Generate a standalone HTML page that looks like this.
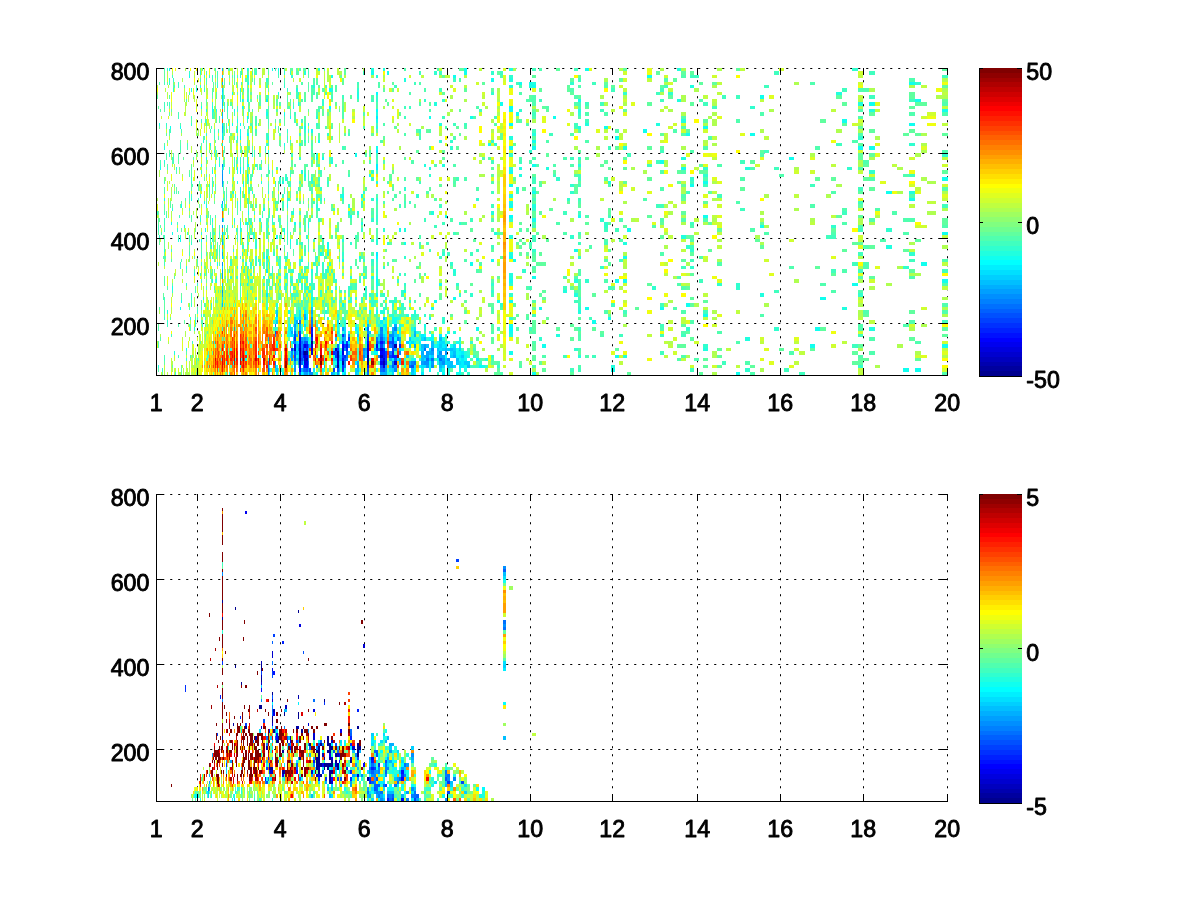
<!DOCTYPE html>
<html><head><meta charset="utf-8"><title>figure</title>
<style>html,body{margin:0;padding:0;background:#fff}svg{display:block}text{font-family:"Liberation Sans",Arial,Helvetica,sans-serif;font-size:23.2px;fill:#000;stroke:#000;stroke-width:0.9px;stroke-linejoin:round}</style></head>
<body>
<svg width="1200" height="900" viewBox="0 0 1200 900">
<rect width="1200" height="900" fill="#fff"/>
<g stroke="#000" stroke-width="1" stroke-dasharray="2.1 5.9" fill="none"><path stroke-dashoffset="-4.2" d="M197.5 68V375M280.5 68V375M364.5 68V375M447.5 68V375M530.5 68V375M612.5 68V375M697.5 68V375M780.5 68V375M863.5 68V375M947.5 68V375"/><path stroke-dashoffset="-6.2" d="M156 68.5H948M156 153.5H948M156 238.5H948M156 323.5H948"/></g>
<g fill="none" shape-rendering="crispEdges"><path stroke="#00008f" stroke-width="2" d="M300 358v3M305 351v4M312 341v3M368 355v10"/>
<path stroke="#00009f" stroke-width="2" d="M338 365v3"/>
<path stroke="#0000af" stroke-width="2" d="M300 348v10M307 351v4M307 358v3M338 351v7M343 361v4M384 361v4"/>
<path stroke="#0000af" stroke-width="3" d="M395.5 344v4"/>
<path stroke="#0000bf" stroke-width="2" d="M295 348v3M300 361v4M312 344v4M336 348v3"/>
<path stroke="#0000bf" stroke-width="3" d="M381.5 355v3"/>
<path stroke="#0000cf" stroke-width="1" d="M303.5 351v4"/>
<path stroke="#0000cf" stroke-width="2" d="M305 355v6M338 358v7"/>
<path stroke="#0000cf" stroke-width="3" d="M381.5 348v3M395.5 361v4"/>
<path stroke="#0000df" stroke-width="2" d="M300 344v4M305 344v4M305 361v4M312 334v3M312 348v7M343 348v7M368 344v11M384 358v3M384 365v3"/>
<path stroke="#0000ef" stroke-width="2" d="M295 344v4M300 337v4M300 365v3M307 361v4M377 344v4"/>
<path stroke="#0000ef" stroke-width="3" d="M381.5 361v4"/>
<path stroke="#0000ff" stroke-width="2" d="M300 341v3M300 368v4M305 365v3M307 355v3M307 365v3M343 344v4"/>
<path stroke="#0000ff" stroke-width="3" d="M381.5 351v4"/>
<path stroke="#0010ff" stroke-width="1" d="M303.5 355v3"/>
<path stroke="#0010ff" stroke-width="2" d="M307 344v4M312 327v4M343 358v3M347 344v4M368 341v3M368 365v3M384 348v10"/>
<path stroke="#0010ff" stroke-width="3" d="M381.5 341v3"/>
<path stroke="#0020ff" stroke-width="1" d="M303.5 348v3"/>
<path stroke="#0020ff" stroke-width="2" d="M300 334v3M312 331v3M312 337v4M347 348v3M393 351v7M400 344v4"/>
<path stroke="#0020ff" stroke-width="3" d="M381.5 358v3M395.5 355v3"/>
<path stroke="#0030ff" stroke-width="1" d="M303.5 344v4"/>
<path stroke="#0030ff" stroke-width="2" d="M292 348v3M295 337v4M307 348v3M334 351v4M336 355v3M338 348v3M343 334v3M343 365v7M345 355v3M349 337v4M368 337v4M386 355v3M386 361v4"/>
<path stroke="#0040ff" stroke-width="2" d="M295 355v3M302 358v3M310 368v4M334 368v4M336 351v4M343 341v3M343 355v3M345 344v4M347 341v3M368 334v3M377 348v3M386 351v4M386 358v3M393 341v3M393 348v3"/>
<path stroke="#0040ff" stroke-width="3" d="M381.5 344v4M390.5 355v3"/>
<path stroke="#0050ff" stroke-width="1" d="M268.5 368v4M275.5 331v3"/>
<path stroke="#0050ff" stroke-width="2" d="M295 334v3M295 351v4M295 358v3M300 331v3M300 372v3M302 351v4M305 341v3M307 341v3M307 368v4M338 368v4M368 368v4M377 341v3M384 341v3M393 337v4M393 344v4"/>
<path stroke="#0050ff" stroke-width="3" d="M381.5 365v3M390.5 341v3M412.5 365v3"/>
<path stroke="#0060ff" stroke-width="1" d="M268.5 372v3M308.5 361v4"/>
<path stroke="#0060ff" stroke-width="2" d="M302 355v3M305 368v4M345 358v3M347 351v4M379 348v3M384 368v4M393 365v3"/>
<path stroke="#0060ff" stroke-width="3" d="M381.5 337v4M395.5 358v3"/>
<path stroke="#0070ff" stroke-width="1" d="M303.5 368v4M308.5 344v4M308.5 355v3"/>
<path stroke="#0070ff" stroke-width="2" d="M295 331v3M300 320v4M302 341v3M302 348v3M302 361v4M338 344v4M347 355v3M368 327v4M368 372v3M377 337v4M393 361v4M410 365v3M415 361v4M425 348v3"/>
<path stroke="#0070ff" stroke-width="3" d="M381.5 368v4M427.5 358v3M432.5 358v3M440.5 358v3"/>
<path stroke="#0080ff" stroke-width="1" d="M222.5 164v3M268.5 361v4M275.5 324v3M275.5 361v4M298.5 348v3M303.5 358v3M303.5 365v3M308.5 365v3"/>
<path stroke="#0080ff" stroke-width="2" d="M295 341v3M302 344v4M305 348v3M312 320v7M345 365v3M358 365v3M364 348v3M364 355v3M379 355v3M398 337v4M400 351v4"/>
<path stroke="#0080ff" stroke-width="3" d="M381.5 327v4M381.5 334v3M390.5 344v4M390.5 351v4M395.5 327v4M395.5 368v4M412.5 361v4M432.5 348v3"/>
<path stroke="#008fff" stroke-width="1" d="M222.5 174v10M222.5 218v4M222.5 225v3M222.5 262v4M222.5 290v3M268.5 365v3M275.5 334v3M275.5 365v3M339.5 355v3"/>
<path stroke="#008fff" stroke-width="2" d="M292 351v4M295 368v4M305 337v4M310 372v3M312 317v3M312 372v3M317 365v3M345 348v3M345 361v4M347 358v3M349 334v3M349 344v4M368 331v3M379 341v3M393 334v3M425 361v4M438 355v3M446 351v4"/>
<path stroke="#008fff" stroke-width="3" d="M381.5 331v3M390.5 334v3M427.5 361v4M432.5 365v3M440.5 351v4M443.5 361v4"/>
<path stroke="#009fff" stroke-width="1" d="M222.5 68v3M222.5 170v4M222.5 201v3M222.5 242v3M222.5 252v4M222.5 269v10M293.5 341v3M298.5 344v4M298.5 361v4M303.5 341v3M308.5 358v3M308.5 368v4"/>
<path stroke="#009fff" stroke-width="2" d="M292 355v6M295 324v3M295 361v7M302 337v4M305 317v3M305 372v3M307 372v3M336 365v3M338 372v3M343 327v4M343 337v4M345 334v3M358 361v4M364 351v4M366 348v3M386 365v7M393 331v3M400 337v4M415 344v4M425 344v4"/>
<path stroke="#009fff" stroke-width="3" d="M395.5 348v3M395.5 365v3M422.5 361v4M427.5 351v7M427.5 365v3M432.5 351v4M432.5 361v4M443.5 358v3M448.5 358v3"/>
<path stroke="#00afff" stroke-width="1" d="M222.5 82v3M222.5 112v4M222.5 126v3M222.5 184v3M222.5 293v4M222.5 303v4M269.5 368v4M293.5 348v3M298.5 358v3M303.5 337v4M339.5 358v3M339.5 368v4"/>
<path stroke="#00afff" stroke-width="2" d="M292 331v3M295 327v4M297 320v4M300 324v7M302 368v4M305 314v3M307 337v4M310 344v4M312 310v4M332 372v3M341 358v3M364 358v3M368 324v3M384 337v4M384 344v4M384 372v3M386 372v3M393 327v4M400 358v3M410 361v4M415 334v3M425 355v3M430 351v4"/>
<path stroke="#00afff" stroke-width="3" d="M381.5 372v3M390.5 358v3M395.5 324v3M395.5 341v3M422.5 351v4M440.5 355v3M440.5 361v4M443.5 355v3M454.5 355v3"/>
<path stroke="#00bfff" stroke-width="1" d="M222.5 102v4M222.5 116v3M222.5 129v4M222.5 232v3M222.5 239v3M268.5 337v4M308.5 348v7M324.5 365v3M339.5 351v4"/>
<path stroke="#00bfff" stroke-width="2" d="M277 314v3M277 368v4M297 334v3M297 344v4M297 351v4M297 358v3M317 355v3M336 337v4M336 358v3M341 355v3M345 337v4M358 334v3M358 368v4M366 351v4M370 331v3M375 348v3M379 334v3M400 341v3M415 331v3M425 337v4M430 358v3M438 348v3M446 348v3"/>
<path stroke="#00bfff" stroke-width="3" d="M390.5 337v4M390.5 365v3M412.5 368v4M422.5 344v4M422.5 355v6M427.5 344v4M432.5 341v7M440.5 337v4M440.5 365v3M448.5 365v3M451.5 348v3M451.5 361v7M454.5 351v4M457.5 358v3M468.5 365v3"/>
<path stroke="#00cfff" stroke-width="1" d="M222.5 88v4M222.5 95v7M222.5 123v3M222.5 208v3M222.5 235v4M222.5 256v3M222.5 283v3M275.5 351v4M275.5 368v4M290.5 327v4M293.5 337v4M303.5 361v4M339.5 341v3M339.5 365v3"/>
<path stroke="#00cfff" stroke-width="2" d="M277 310v4M277 320v4M289 358v3M295 317v7M312 307v3M312 314v3M334 358v3M334 372v3M349 351v4M356 368v7M366 355v3M379 337v4M384 317v3M393 368v4M398 334v3M400 361v4M410 337v4"/>
<path stroke="#00cfff" stroke-width="3" d="M395.5 331v6M407.5 341v3M407.5 355v3M412.5 372v3M422.5 348v3M432.5 355v3M440.5 344v4M443.5 348v3M448.5 348v3M448.5 361v4M451.5 355v3M454.5 348v3M457.5 361v4M462.5 355v3M465.5 361v4M468.5 361v4"/>
<path stroke="#00dfff" stroke-width="1" d="M222.5 75v3M222.5 106v3M222.5 136v4M222.5 167v3M222.5 204v4M222.5 249v3M222.5 266v3M222.5 286v4M222.5 300v3M226.5 361v4M268.5 341v3M290.5 355v3M298.5 351v4M303.5 372v3M339.5 348v3M339.5 361v4"/>
<path stroke="#00dfff" stroke-width="2" d="M277 344v4M292 327v4M292 334v3M297 341v3M297 348v3M300 314v6M305 324v3M334 348v3M338 320v4M345 327v7M345 341v3M345 372v3M358 372v3M379 344v4M384 334v3M386 337v4M386 348v3M393 372v3M400 348v3M410 344v4M415 365v3M425 358v3M425 365v3M430 348v3M438 351v4M446 344v4M446 358v7M460 348v3M460 361v4"/>
<path stroke="#00dfff" stroke-width="3" d="M390.5 368v4M412.5 341v3M422.5 337v4M422.5 365v3M440.5 341v3M440.5 348v3M440.5 368v4M443.5 341v3M443.5 365v3M451.5 351v4M454.5 344v4M454.5 365v3"/>
<path stroke="#00efff" stroke-width="1" d="M222.5 92v3M222.5 133v3M222.5 143v3M222.5 297v3M240.5 136v4M240.5 167v7M240.5 191v3M240.5 222v3M247.5 174v3M269.5 372v3M290.5 331v6M298.5 355v3M308.5 337v4M308.5 372v3M324.5 361v4"/>
<path stroke="#00efff" stroke-width="2" d="M267 99v3M267 256v3M267 269v4M267 293v4M277 372v3M300 310v4M305 310v4M307 317v3M314 368v4M338 331v3M341 351v4M349 341v3M356 327v4M356 361v4M358 331v3M377 116v3M377 150v3M377 164v6M377 252v4M384 324v3M386 324v7M393 358v3M398 358v3M415 327v4M415 368v7M430 355v3M438 344v4M460 344v4M460 355v3M460 365v3"/>
<path stroke="#00efff" stroke-width="3" d="M381.5 320v4M422.5 334v3M422.5 372v3M440.5 334v3M443.5 344v4M462.5 351v4M462.5 358v10M477.5 358v3"/>
<path stroke="#00ffff" stroke-width="1" d="M224.5 344v4M240.5 123v3M240.5 283v3M241.5 358v3M247.5 75v3M247.5 99v3M247.5 116v3M247.5 133v3M247.5 222v3M247.5 283v3M287.5 334v3M290.5 324v3M298.5 317v3M298.5 341v3"/>
<path stroke="#00ffff" stroke-width="2" d="M246 358v3M277 317v3M277 341v3M277 365v3M283 372v3M289 327v7M292 341v3M297 317v3M302 372v3M307 314v3M312 297v3M317 372v3M323 368v4M330 88v4M330 106v3M334 355v3M338 314v3M338 324v3M341 341v3M341 361v4M343 303v4M343 372v3M345 368v4M358 337v4M375 351v4M377 92v3M377 109v3M377 256v3M377 279v4M377 351v4M386 334v3M400 327v4M410 341v3M415 341v3M415 358v3M420 341v3M420 348v3M420 365v3M425 334v3M430 337v4M430 361v4M430 368v4M438 341v3M438 358v3M446 355v3M460 351v4M460 368v4"/>
<path stroke="#00ffff" stroke-width="3" d="M395.5 337v4M432.5 337v4M443.5 372v3M457.5 355v3M480.5 365v3"/>
<path stroke="#00ffff" stroke-width="4" d="M511 106v3M511 123v3M511 215v3M511 327v4"/>
<path stroke="#10ffef" stroke-width="1" d="M159.5 123v3M160.5 167v3M164.5 198v3M164.5 249v3M169.5 68v3M170.5 126v3M171.5 222v3M172.5 232v3M172.5 286v4M173.5 88v4M180.5 126v3M180.5 239v3M180.5 307v3M181.5 204v4M181.5 300v3M184.5 225v3M186.5 348v3M189.5 75v3M194.5 273v3M196.5 88v4M200.5 194v4M201.5 106v3M201.5 164v3M201.5 239v3M204.5 201v3M205.5 228v4M206.5 109v3M206.5 204v4M209.5 184v3M210.5 143v3M212.5 106v6M212.5 170v4M212.5 184v3M212.5 218v4M212.5 225v3M212.5 279v4M213.5 109v3M216.5 109v3M217.5 262v4M219.5 164v3M224.5 232v3M232.5 92v3M232.5 123v3M233.5 191v3M233.5 361v4M234.5 109v3M234.5 218v4M237.5 119v4M237.5 126v7M237.5 157v3M237.5 167v3M237.5 181v3M240.5 129v7M240.5 187v4M240.5 228v4M240.5 365v3M242.5 99v3M242.5 106v3M243.5 181v6M247.5 68v3M247.5 160v7M248.5 82v3M248.5 126v3M248.5 133v3M248.5 164v3M248.5 177v4M248.5 211v4M252.5 126v3M252.5 191v3M258.5 355v3M268.5 150v3M268.5 358v3M272.5 68v3M275.5 317v3M275.5 327v4M278.5 68v3M284.5 112v4M284.5 143v3M284.5 228v4M287.5 198v3M287.5 204v4M290.5 116v3M290.5 239v3M293.5 211v4M293.5 334v3M298.5 102v4M308.5 222v6M308.5 341v3M339.5 334v3"/>
<path stroke="#10ffef" stroke-width="2" d="M246 351v4M264 208v3M267 112v4M277 235v4M289 310v4M289 324v3M289 334v3M295 222v3M295 314v3M295 372v3M297 355v3M305 126v3M305 174v3M310 341v3M312 129v4M312 303v4M317 157v3M319 140v3M319 327v4M321 252v4M323 157v3M328 242v7M328 252v4M332 75v3M336 361v4M338 327v4M341 365v3M343 194v4M343 259v3M351 215v3M356 153v4M356 324v3M358 327v4M360 256v3M362 194v4M366 327v4M366 341v3M368 320v4M370 174v3M370 310v4M377 119v4M377 146v4M377 276v3M377 283v3M377 293v4M377 310v4M386 317v3M388 71v4M393 317v7M400 228v4M400 334v3M405 242v3M405 290v3M405 365v3M425 324v3M430 116v3M430 317v3M430 365v3M446 215v3M446 334v3M460 358v3M460 372v3"/>
<path stroke="#10ffef" stroke-width="3" d="M372.5 71v4M395.5 317v7M402.5 348v3M412.5 358v3M432.5 307v3M432.5 334v3M435.5 300v3M435.5 344v4M440.5 283v3M443.5 337v4M451.5 344v4M454.5 75v3M454.5 297v3M457.5 341v3M457.5 348v7M457.5 372v3M465.5 68v7M465.5 355v6M465.5 365v3M471.5 116v3M471.5 262v4M477.5 327v4M483.5 365v3M489.5 143v3M492.5 78v4M492.5 259v3M498.5 300v3M501.5 102v4M514.5 259v3M517.5 112v4M520.5 82v3M530.5 82v3M540.5 307v3M554.5 116v3M579.5 99v3M579.5 215v3M609.5 317v3"/>
<path stroke="#10ffef" stroke-width="4" d="M511 109v3M511 146v4M511 170v4M511 184v3M511 204v4M511 256v3M511 279v4M511 300v3M511 324v3M511 331v3M511 351v4M534 85v3M534 140v3M534 146v4M534 164v3M534 191v3M534 218v4M534 276v3M534 372v3M544 344v4M576 249v3M587 68v3M587 307v3M594 320v4M606 126v3M613 368v4M617 136v4M617 279v4M617 355v3M625 256v3M625 279v4M629 228v4M645 129v4M662 160v4M662 307v3M688 133v3M688 303v4M692 184v3M738 372v3M762 95v4M762 225v3"/>
<path stroke="#10ffef" stroke-width="5" d="M649.5 75v3M683.5 167v3M705.5 126v3M705.5 181v3M705.5 215v3M705.5 314v3M752.5 133v3M791.5 157v3M812.5 344v4M817.5 327v4M844.5 119v4M860.5 146v4"/>
<path stroke="#10ffef" stroke-width="6" d="M823 297v3M855 283v3M872 102v4M872 146v4M889 191v3M906 368v4M912 82v3M912 123v3M912 198v3M918 99v3M918 368v4M924 262v4M945 109v3M945 177v4M945 232v3M945 279v4M945 344v4"/>
<path stroke="#20ffdf" stroke-width="1" d="M158.5 365v3M164.5 146v4M164.5 160v4M167.5 310v4M169.5 78v4M172.5 208v3M174.5 351v4M176.5 167v3M178.5 239v3M180.5 235v4M186.5 266v3M190.5 317v3M191.5 88v4M191.5 198v3M194.5 327v4M195.5 320v4M200.5 71v4M200.5 146v4M203.5 140v3M204.5 88v4M206.5 123v3M206.5 157v3M206.5 215v3M212.5 112v4M212.5 256v3M214.5 150v3M214.5 341v3M216.5 279v4M217.5 85v3M219.5 157v3M219.5 334v3M222.5 327v4M227.5 235v4M229.5 170v4M234.5 164v3M235.5 194v4M235.5 358v3M237.5 136v4M237.5 170v4M237.5 201v3M240.5 88v4M240.5 95v4M240.5 225v3M242.5 314v3M242.5 324v3M243.5 327v4M247.5 157v3M247.5 181v3M247.5 252v4M247.5 297v3M248.5 75v3M248.5 232v3M252.5 153v4M253.5 235v4M258.5 259v3M261.5 181v3M261.5 225v3M268.5 136v4M268.5 191v3M269.5 211v4M272.5 218v4M275.5 320v4M278.5 92v3M281.5 368v4M290.5 71v4M290.5 242v3M293.5 106v3M298.5 92v3M308.5 123v3M308.5 129v4M324.5 368v4M339.5 344v4M339.5 372v3"/>
<path stroke="#20ffdf" stroke-width="2" d="M231 348v3M260 167v3M260 355v3M267 307v3M271 368v4M277 303v4M283 181v3M286 177v4M297 88v4M297 324v3M300 279v4M302 170v4M302 259v3M302 327v4M305 71v4M305 320v4M307 310v4M312 177v4M312 269v4M312 293v4M312 300v3M314 85v3M317 116v3M317 153v4M317 204v4M319 68v3M326 310v4M328 317v3M330 262v4M332 88v4M332 160v4M334 361v4M341 324v3M343 239v3M343 331v3M345 320v7M349 211v4M349 331v3M351 276v3M358 92v7M358 211v4M360 368v4M362 222v3M364 276v3M377 75v3M377 112v4M377 126v3M377 181v3M377 198v3M377 239v3M377 259v3M377 269v4M377 368v4M379 324v3M379 331v3M384 68v3M384 310v4M384 327v7M386 320v4M386 331v3M388 372v3M393 303v4M393 314v3M398 317v3M400 324v3M400 331v3M405 78v4M405 228v4M415 310v4M420 334v3M425 164v3M430 167v3M430 331v3M438 361v4M460 337v7"/>
<path stroke="#20ffdf" stroke-width="3" d="M372.5 68v3M372.5 276v3M381.5 310v4M407.5 314v3M412.5 327v4M412.5 337v4M417.5 331v3M417.5 337v4M422.5 368v4M427.5 337v4M432.5 211v4M435.5 102v4M440.5 123v3M443.5 164v3M443.5 368v4M448.5 331v3M448.5 341v3M448.5 368v7M454.5 269v4M454.5 331v3M465.5 351v4M465.5 368v4M468.5 355v3M486.5 358v3M492.5 211v4M495.5 232v3M517.5 187v4M520.5 167v3M520.5 174v3M530.5 85v3M547.5 167v3M579.5 109v3M579.5 126v3M579.5 164v3M579.5 310v4M579.5 355v3M609.5 181v3"/>
<path stroke="#20ffdf" stroke-width="4" d="M511 68v3M511 78v4M511 85v3M511 136v4M511 194v4M511 201v3M511 235v4M511 252v4M511 273v6M511 334v3M534 82v3M534 133v3M534 204v4M558 334v3M565 290v3M576 279v4M576 293v4M587 123v3M613 365v3M625 146v4M625 242v3M625 355v3M658 123v3M679 68v3M679 99v3M692 85v3M762 293v4"/>
<path stroke="#20ffdf" stroke-width="5" d="M683.5 119v4M683.5 157v3M683.5 235v4M705.5 348v3M747.5 167v3M747.5 337v4M844.5 307v3M860.5 102v4"/>
<path stroke="#20ffdf" stroke-width="6" d="M839 92v3M872 109v3M872 327v4M889 245v4M912 191v3"/>
<path stroke="#30ffcf" stroke-width="1" d="M159.5 235v4M160.5 164v3M162.5 368v4M164.5 228v4M164.5 317v3M166.5 123v3M166.5 215v3M167.5 68v3M167.5 320v4M169.5 82v3M169.5 102v4M169.5 153v4M172.5 157v3M172.5 290v3M173.5 78v4M175.5 372v3M177.5 228v4M178.5 82v3M180.5 266v3M186.5 283v3M186.5 358v3M187.5 232v3M189.5 71v4M189.5 191v7M191.5 123v3M191.5 177v7M191.5 242v3M191.5 297v3M191.5 303v4M197.5 283v3M197.5 310v4M200.5 85v3M200.5 218v4M200.5 273v3M201.5 187v4M201.5 232v3M201.5 307v3M201.5 314v3M202.5 324v3M203.5 297v3M204.5 273v3M206.5 133v3M207.5 355v3M208.5 355v3M210.5 242v3M211.5 245v4M211.5 303v7M212.5 75v3M214.5 129v4M214.5 232v3M214.5 286v4M215.5 68v3M215.5 164v3M215.5 344v4M216.5 150v3M216.5 157v3M219.5 160v4M219.5 232v3M219.5 249v3M221.5 204v4M221.5 358v3M222.5 337v4M223.5 126v3M223.5 164v3M223.5 181v3M223.5 218v4M223.5 256v3M224.5 102v4M224.5 129v4M224.5 225v3M224.5 303v4M226.5 194v4M226.5 204v4M227.5 106v6M229.5 372v3M233.5 177v4M233.5 249v3M234.5 157v3M235.5 256v3M236.5 228v4M237.5 109v3M237.5 235v4M237.5 266v3M237.5 276v3M240.5 75v3M240.5 99v3M240.5 160v4M240.5 201v3M240.5 235v4M241.5 71v4M241.5 266v3M242.5 252v4M243.5 88v4M243.5 106v3M243.5 167v3M243.5 245v4M243.5 259v3M244.5 194v4M244.5 249v3M244.5 269v4M247.5 119v4M247.5 153v4M247.5 170v4M247.5 198v3M247.5 235v4M247.5 269v7M247.5 293v4M248.5 187v4M248.5 204v4M248.5 276v3M248.5 341v3M249.5 218v4M249.5 235v4M252.5 170v4M252.5 259v3M253.5 232v3M253.5 266v3M254.5 211v4M254.5 235v4M258.5 368v4M262.5 215v3M265.5 146v4M268.5 167v3M268.5 259v3M269.5 262v4M269.5 279v4M272.5 269v4M275.5 181v3M275.5 283v3M278.5 71v4M278.5 262v4M278.5 273v3M278.5 283v3M278.5 368v4M281.5 334v3M281.5 365v3M284.5 71v4M284.5 85v3M284.5 232v3M287.5 88v4M287.5 129v4M287.5 136v4M287.5 232v7M287.5 252v7M287.5 273v6M287.5 341v3M290.5 218v4M290.5 245v4M290.5 276v3M290.5 290v3M290.5 351v4M290.5 372v3M293.5 269v4M293.5 351v4M293.5 358v3M298.5 187v4M298.5 276v3M298.5 283v3M298.5 307v3M303.5 276v3M308.5 239v3M308.5 245v4M308.5 286v7M308.5 297v3M315.5 256v6M324.5 358v3M339.5 259v3M339.5 300v3M339.5 331v3"/>
<path stroke="#30ffcf" stroke-width="2" d="M231 262v4M231 276v3M246 222v3M246 262v4M251 222v3M251 262v4M251 273v3M251 279v4M256 164v3M256 239v10M256 256v3M256 297v3M260 218v4M260 262v4M264 256v3M264 276v3M267 78v4M267 109v3M267 133v3M267 143v3M267 222v3M267 228v4M267 262v4M267 286v4M271 273v3M274 252v4M274 320v4M280 177v7M280 256v3M280 266v3M280 279v4M283 368v4M286 256v3M286 266v3M286 273v6M286 283v7M289 198v3M289 317v3M292 75v3M292 211v4M292 269v4M292 279v4M292 293v4M292 365v3M297 242v3M297 279v4M297 331v3M300 143v3M300 157v3M300 262v4M300 273v3M302 242v3M302 276v3M302 283v3M302 331v3M305 129v4M305 140v3M305 177v4M305 249v3M305 286v4M305 307v3M305 327v4M307 235v4M307 276v7M307 286v4M307 334v3M310 283v3M310 290v3M312 181v3M312 273v3M312 279v4M312 290v3M314 262v4M314 286v4M317 123v3M317 256v3M317 266v7M317 324v3M319 164v3M319 177v4M319 208v3M319 218v4M321 187v4M321 198v3M321 290v7M323 99v7M323 239v3M323 262v4M323 273v3M326 269v4M326 276v3M328 133v3M328 181v3M328 249v3M328 269v4M328 286v4M330 351v4M332 157v3M332 290v3M334 273v6M334 300v3M334 324v3M336 279v4M336 286v4M336 372v3M338 317v3M338 334v3M341 194v4M343 198v3M343 252v4M343 317v3M345 297v3M349 204v4M349 286v4M349 300v3M351 242v3M351 286v4M351 297v6M356 297v3M358 88v4M358 341v3M360 279v4M362 201v3M362 228v4M362 300v3M364 191v3M364 198v3M364 259v3M366 286v11M366 307v3M370 293v4M375 300v3M377 95v7M377 215v7M377 242v3M377 262v7M377 273v3M377 286v4M377 320v4M379 283v3M384 228v4M384 266v3M384 293v4M384 307v3M386 297v3M386 341v3M388 242v3M393 300v3M398 279v4M398 307v3M400 273v3M400 314v6M400 372v3M405 187v4M405 256v3M405 283v3M405 358v3M410 300v3M415 314v3M415 337v4M420 129v4M420 344v4M420 358v3M425 99v3M425 314v3M425 327v4M430 174v3M460 222v3M460 293v4"/>
<path stroke="#30ffcf" stroke-width="3" d="M372.5 170v4M372.5 177v4M372.5 198v3M372.5 218v4M372.5 259v3M372.5 300v7M372.5 351v4M381.5 324v3M390.5 300v3M390.5 314v3M390.5 372v3M395.5 300v3M395.5 310v4M402.5 290v7M402.5 303v4M412.5 314v3M412.5 334v3M417.5 194v4M435.5 71v4M440.5 140v3M443.5 99v3M443.5 252v4M443.5 317v7M451.5 140v3M451.5 146v4M451.5 262v4M454.5 273v3M457.5 283v3M468.5 351v4M468.5 372v3M471.5 293v4M471.5 341v3M474.5 355v3M477.5 198v3M480.5 361v4M486.5 365v3M492.5 71v4M492.5 92v3M492.5 140v3M492.5 283v3M492.5 290v3M492.5 355v3M495.5 143v3M498.5 365v3M501.5 303v4M517.5 191v3M520.5 109v3M530.5 150v3M540.5 337v4M568.5 198v3M579.5 112v4M579.5 157v3M579.5 256v3M579.5 307v3"/>
<path stroke="#30ffcf" stroke-width="4" d="M511 75v3M511 153v4M511 167v3M511 218v4M511 283v3M511 293v4M511 317v3M524 269v4M534 208v3M534 249v3M558 177v4M572 82v3M572 184v3M572 191v3M572 235v4M576 348v3M587 279v4M602 218v4M602 266v3M606 222v6M625 92v3M654 286v4M688 245v4M688 327v4M692 177v4M692 249v3M692 266v3M738 283v7"/>
<path stroke="#30ffcf" stroke-width="5" d="M670.5 92v3M705.5 167v3M705.5 174v3M705.5 344v4M719.5 283v3M747.5 368v4M752.5 106v3M776.5 327v4M833.5 225v3M849.5 167v3M860.5 136v4M860.5 293v4M860.5 365v3"/>
<path stroke="#30ffcf" stroke-width="6" d="M855 68v3M872 170v4M889 228v4M906 266v3M912 143v3M912 252v4M918 82v3M945 153v4"/>
<path stroke="#40ffbf" stroke-width="1" d="M157.5 211v4M158.5 225v7M158.5 344v4M164.5 82v3M164.5 102v7M164.5 181v3M164.5 211v4M164.5 218v7M164.5 235v4M164.5 262v4M164.5 297v3M164.5 310v4M164.5 358v3M167.5 167v3M167.5 324v3M169.5 129v4M170.5 129v4M171.5 249v3M171.5 334v3M172.5 75v3M173.5 160v4M174.5 85v3M174.5 191v3M177.5 222v3M178.5 85v3M178.5 112v7M178.5 355v3M179.5 215v3M180.5 146v4M180.5 262v4M184.5 85v3M186.5 99v3M187.5 143v3M189.5 92v3M189.5 174v3M189.5 235v4M189.5 252v4M190.5 355v3M191.5 116v3M191.5 194v4M191.5 215v3M191.5 293v4M192.5 184v3M192.5 341v3M195.5 290v3M195.5 317v3M195.5 324v3M196.5 358v3M197.5 259v3M198.5 187v4M198.5 198v3M198.5 358v3M199.5 181v3M199.5 239v3M201.5 119v4M201.5 170v4M201.5 252v7M201.5 300v3M202.5 68v3M204.5 75v3M204.5 136v4M204.5 303v4M205.5 119v4M205.5 317v3M206.5 78v4M206.5 174v3M206.5 273v3M206.5 358v3M207.5 307v3M207.5 358v3M208.5 351v4M209.5 75v3M209.5 187v4M210.5 222v3M210.5 232v10M211.5 126v3M212.5 78v4M212.5 92v3M212.5 102v4M212.5 116v3M212.5 177v7M212.5 191v3M212.5 273v3M213.5 116v3M213.5 239v3M213.5 245v4M214.5 136v4M214.5 259v3M215.5 153v4M215.5 167v3M215.5 174v3M215.5 279v4M215.5 290v3M215.5 331v3M216.5 249v3M216.5 256v3M217.5 71v4M217.5 82v3M217.5 245v4M218.5 129v4M219.5 116v3M219.5 225v3M220.5 273v6M220.5 348v3M223.5 153v4M223.5 242v3M224.5 146v4M224.5 164v3M224.5 194v10M224.5 337v4M226.5 126v3M227.5 279v4M228.5 119v4M229.5 269v4M229.5 355v3M232.5 191v3M232.5 225v3M232.5 269v4M234.5 75v3M234.5 82v3M234.5 112v4M235.5 303v4M235.5 327v4M236.5 140v3M236.5 276v3M237.5 204v4M240.5 143v3M240.5 150v3M240.5 157v3M240.5 204v4M240.5 232v3M240.5 239v6M240.5 273v3M240.5 293v4M240.5 300v3M241.5 82v3M242.5 242v7M243.5 269v4M244.5 126v3M244.5 266v3M247.5 71v4M247.5 78v7M247.5 95v4M247.5 129v4M247.5 143v3M247.5 177v4M247.5 228v4M247.5 239v10M247.5 276v3M247.5 290v3M248.5 68v3M248.5 88v4M248.5 95v7M248.5 174v3M248.5 201v3M248.5 208v3M248.5 242v3M248.5 266v3M248.5 279v4M249.5 109v3M249.5 167v3M249.5 191v3M252.5 71v4M252.5 204v4M252.5 225v3M252.5 232v3M253.5 269v4M254.5 82v3M254.5 150v3M254.5 232v3M258.5 123v3M258.5 348v3M261.5 160v4M262.5 290v3M265.5 150v3M268.5 119v4M268.5 140v6M268.5 184v3M268.5 198v3M268.5 218v4M268.5 249v3M268.5 276v3M268.5 283v3M269.5 215v3M269.5 266v3M269.5 273v3M269.5 365v3M272.5 191v3M272.5 215v3M272.5 222v3M272.5 276v7M275.5 68v3M275.5 126v3M275.5 201v3M275.5 286v4M275.5 310v4M278.5 215v7M281.5 235v4M281.5 351v7M284.5 68v3M284.5 82v3M284.5 191v3M284.5 266v3M284.5 276v3M287.5 99v3M287.5 177v4M287.5 191v3M287.5 201v3M287.5 222v3M287.5 228v4M287.5 239v6M287.5 279v4M290.5 140v3M290.5 170v7M290.5 181v6M290.5 232v3M290.5 269v4M290.5 279v4M290.5 286v4M290.5 314v3M293.5 286v4M293.5 293v4M298.5 273v3M298.5 310v7M303.5 273v3M303.5 297v3M303.5 307v3M308.5 71v4M308.5 177v4M308.5 232v3M308.5 249v3M308.5 262v7M315.5 262v4M324.5 198v3M324.5 273v3M324.5 297v3M324.5 314v6M339.5 327v4"/>
<path stroke="#40ffbf" stroke-width="2" d="M231 194v4M231 259v3M231 365v3M251 228v4M251 266v3M251 344v4M256 71v4M256 119v4M256 129v4M256 259v7M264 252v4M267 85v3M267 95v4M267 116v3M267 136v4M267 235v4M267 249v3M267 259v3M267 279v4M267 290v3M267 300v3M274 222v3M277 167v3M277 201v3M277 208v3M277 256v3M277 276v3M277 307v3M277 327v4M280 222v3M280 259v7M280 273v3M280 286v4M280 297v3M283 194v4M283 201v7M283 228v4M286 174v3M286 259v3M289 184v3M289 269v4M289 320v4M292 153v4M292 283v3M295 112v4M295 119v4M295 286v4M295 293v4M297 95v4M297 239v3M297 293v4M297 310v7M300 133v3M300 181v3M300 222v3M300 259v3M300 276v3M300 307v3M302 119v4M302 286v4M302 300v3M302 324v3M305 123v3M305 170v4M305 218v4M305 266v7M305 276v3M305 283v3M305 290v3M305 334v3M307 266v3M307 293v4M310 218v4M310 337v4M312 85v3M312 150v3M312 276v3M312 283v7M314 92v3M314 201v3M314 239v3M314 283v3M314 297v3M317 112v4M317 194v4M317 208v3M317 259v3M317 297v3M319 109v3M319 184v3M319 262v4M321 170v4M323 245v4M323 252v4M323 266v7M323 276v3M323 300v3M326 256v3M326 273v3M326 290v3M326 303v4M328 266v3M328 307v3M328 368v4M332 95v4M332 269v4M332 297v3M334 208v3M334 279v4M341 290v3M341 300v3M341 334v7M341 348v3M341 368v4M343 95v4M343 146v4M343 191v3M343 256v3M343 320v4M349 133v3M349 174v3M349 293v4M351 266v3M356 235v4M356 283v7M358 82v3M358 348v10M362 204v4M362 297v3M364 71v4M364 269v4M364 293v4M364 324v3M366 266v3M366 276v3M366 297v3M366 344v4M366 372v3M370 300v3M370 324v3M370 358v3M375 344v4M377 123v3M377 153v11M377 170v4M377 201v3M377 208v7M377 300v3M379 317v3M379 361v4M386 303v7M388 368v4M393 307v3M400 204v4M400 307v3M405 106v3M405 116v3M405 201v3M405 273v3M405 297v3M405 307v3M410 106v3M410 201v3M415 82v3M415 317v7M415 348v3M420 71v4M420 136v4M420 181v3M420 242v3M420 337v4M425 218v4M430 249v3M438 372v3M446 341v3"/>
<path stroke="#40ffbf" stroke-width="3" d="M372.5 99v3M372.5 239v3M372.5 262v4M372.5 293v7M381.5 293v4M395.5 85v3M395.5 297v3M402.5 307v3M402.5 314v3M402.5 324v3M412.5 317v3M417.5 314v3M427.5 242v3M435.5 225v3M435.5 327v4M435.5 358v3M440.5 71v4M440.5 88v4M440.5 204v4M440.5 256v3M443.5 116v3M443.5 222v3M448.5 252v4M454.5 78v4M454.5 123v3M454.5 232v3M457.5 177v4M462.5 348v3M462.5 372v3M465.5 123v3M471.5 218v4M471.5 252v4M471.5 365v3M474.5 348v3M474.5 365v3M477.5 249v3M477.5 365v3M480.5 109v3M492.5 160v4M492.5 191v3M492.5 204v4M492.5 245v4M492.5 293v4M495.5 116v3M498.5 327v4M501.5 71v4M517.5 82v3M520.5 160v4M530.5 242v3M530.5 286v4M530.5 327v4M540.5 99v3M554.5 174v3M579.5 78v4M579.5 102v4M579.5 174v7M579.5 184v3M579.5 198v3M579.5 211v4M579.5 232v3M579.5 242v3M579.5 286v4M579.5 297v3M579.5 303v4M579.5 327v4M579.5 368v4M590.5 317v3M609.5 146v4M609.5 215v3M609.5 286v4"/>
<path stroke="#40ffbf" stroke-width="4" d="M534 68v3M534 112v4M534 129v4M534 177v7M534 187v4M534 198v3M534 225v3M534 235v7M534 314v3M551 133v3M565 211v4M565 286v4M565 355v3M572 157v3M572 368v4M576 68v3M576 123v6M576 300v3M587 102v4M587 119v4M594 82v3M594 355v3M602 102v4M602 109v3M606 228v4M606 242v3M613 88v4M613 303v4M617 228v4M621 259v3M621 334v3M625 310v4M629 153v4M658 92v3M658 160v4M658 204v4M662 88v4M662 99v3M662 150v3M662 204v4M662 303v4M662 324v3M662 334v3M662 351v4M666 85v3M688 191v3M692 75v3M692 181v3M692 222v3M692 245v4M692 259v3M692 368v4M701 279v4M724 95v4M724 361v4M738 95v4"/>
<path stroke="#40ffbf" stroke-width="5" d="M649.5 164v3M683.5 266v3M683.5 334v3M696.5 75v3M705.5 102v4M705.5 184v3M705.5 310v4M714.5 106v3M719.5 194v4M742.5 160v4M742.5 208v3M766.5 85v3M766.5 150v3M776.5 71v4M776.5 167v3M776.5 290v3M786.5 368v4M812.5 184v3M828.5 235v4M833.5 235v4M833.5 269v4M844.5 88v4M844.5 211v4M860.5 187v4M860.5 201v3M860.5 228v4M860.5 252v4M860.5 269v4M860.5 334v3"/>
<path stroke="#40ffbf" stroke-width="6" d="M802 372v3M839 143v3M855 262v4M855 344v4M872 71v4M872 95v4M912 99v3M912 174v3M912 259v3M945 75v3M945 204v4M945 269v4M945 320v4"/>
<path stroke="#50ffaf" stroke-width="1" d="M158.5 327v4M158.5 341v3M158.5 368v4M159.5 82v3M159.5 307v3M160.5 109v3M160.5 160v4M160.5 225v3M160.5 337v4M161.5 232v3M163.5 235v4M163.5 256v3M163.5 297v3M164.5 68v3M164.5 143v3M164.5 187v7M164.5 239v3M164.5 256v6M164.5 279v4M164.5 300v3M164.5 355v3M165.5 256v3M166.5 126v3M166.5 153v4M167.5 102v4M167.5 164v3M169.5 95v4M170.5 204v4M171.5 259v3M172.5 160v4M173.5 153v7M174.5 184v3M174.5 276v3M176.5 170v4M176.5 191v3M178.5 157v3M178.5 191v3M178.5 235v4M178.5 324v3M180.5 123v3M180.5 143v3M181.5 129v4M181.5 259v3M181.5 297v3M185.5 198v3M186.5 269v4M187.5 146v4M189.5 201v3M189.5 208v3M189.5 215v3M189.5 239v3M189.5 307v3M189.5 324v3M191.5 167v3M191.5 174v3M191.5 239v3M191.5 300v3M193.5 157v3M194.5 269v4M196.5 153v4M197.5 68v3M197.5 262v4M197.5 317v3M198.5 184v3M200.5 68v3M200.5 78v4M200.5 184v3M200.5 215v3M200.5 341v3M201.5 153v4M201.5 245v4M201.5 262v4M201.5 279v4M201.5 320v4M202.5 320v4M203.5 314v3M204.5 314v3M205.5 324v3M206.5 71v4M206.5 82v3M206.5 119v4M206.5 140v3M206.5 146v4M206.5 160v4M206.5 201v3M206.5 235v4M206.5 252v4M206.5 269v4M206.5 286v4M208.5 215v3M208.5 300v3M209.5 191v7M210.5 129v4M210.5 215v7M210.5 245v4M210.5 256v3M210.5 262v4M210.5 276v3M210.5 314v3M211.5 273v3M212.5 228v7M212.5 239v3M212.5 269v4M213.5 232v3M213.5 252v4M213.5 372v3M214.5 112v4M214.5 133v3M215.5 106v3M215.5 146v4M215.5 184v7M215.5 215v3M216.5 92v7M216.5 153v4M216.5 276v3M216.5 297v3M217.5 75v7M217.5 242v3M217.5 252v4M218.5 136v4M218.5 290v3M219.5 119v4M219.5 235v4M219.5 252v4M220.5 290v3M220.5 314v3M223.5 95v7M223.5 123v3M223.5 129v4M223.5 136v4M223.5 160v4M223.5 167v3M223.5 187v4M223.5 208v3M224.5 82v3M224.5 95v4M224.5 109v3M224.5 126v3M224.5 150v3M224.5 191v3M224.5 204v4M224.5 228v4M225.5 276v3M226.5 123v3M226.5 191v3M226.5 198v3M226.5 228v4M226.5 372v3M227.5 102v4M227.5 112v4M227.5 225v3M227.5 232v3M227.5 269v4M228.5 211v4M228.5 324v3M228.5 348v3M229.5 68v3M229.5 123v10M229.5 140v3M229.5 167v3M232.5 106v3M233.5 327v4M234.5 136v4M234.5 160v4M234.5 167v3M234.5 222v3M236.5 129v4M236.5 160v4M236.5 256v3M237.5 75v3M237.5 85v3M237.5 106v3M237.5 140v3M237.5 160v4M237.5 211v4M237.5 228v7M237.5 239v3M240.5 71v4M240.5 92v3M240.5 164v3M240.5 194v7M240.5 208v3M240.5 218v4M240.5 256v3M240.5 276v7M240.5 286v7M240.5 297v3M241.5 146v7M241.5 228v4M242.5 259v3M243.5 99v3M243.5 109v7M243.5 157v3M243.5 170v4M243.5 191v7M247.5 85v10M247.5 140v3M247.5 146v7M247.5 167v3M247.5 201v3M247.5 225v3M247.5 249v3M247.5 266v3M247.5 337v4M247.5 355v3M248.5 78v4M248.5 92v3M248.5 106v13M248.5 146v4M248.5 191v3M248.5 198v3M248.5 218v7M249.5 187v4M249.5 259v3M252.5 109v3M252.5 129v4M252.5 146v4M252.5 174v3M252.5 279v4M253.5 167v3M253.5 276v3M254.5 68v3M254.5 153v4M254.5 194v4M254.5 218v4M257.5 95v4M257.5 167v3M261.5 222v3M261.5 344v4M262.5 211v4M262.5 300v3M268.5 71v4M268.5 95v4M268.5 106v3M268.5 116v3M268.5 123v3M268.5 133v3M268.5 164v3M268.5 170v4M268.5 187v4M268.5 215v3M268.5 225v3M268.5 232v3M268.5 239v3M268.5 252v4M268.5 279v4M269.5 170v4M269.5 208v3M269.5 232v3M269.5 286v4M269.5 293v4M272.5 170v4M272.5 266v3M272.5 273v3M272.5 283v3M275.5 184v3M275.5 204v4M278.5 75v3M278.5 95v4M278.5 126v3M278.5 187v4M278.5 201v3M278.5 259v3M278.5 269v4M278.5 290v3M278.5 297v3M281.5 358v3M284.5 78v4M284.5 116v3M284.5 146v4M284.5 187v4M284.5 239v3M284.5 245v4M284.5 256v3M284.5 286v4M287.5 181v3M287.5 225v3M287.5 283v3M287.5 293v4M287.5 331v3M287.5 344v4M290.5 92v3M290.5 99v3M290.5 112v4M290.5 143v3M290.5 262v4M293.5 102v4M293.5 249v3M293.5 324v3M298.5 303v4M298.5 365v3M303.5 201v3M303.5 293v4M308.5 68v3M308.5 85v3M308.5 140v3M308.5 174v3M308.5 181v3M308.5 242v3M315.5 273v3M315.5 372v3M324.5 68v3M324.5 256v3M324.5 276v3M339.5 249v3M339.5 256v3M339.5 290v3M339.5 303v4M339.5 324v3M339.5 337v4"/>
<path stroke="#50ffaf" stroke-width="2" d="M231 102v4M246 78v4M251 123v3M251 174v7M251 187v4M251 218v4M251 232v3M256 68v3M256 116v3M256 123v3M256 204v4M260 99v7M260 259v3M264 262v7M264 283v3M267 82v3M267 174v3M267 218v4M267 225v3M267 232v3M267 252v4M267 266v3M267 283v3M267 297v3M267 303v4M271 286v4M274 249v3M274 327v4M277 99v3M277 109v3M277 259v3M280 102v4M280 133v3M280 218v4M280 235v4M280 293v4M283 177v4M289 106v3M289 361v4M292 276v3M295 164v3M297 71v4M297 92v3M297 123v3M297 198v3M297 290v3M300 68v3M300 211v4M300 225v3M300 242v3M302 82v3M302 99v3M302 126v3M302 143v3M302 256v3M302 269v4M302 303v4M305 99v3M305 133v3M305 215v3M305 225v7M305 252v4M305 300v3M307 164v3M307 300v7M307 320v7M310 187v4M312 88v4M312 95v4M312 143v3M312 153v4M312 160v4M312 187v7M312 215v3M314 78v7M314 88v4M314 181v6M314 341v3M314 372v3M317 82v3M317 92v7M317 126v3M317 198v3M317 215v3M317 273v3M317 320v4M319 106v3M319 126v3M319 133v7M319 194v4M319 245v7M321 174v3M321 201v3M321 235v4M321 245v4M321 283v3M323 88v4M323 153v4M323 242v3M323 249v3M323 303v4M323 310v4M326 85v3M326 92v3M326 126v3M328 177v4M328 184v3M328 310v4M328 348v3M330 109v3M330 157v7M330 273v3M330 355v3M332 85v3M332 92v3M332 126v3M332 235v4M334 327v4M334 365v3M336 85v7M336 164v3M336 297v3M336 344v4M338 228v4M341 297v3M341 320v4M343 106v13M343 160v4M343 187v4M343 201v3M343 245v7M343 273v3M345 146v4M345 290v3M345 307v3M345 314v3M347 310v4M349 215v3M349 290v3M351 208v3M351 218v4M351 283v3M356 262v4M356 331v3M358 85v3M358 99v3M358 235v4M358 324v3M358 358v3M360 259v3M360 276v3M360 307v3M362 273v3M364 112v4M364 126v3M364 307v3M366 153v4M366 187v4M366 269v4M366 337v4M370 150v3M370 160v4M370 334v3M375 303v4M375 314v3M377 102v7M377 129v4M377 194v4M377 204v4M377 222v3M377 228v11M377 290v3M377 307v3M377 314v6M377 324v3M377 334v3M379 82v6M384 123v3M384 160v4M384 201v3M384 300v3M384 320v4M388 181v3M388 262v4M388 310v4M393 198v3M393 259v3M398 314v3M398 327v4M405 68v3M405 133v3M405 177v4M405 204v4M405 286v4M405 361v4M410 92v3M410 307v3M415 300v3M420 82v3M420 102v4M420 133v3M420 235v4M420 245v4M420 293v4M420 331v3M425 88v4M425 273v3M430 109v3M430 129v4M430 146v4M430 211v4M438 68v3M446 126v3M460 78v4"/>
<path stroke="#50ffaf" stroke-width="3" d="M353.5 283v7M372.5 95v4M372.5 211v4M372.5 252v4M372.5 269v4M372.5 286v4M381.5 140v3M381.5 303v4M390.5 324v3M390.5 361v4M395.5 194v4M395.5 351v4M402.5 310v4M412.5 160v4M412.5 331v3M417.5 129v4M417.5 317v3M417.5 341v3M427.5 191v3M435.5 164v3M435.5 198v3M443.5 249v3M451.5 218v4M454.5 136v4M454.5 164v3M454.5 181v3M462.5 222v3M465.5 126v3M465.5 177v4M465.5 222v3M465.5 259v3M465.5 290v3M468.5 348v3M471.5 358v3M474.5 116v3M477.5 106v3M477.5 187v4M477.5 269v4M477.5 361v4M480.5 262v4M480.5 358v3M483.5 157v3M489.5 157v3M492.5 181v3M492.5 218v4M492.5 279v4M492.5 286v4M492.5 307v7M492.5 324v3M492.5 331v3M492.5 358v7M495.5 123v3M498.5 232v3M498.5 361v4M501.5 75v3M501.5 307v3M501.5 372v3M517.5 327v4M520.5 85v3M520.5 92v3M520.5 119v4M520.5 157v3M520.5 228v4M520.5 365v3M527.5 99v3M527.5 123v3M527.5 286v4M527.5 317v3M530.5 99v3M530.5 160v4M530.5 245v4M537.5 164v3M540.5 68v3M540.5 184v3M547.5 106v3M547.5 140v3M554.5 164v3M579.5 85v3M579.5 106v3M579.5 116v3M579.5 129v4M579.5 201v3M579.5 269v7M579.5 279v7M579.5 300v3M579.5 334v7M579.5 348v3M579.5 365v3M590.5 245v4M609.5 184v3"/>
<path stroke="#50ffaf" stroke-width="4" d="M534 95v11M534 116v3M534 143v3M534 157v3M534 222v3M534 252v4M534 266v3M534 300v3M534 331v3M534 341v3M534 365v3M544 355v3M558 222v3M565 157v3M565 232v3M565 276v3M572 88v4M572 133v3M572 164v3M576 95v4M576 102v4M576 174v3M576 276v3M576 290v3M587 112v4M587 140v3M587 215v3M587 355v3M602 334v3M606 85v3M606 112v4M606 177v4M606 239v3M606 259v3M606 279v4M606 310v4M613 286v4M617 129v4M621 218v4M621 239v3M645 198v3M654 225v3M662 170v4M662 187v4M662 218v4M662 252v4M662 327v4M666 78v4M675 129v4M675 307v3M679 276v3M679 283v3M679 358v3M692 150v3M692 225v3M692 239v3M692 320v4M701 99v3M701 256v3M710 136v4M738 119v4M738 201v3M738 341v3M762 112v4M762 153v4M762 314v3"/>
<path stroke="#50ffaf" stroke-width="5" d="M683.5 75v3M683.5 116v3M683.5 126v3M683.5 133v3M683.5 170v4M683.5 194v4M683.5 218v4M683.5 286v4M683.5 310v4M683.5 331v3M683.5 355v3M696.5 358v3M705.5 146v4M705.5 177v4M705.5 218v4M719.5 164v3M719.5 262v4M719.5 331v3M742.5 177v4M747.5 361v4M752.5 167v3M752.5 228v4M752.5 372v3M766.5 232v3M781.5 174v3M791.5 266v3M791.5 351v4M812.5 82v3M812.5 204v4M817.5 146v4M833.5 191v3M833.5 232v3M833.5 290v3M844.5 208v3M844.5 222v3M844.5 269v4M860.5 88v4M860.5 109v3M860.5 116v3M860.5 133v3M860.5 167v3M860.5 225v3M860.5 276v3M860.5 290v3M860.5 324v7M860.5 355v3M877.5 208v3M894.5 211v4"/>
<path stroke="#50ffaf" stroke-width="6" d="M823 283v3M855 140v3M866 88v4M866 160v4M866 245v4M866 262v7M866 310v4M872 177v4M872 218v4M872 337v4M872 351v4M883 239v3M906 174v3M906 218v4M906 232v3M906 324v3M912 78v4M912 112v4M912 194v4M912 218v4M912 276v3M912 320v4M918 341v3M945 102v4M945 112v4M945 150v3M945 187v4M945 225v3M945 259v3M945 283v3M945 303v4M945 310v4M945 372v3"/>
<path stroke="#60ff9f" stroke-width="1" d="M157.5 95v4M158.5 106v3M158.5 211v4M158.5 218v7M158.5 232v3M158.5 324v3M159.5 126v3M159.5 218v4M159.5 239v6M162.5 372v3M163.5 293v4M164.5 71v11M164.5 109v3M164.5 164v3M164.5 177v4M164.5 204v7M164.5 225v3M164.5 242v7M164.5 252v4M164.5 276v3M164.5 283v3M164.5 303v7M164.5 314v3M164.5 361v4M166.5 133v3M166.5 157v3M166.5 211v4M167.5 82v3M167.5 140v3M167.5 286v4M169.5 106v3M169.5 112v4M169.5 133v3M169.5 150v3M170.5 201v3M170.5 317v3M171.5 109v3M172.5 204v4M172.5 283v3M172.5 365v3M173.5 82v6M176.5 187v4M178.5 153v4M178.5 160v4M179.5 167v3M180.5 140v3M180.5 150v3M180.5 204v4M181.5 201v3M181.5 228v4M181.5 293v4M181.5 365v10M183.5 157v3M184.5 320v4M186.5 351v4M189.5 170v4M189.5 198v3M189.5 245v7M189.5 259v3M189.5 303v4M190.5 324v7M191.5 119v4M191.5 164v3M191.5 170v4M191.5 184v7M191.5 218v4M191.5 235v4M192.5 355v3M194.5 256v3M195.5 228v4M195.5 286v4M195.5 314v3M196.5 85v3M196.5 361v4M196.5 372v3M197.5 133v3M197.5 307v3M197.5 368v7M199.5 204v4M201.5 102v4M201.5 143v3M201.5 242v3M201.5 249v3M201.5 303v4M203.5 136v4M204.5 85v3M204.5 177v4M204.5 266v3M204.5 361v4M205.5 266v3M205.5 303v4M205.5 334v7M206.5 99v7M206.5 143v3M206.5 167v3M206.5 184v3M206.5 198v3M206.5 222v3M206.5 239v3M206.5 279v4M207.5 324v3M207.5 331v3M208.5 211v4M208.5 365v3M209.5 150v3M210.5 146v4M210.5 252v4M210.5 269v7M211.5 153v4M211.5 276v7M212.5 88v4M212.5 95v4M212.5 167v3M212.5 187v4M212.5 222v3M212.5 235v4M212.5 320v4M212.5 341v3M212.5 351v4M213.5 82v10M213.5 112v4M213.5 181v3M213.5 228v4M213.5 235v4M213.5 242v3M214.5 116v3M214.5 194v4M214.5 201v3M214.5 269v4M215.5 75v3M215.5 82v3M215.5 140v3M215.5 239v3M215.5 300v3M216.5 112v11M216.5 252v4M216.5 300v3M217.5 249v3M217.5 300v3M217.5 314v3M218.5 327v4M218.5 368v4M219.5 228v4M219.5 245v4M219.5 256v3M219.5 262v4M220.5 320v4M221.5 303v7M222.5 351v4M223.5 85v10M223.5 133v3M223.5 150v3M223.5 184v3M223.5 191v3M223.5 198v3M223.5 232v3M223.5 239v3M224.5 78v4M224.5 106v3M224.5 123v3M224.5 133v3M224.5 157v7M224.5 245v4M225.5 290v3M225.5 297v3M225.5 372v3M226.5 129v4M226.5 187v4M227.5 116v3M227.5 181v3M227.5 228v4M228.5 68v3M228.5 208v3M228.5 351v4M229.5 75v3M229.5 82v3M229.5 136v4M229.5 286v4M229.5 293v4M229.5 303v4M232.5 75v3M232.5 184v3M233.5 283v3M233.5 303v4M233.5 310v4M234.5 71v4M234.5 78v4M234.5 317v3M235.5 297v3M235.5 310v4M236.5 82v3M236.5 150v3M236.5 164v3M237.5 92v3M237.5 116v3M237.5 123v3M237.5 208v3M241.5 68v3M242.5 92v3M243.5 123v3M243.5 160v7M243.5 283v3M244.5 150v3M244.5 320v4M247.5 324v3M248.5 71v4M248.5 102v4M248.5 129v4M248.5 136v4M248.5 150v3M248.5 181v3M248.5 215v3M248.5 283v3M249.5 102v4M249.5 146v4M249.5 225v3M249.5 317v3M252.5 78v4M252.5 116v10M252.5 133v3M252.5 150v3M252.5 286v7M254.5 71v4M254.5 78v4M257.5 164v3M261.5 167v3M261.5 174v3M261.5 228v4M262.5 293v4M262.5 317v3M268.5 68v3M268.5 78v7M268.5 88v4M268.5 109v7M268.5 126v3M268.5 153v4M268.5 174v3M268.5 181v3M272.5 82v3M272.5 174v3M272.5 194v4M272.5 228v4M272.5 239v3M275.5 119v4M278.5 129v4M278.5 181v6M278.5 194v7M278.5 293v4M284.5 119v7M284.5 249v3M284.5 297v3M287.5 95v4M287.5 102v7M287.5 133v3M287.5 140v3M287.5 194v4M287.5 208v3M287.5 215v7M287.5 297v3M290.5 68v3M290.5 102v4M290.5 109v3M290.5 191v7M290.5 310v4M293.5 170v4M293.5 208v3M293.5 228v4M293.5 252v4M293.5 361v4M298.5 71v4M298.5 95v7M298.5 293v4M298.5 300v3M303.5 68v3M308.5 75v3M308.5 82v3M308.5 88v4M308.5 109v3M308.5 136v4M308.5 170v4M308.5 184v3M308.5 198v3M308.5 204v4M308.5 218v4M308.5 228v4M308.5 300v3M324.5 88v4M324.5 300v3M324.5 307v7M324.5 355v3M339.5 109v3M339.5 242v3M339.5 307v13"/>
<path stroke="#60ff9f" stroke-width="2" d="M231 133v3M231 314v3M251 92v3M251 99v3M251 184v3M251 204v4M251 286v4M256 133v3M260 95v4M260 153v4M260 164v3M264 204v4M271 297v3M277 102v4M277 245v4M280 119v4M280 140v6M280 225v3M283 208v3M286 290v3M289 181v3M289 337v4M289 351v7M292 68v3M292 160v7M292 170v4M292 297v6M292 344v4M295 116v3M295 225v7M295 297v3M295 303v4M297 68v3M297 85v3M297 191v3M297 303v7M297 327v4M297 361v4M300 102v4M300 126v3M300 187v4M300 201v3M300 232v3M300 303v4M302 140v3M302 184v3M302 245v4M302 317v3M305 68v3M305 92v7M305 116v7M305 136v4M305 143v3M305 164v6M305 222v3M305 245v4M305 297v3M305 303v4M307 211v7M307 307v3M310 181v6M312 92v3M312 99v3M312 133v3M312 140v3M312 146v4M312 164v3M312 174v3M312 198v10M314 153v7M314 174v3M314 249v3M317 78v4M317 109v3M317 160v7M317 184v3M317 201v3M317 211v4M319 85v3M319 123v3M319 170v4M319 181v3M319 252v4M319 314v3M319 368v4M321 106v3M321 194v4M321 218v4M323 109v7M323 372v3M328 112v4M328 303v4M332 99v3M332 123v3M332 136v4M332 204v7M332 300v7M336 102v4M336 228v4M336 235v4M338 222v6M338 310v4M341 75v3M341 307v3M343 78v7M343 99v7M343 235v4M343 242v3M343 266v3M343 307v7M343 324v3M345 68v7M345 133v3M345 303v4M345 310v4M345 317v3M349 129v4M349 170v4M351 95v4M351 211v4M351 222v3M356 239v10M356 259v3M356 303v4M358 215v3M358 232v3M358 239v3M358 266v3M358 310v7M360 314v3M362 218v4M362 225v3M362 252v7M362 310v4M364 256v3M364 266v3M364 317v3M366 273v3M368 317v3M370 153v4M370 314v6M379 279v4M379 320v4M379 327v4M384 88v4M384 136v4M386 99v3M386 249v3M388 102v4M388 191v3M388 361v4M393 82v3M393 88v4M393 170v4M393 184v7M393 310v4M398 320v4M400 112v4M400 191v3M400 300v3M405 157v3M405 194v7M405 314v3M410 355v6M410 372v3M415 204v4M415 279v4M415 324v3M420 262v4M420 273v6M420 307v3M420 320v4M425 331v3M430 102v4M430 187v4M430 314v3M446 337v4M460 68v3M460 109v3M460 133v3"/>
<path stroke="#60ff9f" stroke-width="3" d="M353.5 211v4M372.5 133v3M372.5 208v3M372.5 215v3M372.5 266v3M372.5 279v7M372.5 334v3M390.5 174v7M390.5 242v3M390.5 320v4M390.5 331v3M395.5 126v3M395.5 259v3M395.5 314v3M402.5 242v3M407.5 320v4M412.5 324v3M412.5 355v3M417.5 150v3M417.5 177v4M417.5 266v3M427.5 129v4M435.5 341v3M440.5 184v3M440.5 293v7M443.5 75v3M443.5 92v3M443.5 150v3M443.5 157v3M451.5 266v3M451.5 314v3M451.5 368v4M454.5 177v4M454.5 184v3M454.5 341v3M457.5 126v3M457.5 146v4M457.5 232v3M457.5 286v4M462.5 68v3M465.5 88v4M465.5 300v3M465.5 310v4M465.5 320v4M471.5 228v4M471.5 283v3M474.5 239v3M474.5 344v4M474.5 351v4M477.5 337v4M477.5 351v7M480.5 269v4M483.5 82v3M483.5 358v3M489.5 303v4M492.5 88v4M492.5 167v3M492.5 174v3M492.5 228v4M492.5 249v3M492.5 303v4M492.5 327v4M492.5 337v7M495.5 361v4M495.5 372v3M498.5 71v4M498.5 276v3M498.5 368v7M501.5 133v7M501.5 232v3M501.5 256v3M514.5 143v3M514.5 177v4M514.5 303v4M514.5 317v3M517.5 119v4M517.5 242v3M517.5 314v3M520.5 222v3M520.5 239v3M520.5 245v4M520.5 252v4M520.5 361v4M527.5 228v4M527.5 252v4M527.5 314v3M530.5 95v4M530.5 331v3M537.5 191v3M537.5 232v3M537.5 262v4M540.5 88v4M540.5 181v3M540.5 211v4M540.5 252v4M540.5 262v4M540.5 293v4M540.5 361v4M547.5 109v3M547.5 153v4M547.5 239v3M547.5 317v3M554.5 170v4M568.5 85v7M568.5 201v3M579.5 75v3M579.5 95v4M579.5 150v3M579.5 160v4M579.5 167v3M579.5 181v3M579.5 204v4M579.5 235v4M579.5 290v7M579.5 317v3M579.5 331v3M579.5 351v4M609.5 167v3M609.5 208v7M609.5 222v3M609.5 249v3M609.5 262v4M609.5 314v3"/>
<path stroke="#60ff9f" stroke-width="4" d="M524 187v4M524 242v3M534 75v3M534 109v3M534 136v4M534 174v3M534 194v4M534 201v3M534 211v7M534 256v6M534 269v4M534 307v3M534 320v11M534 344v7M534 355v6M544 106v3M544 262v4M544 290v3M544 297v3M544 368v4M551 208v3M558 68v3M558 327v4M572 78v4M572 92v3M572 286v4M572 324v3M572 337v4M572 372v3M576 184v10M576 327v4M587 106v3M587 157v3M587 222v3M594 293v4M594 327v4M602 164v3M602 331v3M606 82v3M606 160v4M613 85v3M617 146v4M617 348v3M621 78v4M625 68v3M625 109v3M625 157v3M625 167v3M625 181v3M625 225v3M625 314v3M629 372v3M637 307v3M658 71v4M662 85v3M662 133v3M662 146v4M662 222v3M662 235v4M675 78v4M679 170v4M679 181v3M679 344v4M688 129v4M688 235v4M688 286v4M688 331v3M692 71v4M692 102v4M692 235v4M692 252v4M692 273v3M692 297v3M692 303v4M692 337v4M701 82v3M701 164v3M701 170v4M701 372v3M710 191v3M710 222v3M710 249v3M738 68v3M762 150v3M762 222v3M762 245v4"/>
<path stroke="#60ff9f" stroke-width="5" d="M649.5 102v4M649.5 146v4M649.5 177v4M649.5 215v3M649.5 283v3M670.5 95v4M683.5 71v4M683.5 184v3M683.5 198v3M683.5 211v4M683.5 259v3M683.5 324v3M683.5 344v4M705.5 119v4M705.5 170v4M705.5 201v3M705.5 300v3M705.5 358v3M705.5 365v3M714.5 82v3M719.5 228v4M719.5 348v3M719.5 355v3M719.5 365v3M742.5 187v4M752.5 160v4M752.5 365v3M757.5 239v3M781.5 348v3M812.5 348v3M817.5 177v4M817.5 266v3M833.5 177v4M833.5 228v4M833.5 273v3M844.5 102v4M844.5 123v3M844.5 249v3M860.5 126v3M860.5 143v3M860.5 153v7M860.5 191v3M860.5 204v4M860.5 215v3M860.5 242v3M860.5 344v4M860.5 358v7"/>
<path stroke="#60ff9f" stroke-width="6" d="M823 119v4M823 327v4M839 95v4M839 215v3M855 242v3M855 351v4M855 361v4M866 164v3M866 177v4M866 314v3M866 358v3M872 112v4M872 129v4M872 153v4M872 187v4M872 245v4M872 276v3M906 133v3M906 249v3M912 92v7M912 106v3M912 129v4M912 269v4M912 310v4M912 337v4M918 102v4M918 133v3M918 239v3M918 358v3M924 102v4M945 68v3M945 85v3M945 99v3M945 133v3M945 170v4M945 218v7M945 327v4M945 334v3"/>
<path stroke="#afff50" stroke-width="1" d="M157.5 92v3M157.5 198v3M158.5 215v3M159.5 170v7M159.5 310v4M160.5 334v3M164.5 372v3M165.5 177v4M167.5 71v4M167.5 92v3M167.5 317v3M168.5 245v4M168.5 341v3M171.5 112v4M171.5 150v3M171.5 157v3M171.5 187v14M171.5 211v7M171.5 256v3M171.5 307v3M172.5 71v4M172.5 293v4M172.5 361v4M172.5 368v4M174.5 82v3M174.5 187v4M174.5 273v3M175.5 273v3M179.5 170v4M179.5 372v3M181.5 133v3M182.5 78v4M182.5 174v3M182.5 208v3M182.5 273v3M183.5 372v3M184.5 99v3M185.5 68v3M185.5 102v4M185.5 112v4M185.5 201v7M185.5 232v3M185.5 331v6M185.5 372v3M186.5 102v4M186.5 286v4M186.5 372v3M187.5 140v3M187.5 368v7M188.5 232v3M188.5 324v3M188.5 372v3M189.5 211v4M189.5 256v3M189.5 361v7M189.5 372v3M190.5 320v4M191.5 355v3M191.5 365v3M192.5 348v3M192.5 358v3M192.5 372v3M193.5 164v3M193.5 211v4M193.5 355v3M193.5 365v3M194.5 75v3M194.5 82v3M194.5 232v3M194.5 297v3M194.5 331v3M194.5 361v14M195.5 222v3M195.5 365v3M196.5 106v3M196.5 129v4M196.5 150v3M196.5 215v3M196.5 262v7M196.5 355v3M196.5 368v4M197.5 153v4M197.5 358v10M198.5 129v7M198.5 201v3M198.5 266v3M198.5 293v4M198.5 331v3M198.5 348v7M198.5 361v4M199.5 184v3M199.5 337v4M199.5 344v11M200.5 75v3M200.5 191v3M200.5 348v3M201.5 92v3M201.5 109v3M201.5 150v3M201.5 167v3M201.5 204v4M201.5 269v4M201.5 310v4M201.5 317v3M202.5 337v4M203.5 286v4M204.5 123v3M204.5 262v4M204.5 276v3M204.5 334v3M204.5 344v4M205.5 262v4M205.5 331v3M205.5 341v3M206.5 88v4M206.5 150v3M206.5 191v3M206.5 208v7M206.5 249v3M206.5 276v3M206.5 331v3M207.5 88v7M207.5 102v7M207.5 211v7M207.5 222v3M207.5 256v6M207.5 266v3M207.5 297v3M207.5 320v4M208.5 123v3M208.5 331v3M209.5 252v4M210.5 320v7M210.5 337v4M211.5 252v4M211.5 320v4M212.5 317v3M212.5 324v7M214.5 68v3M214.5 106v3M214.5 140v3M214.5 198v3M214.5 228v4M214.5 256v3M214.5 314v3M215.5 71v4M215.5 85v3M215.5 99v7M215.5 109v7M215.5 119v4M215.5 157v3M215.5 191v3M215.5 228v4M215.5 235v4M215.5 242v3M216.5 303v7M216.5 314v3M217.5 303v7M218.5 297v3M218.5 307v3M219.5 310v4M220.5 242v3M220.5 307v3M221.5 95v4M221.5 300v3M223.5 71v4M223.5 102v4M223.5 297v3M224.5 286v7M225.5 293v4M225.5 300v3M225.5 307v3M225.5 314v3M226.5 283v3M226.5 303v4M227.5 99v3M227.5 286v4M228.5 102v4M228.5 279v11M228.5 293v7M229.5 279v7M229.5 297v3M232.5 78v4M232.5 88v4M232.5 102v4M232.5 112v4M232.5 119v4M232.5 290v3M233.5 92v3M233.5 136v4M233.5 181v3M233.5 286v7M233.5 297v3M234.5 187v4M234.5 293v4M235.5 201v7M235.5 283v7M235.5 293v4M236.5 126v3M236.5 143v3M236.5 286v4M236.5 300v3M237.5 68v3M237.5 82v3M237.5 112v4M237.5 133v3M237.5 293v7M242.5 71v4M242.5 109v3M242.5 174v7M242.5 283v3M243.5 92v3M243.5 116v3M243.5 187v4M244.5 198v3M244.5 286v7M244.5 297v3M247.5 300v3M248.5 286v4M248.5 293v4M249.5 106v3M249.5 143v3M249.5 194v4M249.5 283v3M249.5 290v7M249.5 303v4M249.5 314v3M252.5 75v3M252.5 112v4M252.5 143v3M252.5 187v4M252.5 208v3M252.5 297v3M252.5 303v4M252.5 314v3M253.5 194v4M253.5 201v3M253.5 208v3M253.5 286v4M254.5 283v7M258.5 102v7M258.5 184v3M261.5 164v3M262.5 68v3M262.5 187v7M265.5 82v3M265.5 95v7M265.5 153v4M265.5 293v4M265.5 303v4M268.5 75v3M268.5 99v7M268.5 129v4M268.5 157v3M268.5 204v4M268.5 211v4M268.5 293v4M268.5 331v3M269.5 300v3M272.5 300v3M272.5 351v4M275.5 198v3M275.5 303v4M278.5 300v3M278.5 372v3M281.5 225v3M281.5 232v3M281.5 297v3M284.5 300v7M287.5 92v3M287.5 300v7M287.5 320v4M290.5 146v4M290.5 307v3M290.5 368v4M293.5 232v3M293.5 310v4M298.5 297v3M303.5 71v4M303.5 198v3M303.5 222v3M303.5 303v4M308.5 112v4M308.5 201v3M308.5 303v4M308.5 310v4M308.5 320v7M315.5 170v4M315.5 177v4M315.5 184v3M315.5 252v4M324.5 303v4M339.5 106v3M339.5 126v3M339.5 239v3M339.5 252v4"/>
<path stroke="#afff50" stroke-width="2" d="M231 143v7M231 153v4M231 191v3M231 286v4M246 181v3M246 283v3M251 82v3M251 88v4M251 95v4M251 112v11M251 201v3M251 293v7M260 78v7M260 119v4M260 211v4M260 228v4M260 283v17M264 293v4M274 99v7M274 191v7M274 201v3M277 112v4M277 204v4M277 293v10M280 136v4M286 300v3M289 102v4M289 300v7M292 143v3M292 167v3M292 303v4M292 320v4M297 300v3M300 136v4M300 146v4M300 153v4M300 177v4M300 184v3M300 228v4M300 239v3M300 249v3M302 174v7M302 307v3M312 136v4M312 157v3M312 211v4M314 177v4M314 300v7M314 310v4M314 320v4M317 177v4M317 300v3M319 92v3M319 112v4M319 119v4M319 187v4M319 222v3M319 228v4M319 235v4M319 242v3M319 297v3M319 317v3M319 348v3M323 307v3M326 293v10M326 361v4M328 71v11M328 116v13M330 348v3M332 314v3M332 320v4M334 344v4M336 293v4M336 300v3M338 184v3M338 242v3M341 71v4M341 198v3M341 218v4M341 314v6M345 102v4M345 126v3M347 314v3M351 194v4M351 273v3M351 307v3M351 351v4M351 368v4M360 372v3M364 68v3M364 116v3M364 160v4M364 184v7M364 204v4M364 232v3M364 262v4M364 314v3M364 334v3M366 150v3M366 331v6M370 146v4M370 228v4M375 293v4M375 317v3M384 75v3M384 85v3M384 106v3M384 140v3M384 177v4M384 191v3M384 256v3M384 262v4M384 279v11M384 314v3M388 235v4M393 167v3M398 123v3M400 146v4M400 320v4M405 317v3M410 222v3M410 259v3M410 324v10M415 256v3M420 99v3M420 177v4M420 266v3M446 245v4M446 259v3M446 279v4M446 286v4"/>
<path stroke="#afff50" stroke-width="3" d="M353.5 109v3M353.5 116v3M353.5 198v10M372.5 75v3M372.5 320v4M381.5 283v3M390.5 317v3M395.5 208v3M407.5 358v3M412.5 320v4M417.5 133v3M417.5 334v3M422.5 126v3M422.5 279v4M427.5 194v4M427.5 297v3M432.5 194v4M432.5 331v3M440.5 75v3M440.5 133v3M440.5 198v3M440.5 266v3M440.5 279v4M440.5 286v4M448.5 112v4M451.5 95v4M451.5 109v3M451.5 133v3M462.5 341v3M465.5 99v3M465.5 136v4M465.5 211v4M465.5 307v3M471.5 337v4M471.5 348v3M477.5 317v3M480.5 153v4M480.5 174v3M480.5 290v3M480.5 307v3M480.5 314v3M480.5 331v3M483.5 174v3M483.5 215v3M483.5 334v3M483.5 348v3M486.5 106v3M489.5 361v4M492.5 119v4M492.5 129v4M492.5 215v3M498.5 88v4M498.5 99v3M498.5 106v3M498.5 112v4M498.5 164v3M498.5 174v3M498.5 181v3M498.5 208v3M498.5 218v4M498.5 242v3M498.5 262v4M498.5 279v4M498.5 314v3M498.5 348v3M501.5 126v3M501.5 157v3M501.5 331v3M501.5 344v4M514.5 68v3M514.5 181v3M517.5 116v3M517.5 245v4M527.5 204v4M527.5 211v4M527.5 256v3M527.5 262v4M527.5 293v7M537.5 109v3M537.5 372v3M554.5 198v3M579.5 252v4M609.5 310v4"/>
<path stroke="#afff50" stroke-width="4" d="M534 106v3M534 119v4M534 228v4M534 368v4M544 181v3M544 235v4M572 112v4M572 218v4M572 256v3M576 146v4M576 170v4M576 273v3M576 286v4M587 232v3M587 249v3M598 146v4M598 153v4M602 95v4M606 78v4M606 102v4M621 68v3M621 184v3M621 286v4M625 95v4M625 102v4M625 201v3M625 252v4M625 266v3M625 324v3M633 167v3M633 218v4M645 170v4M662 68v3M662 92v3M666 82v3M666 160v7M666 204v4M666 232v3M666 245v4M666 303v4M675 276v3M688 262v4M688 283v3M688 355v3M710 116v3M762 129v4M762 211v4M762 218v4M762 242v3M762 368v4"/>
<path stroke="#afff50" stroke-width="5" d="M670.5 109v3M670.5 211v4M670.5 300v3M670.5 341v3M683.5 68v3M683.5 95v7M683.5 112v4M683.5 146v4M683.5 164v3M683.5 187v7M683.5 215v3M683.5 222v3M696.5 88v4M696.5 303v4M705.5 123v3M705.5 140v3M705.5 222v3M714.5 85v3M714.5 102v4M714.5 112v4M714.5 119v7M714.5 143v3M714.5 181v3M714.5 198v3M714.5 218v4M714.5 310v4M714.5 317v3M714.5 351v7M714.5 372v3M719.5 68v3M719.5 239v3M719.5 259v3M757.5 235v4M766.5 194v4M766.5 225v3M766.5 303v4M771.5 109v3M796.5 82v3M796.5 167v3M796.5 208v3M796.5 279v4M812.5 153v4M812.5 218v4M828.5 194v4M860.5 99v3M860.5 106v3M860.5 123v3M860.5 129v4M860.5 160v7M860.5 218v7M860.5 256v3M860.5 266v3M860.5 279v4M860.5 297v3M860.5 303v4M860.5 310v7M860.5 348v3M877.5 136v4M877.5 215v3M877.5 365v3"/>
<path stroke="#afff50" stroke-width="6" d="M839 129v4M839 184v3M872 88v4M872 157v3M872 222v3M872 286v4M889 283v3M900 167v3M900 191v3M900 266v3M900 344v4M912 85v3M912 242v3M912 273v3M912 327v4M918 153v4M918 273v3M918 351v4M924 133v3M924 143v3M924 150v3M924 177v4M924 324v3M939 95v4M945 78v4M945 88v4M945 95v4M945 191v3M945 208v3M945 245v4M945 297v3M945 307v3M945 314v3M945 355v3"/>
<path stroke="#afff50" stroke-width="9" d="M931.5 181v3M931.5 211v4"/>
<path stroke="#bfff40" stroke-width="1" d="M157.5 85v3M157.5 215v3M157.5 341v3M158.5 262v4M160.5 239v3M161.5 228v4M164.5 201v3M164.5 266v3M164.5 365v7M165.5 88v4M165.5 249v3M165.5 259v3M167.5 75v3M167.5 95v4M167.5 170v4M167.5 184v3M167.5 372v3M168.5 85v3M168.5 198v6M168.5 208v3M168.5 215v3M169.5 136v4M169.5 181v3M170.5 198v3M171.5 102v4M171.5 153v4M171.5 300v3M171.5 310v4M171.5 361v11M172.5 164v3M172.5 184v3M172.5 279v4M174.5 164v6M174.5 368v7M175.5 368v4M178.5 372v3M180.5 372v3M182.5 249v3M182.5 269v4M182.5 279v4M182.5 337v4M183.5 368v4M184.5 88v4M184.5 228v4M185.5 106v6M185.5 228v4M185.5 235v4M186.5 92v3M186.5 259v7M186.5 365v3M188.5 95v7M188.5 259v3M189.5 242v3M189.5 337v4M189.5 368v4M190.5 358v3M191.5 146v7M191.5 358v3M191.5 372v3M192.5 344v4M192.5 351v4M192.5 361v11M193.5 95v4M194.5 95v7M194.5 177v4M194.5 249v3M194.5 300v7M194.5 358v3M195.5 225v3M195.5 351v7M196.5 133v3M196.5 157v3M196.5 208v7M196.5 259v3M196.5 365v3M197.5 286v4M198.5 365v10M199.5 187v4M200.5 150v3M200.5 167v3M200.5 187v4M200.5 222v3M200.5 334v3M201.5 71v4M201.5 88v4M201.5 146v4M201.5 228v4M201.5 273v3M201.5 324v3M202.5 317v3M202.5 341v3M202.5 348v3M204.5 68v3M204.5 198v3M204.5 331v3M204.5 341v3M205.5 116v3M206.5 92v7M206.5 106v3M206.5 112v4M206.5 126v3M206.5 177v4M206.5 194v4M206.5 218v4M206.5 245v4M206.5 259v3M206.5 300v3M206.5 334v3M206.5 344v4M207.5 109v7M207.5 160v4M207.5 184v10M207.5 208v3M207.5 252v4M207.5 262v4M207.5 337v4M208.5 119v4M208.5 184v3M208.5 314v3M208.5 327v4M208.5 334v3M208.5 341v3M209.5 123v6M209.5 174v3M209.5 256v3M209.5 314v3M210.5 286v4M210.5 327v7M211.5 269v4M211.5 324v3M212.5 314v3M213.5 256v3M213.5 310v4M214.5 109v3M214.5 126v3M214.5 146v4M214.5 167v3M214.5 249v3M215.5 116v3M215.5 150v3M215.5 177v4M215.5 222v3M215.5 232v3M215.5 249v3M215.5 293v4M216.5 310v4M216.5 317v3M217.5 256v3M218.5 286v4M218.5 310v4M219.5 303v4M220.5 109v3M220.5 239v3M220.5 293v4M220.5 303v4M221.5 85v3M221.5 143v3M221.5 239v3M221.5 290v10M223.5 211v4M223.5 286v11M224.5 85v3M224.5 259v3M224.5 266v3M224.5 293v7M225.5 208v3M225.5 232v3M225.5 269v4M225.5 303v4M225.5 324v10M226.5 201v3M226.5 256v3M226.5 290v3M227.5 273v6M227.5 290v7M228.5 99v3M228.5 276v3M228.5 300v3M229.5 71v4M229.5 266v3M229.5 307v3M229.5 331v3M232.5 68v7M232.5 85v3M232.5 133v3M232.5 153v4M232.5 160v4M232.5 187v4M232.5 198v3M232.5 215v3M232.5 262v4M232.5 276v7M233.5 85v3M233.5 170v7M233.5 187v4M233.5 194v4M233.5 245v4M233.5 256v6M233.5 273v3M233.5 279v4M234.5 184v3M234.5 286v7M235.5 198v3M235.5 235v4M235.5 290v3M235.5 300v3M235.5 320v7M236.5 266v10M236.5 283v3M237.5 150v3M237.5 198v3M237.5 256v3M237.5 279v4M240.5 146v4M241.5 273v3M241.5 283v3M242.5 82v6M242.5 112v4M242.5 150v3M242.5 194v4M242.5 211v4M242.5 273v6M243.5 177v4M243.5 242v3M243.5 249v3M243.5 262v4M244.5 204v4M244.5 300v3M247.5 232v3M247.5 303v11M248.5 170v4M248.5 184v3M248.5 235v4M248.5 297v3M249.5 198v3M249.5 222v3M249.5 228v7M249.5 256v3M249.5 279v4M249.5 297v3M252.5 68v3M252.5 164v3M252.5 262v4M252.5 283v3M252.5 300v3M252.5 307v3M253.5 164v3M253.5 290v3M253.5 303v4M254.5 157v3M254.5 167v3M254.5 228v4M254.5 290v3M254.5 303v4M258.5 109v3M262.5 71v4M262.5 194v4M262.5 286v4M262.5 297v3M265.5 85v10M265.5 160v4M268.5 160v4M268.5 194v4M268.5 208v3M268.5 222v3M268.5 317v3M272.5 286v4M272.5 293v4M272.5 307v3M275.5 129v4M275.5 300v3M278.5 256v3M278.5 286v4M278.5 307v7M278.5 355v3M281.5 314v3M284.5 150v3M284.5 252v4M284.5 279v4M284.5 327v4M287.5 211v4M287.5 286v7M287.5 327v4M290.5 106v3M290.5 167v3M290.5 187v4M290.5 235v4M290.5 273v3M290.5 317v3M293.5 78v4M293.5 99v3M293.5 303v7M293.5 314v3M298.5 286v4M298.5 327v4M298.5 337v4M303.5 75v3M303.5 218v4M303.5 300v3M308.5 126v3M308.5 133v3M315.5 136v7M324.5 71v14M324.5 167v3M324.5 201v3M324.5 245v4M324.5 259v3M324.5 293v4M339.5 71v7M339.5 123v3M339.5 129v11M339.5 286v4M339.5 297v3"/>
<path stroke="#bfff40" stroke-width="2" d="M231 99v3M231 136v7M246 150v3M246 218v4M246 259v3M246 273v3M246 293v4M251 75v7M251 252v4M251 259v3M251 269v4M251 283v3M256 201v3M256 279v4M260 106v3M260 123v3M260 204v4M260 225v3M260 279v4M260 300v3M264 68v7M264 198v3M264 245v4M264 300v3M267 317v3M271 123v3M271 276v3M274 95v4M274 106v3M274 133v3M274 228v4M274 245v4M274 283v3M274 331v3M277 95v4M280 106v3M280 215v3M283 293v4M286 68v3M289 92v3M289 297v3M292 71v4M292 157v3M292 215v3M292 310v4M295 290v3M300 92v3M300 99v3M300 106v3M300 129v4M300 150v3M300 198v3M300 218v4M300 252v4M302 181v3M302 310v7M310 300v3M312 194v4M317 68v3M317 181v3M317 262v4M317 314v3M317 331v3M317 368v4M319 71v4M319 160v4M319 174v3M319 225v3M319 256v6M319 307v3M319 344v4M321 239v3M321 249v3M321 279v4M323 106v3M323 293v4M326 252v4M326 279v7M328 109v3M328 136v4M328 256v3M328 279v4M328 300v3M330 75v7M330 92v3M330 112v4M330 129v4M330 140v3M330 174v7M330 222v6M330 249v3M330 256v3M330 279v7M330 290v3M330 297v3M330 344v4M334 204v4M334 303v7M334 317v3M336 232v3M338 68v7M338 208v3M341 235v4M341 303v4M343 300v3M345 75v3M345 106v3M351 334v3M356 279v4M358 317v3M360 252v4M360 317v7M360 331v3M360 365v3M362 198v3M362 317v3M364 109v3M364 119v4M364 177v4M364 194v4M364 252v4M364 300v3M364 320v4M364 331v3M364 344v4M366 314v3M366 368v4M368 314v3M370 170v4M375 320v4M377 327v4M377 361v4M384 204v4M386 215v3M388 290v7M388 314v3M388 358v3M393 119v4M393 269v4M398 116v3M398 129v4M398 283v3M398 300v3M405 327v4M405 337v4M410 297v3M425 303v4M438 215v3M446 75v3M446 201v3M446 242v3M446 256v3M446 293v4"/>
<path stroke="#bfff40" stroke-width="3" d="M353.5 307v7M372.5 126v3M381.5 290v3M395.5 232v3M402.5 334v3M402.5 365v3M407.5 348v3M412.5 242v3M417.5 355v3M422.5 75v3M422.5 245v4M422.5 276v3M432.5 314v3M435.5 337v4M435.5 365v3M440.5 68v3M440.5 129v4M440.5 150v3M440.5 160v4M448.5 75v3M451.5 300v3M462.5 303v4M465.5 75v3M465.5 85v3M465.5 249v3M471.5 344v4M477.5 259v3M480.5 68v3M480.5 160v4M480.5 218v4M483.5 95v4M483.5 143v3M483.5 300v3M486.5 368v4M492.5 276v3M492.5 365v3M498.5 92v7M498.5 129v4M498.5 170v4M498.5 184v10M498.5 211v7M498.5 228v4M498.5 235v4M498.5 317v3M501.5 123v3M501.5 170v4M501.5 211v4M514.5 164v3M517.5 276v3M517.5 337v7M520.5 276v3M527.5 208v3M527.5 358v3M568.5 279v4M579.5 249v3"/>
<path stroke="#bfff40" stroke-width="4" d="M534 303v4M544 300v3M544 320v4M544 361v4M572 262v4M572 283v3M576 106v3M576 129v4M602 198v3M606 129v4M606 136v4M606 181v3M606 245v4M606 256v3M606 290v3M613 109v3M613 239v3M621 133v7M621 146v4M621 181v3M621 187v4M621 307v3M621 361v4M625 88v4M625 129v4M625 143v3M625 259v7M625 300v3M637 218v4M662 109v3M662 225v3M666 106v3M666 133v7M666 215v3M666 262v4M666 273v3M666 341v3M666 355v3M675 204v4M688 273v3M692 242v3M738 310v4M738 365v3M762 99v3M762 341v3"/>
<path stroke="#bfff40" stroke-width="5" d="M649.5 78v4M649.5 334v3M670.5 88v4M670.5 201v3M670.5 235v4M670.5 320v4M670.5 344v4M683.5 181v3M683.5 201v3M683.5 239v3M683.5 249v3M683.5 283v3M683.5 317v7M683.5 358v3M696.5 167v3M696.5 218v4M696.5 232v3M705.5 95v4M705.5 143v3M705.5 259v3M705.5 293v4M705.5 307v3M705.5 317v3M714.5 99v3M714.5 136v4M714.5 157v3M714.5 191v3M714.5 215v3M719.5 82v3M719.5 92v3M719.5 198v3M719.5 232v3M719.5 245v4M728.5 348v3M742.5 68v3M766.5 136v4M796.5 194v4M796.5 341v3M796.5 361v4M812.5 222v3M833.5 109v3M833.5 164v3M833.5 215v3M844.5 341v3M860.5 75v3M860.5 95v4M860.5 170v4M860.5 239v3M860.5 317v3M860.5 368v7M877.5 109v3M894.5 164v3"/>
<path stroke="#bfff40" stroke-width="6" d="M802 351v4M872 320v4M912 204v4M912 249v3M918 187v4M924 85v3M945 92v3M945 106v3M945 123v3M945 157v3M945 198v3M945 235v4M945 262v4M945 286v4M945 348v3"/>
<path stroke="#bfff40" stroke-width="9" d="M931.5 201v3"/>
<path stroke="#cfff30" stroke-width="1" d="M161.5 116v3M161.5 372v3M166.5 129v4M167.5 78v4M167.5 143v3M167.5 181v3M167.5 276v3M167.5 314v3M168.5 211v4M168.5 242v3M171.5 245v4M171.5 252v4M171.5 297v3M171.5 358v3M174.5 355v6M175.5 269v4M177.5 225v3M182.5 365v3M184.5 92v3M184.5 112v4M186.5 355v3M186.5 368v4M188.5 303v4M188.5 344v4M191.5 361v4M193.5 160v4M193.5 348v3M193.5 372v3M194.5 71v4M194.5 228v4M194.5 235v4M194.5 266v3M194.5 279v4M194.5 324v3M196.5 99v3M196.5 119v4M196.5 126v3M197.5 290v3M198.5 344v4M198.5 355v3M199.5 334v3M199.5 358v3M200.5 82v3M200.5 129v4M200.5 344v4M200.5 351v4M200.5 365v3M201.5 112v4M201.5 160v4M201.5 184v3M201.5 235v4M201.5 276v3M201.5 286v4M201.5 344v4M201.5 365v3M202.5 327v4M202.5 344v4M203.5 290v7M203.5 300v3M204.5 82v3M204.5 126v3M204.5 174v3M204.5 194v4M204.5 327v4M205.5 269v7M205.5 307v3M205.5 314v3M205.5 320v4M205.5 327v4M205.5 344v11M205.5 372v3M206.5 85v3M206.5 129v4M206.5 153v4M206.5 164v3M206.5 170v4M206.5 256v3M206.5 283v3M206.5 297v3M206.5 303v4M206.5 314v3M207.5 116v3M207.5 123v3M207.5 194v4M207.5 228v4M207.5 310v10M208.5 201v3M208.5 303v11M209.5 181v3M209.5 198v3M209.5 317v3M210.5 249v3M210.5 283v3M210.5 307v3M210.5 317v3M210.5 334v3M211.5 150v3M211.5 194v4M211.5 242v3M211.5 283v3M211.5 297v3M211.5 317v3M211.5 331v3M212.5 252v4M212.5 276v3M213.5 249v3M213.5 297v13M213.5 314v6M214.5 123v3M214.5 143v3M214.5 153v4M214.5 245v4M214.5 273v3M214.5 283v3M214.5 290v3M214.5 307v3M214.5 317v3M215.5 78v4M215.5 92v7M215.5 160v4M215.5 181v3M215.5 218v4M215.5 225v3M215.5 256v3M215.5 276v3M215.5 297v3M215.5 314v3M216.5 88v4M216.5 324v3M216.5 334v3M217.5 153v4M217.5 259v3M217.5 266v3M217.5 286v4M217.5 293v4M218.5 133v3M218.5 293v4M218.5 300v3M219.5 259v3M219.5 286v4M219.5 293v4M219.5 327v4M220.5 279v7M220.5 300v3M221.5 82v3M221.5 235v4M221.5 273v3M221.5 286v4M221.5 310v4M223.5 68v3M223.5 194v4M223.5 235v4M223.5 279v7M224.5 208v3M224.5 239v6M224.5 249v10M224.5 269v4M224.5 276v7M225.5 204v4M225.5 279v7M225.5 317v7M226.5 310v4M227.5 129v4M227.5 256v6M227.5 266v3M227.5 283v3M228.5 290v3M229.5 78v4M229.5 119v4M229.5 290v3M229.5 300v3M232.5 82v3M232.5 136v4M232.5 164v6M232.5 181v3M232.5 194v4M232.5 201v3M232.5 218v4M232.5 259v3M233.5 88v4M233.5 133v3M233.5 262v7M233.5 276v3M233.5 293v4M234.5 92v3M234.5 170v4M234.5 225v3M235.5 242v3M235.5 262v4M235.5 269v14M235.5 307v3M236.5 146v4M236.5 167v3M236.5 232v3M236.5 252v4M236.5 259v7M236.5 279v4M236.5 290v7M237.5 143v3M237.5 153v4M237.5 245v7M237.5 259v7M237.5 269v4M237.5 290v3M240.5 140v3M241.5 153v4M241.5 232v3M241.5 269v4M241.5 276v7M242.5 88v4M242.5 95v4M242.5 181v3M242.5 191v3M242.5 215v7M242.5 239v3M242.5 256v3M242.5 262v4M242.5 286v4M243.5 95v4M243.5 102v4M243.5 222v3M243.5 252v7M243.5 279v4M244.5 252v4M244.5 273v3M247.5 136v4M247.5 279v4M247.5 286v4M247.5 317v3M248.5 85v3M248.5 160v4M248.5 167v3M248.5 194v4M248.5 239v3M248.5 245v4M248.5 269v4M248.5 290v3M248.5 310v4M249.5 140v3M249.5 170v4M249.5 239v3M249.5 269v4M249.5 307v3M252.5 136v4M252.5 252v4M252.5 276v3M252.5 310v4M252.5 320v4M253.5 239v3M253.5 262v4M253.5 273v3M254.5 208v3M254.5 266v7M254.5 279v4M254.5 297v3M257.5 279v4M258.5 256v3M258.5 276v3M258.5 283v3M258.5 290v3M258.5 297v3M258.5 303v7M262.5 75v3M262.5 252v4M262.5 259v3M262.5 279v7M265.5 269v7M265.5 290v3M265.5 297v3M265.5 314v3M268.5 177v4M268.5 228v4M268.5 235v4M268.5 245v4M268.5 256v3M268.5 262v4M268.5 269v4M268.5 297v3M269.5 259v3M269.5 269v4M269.5 283v3M269.5 290v3M272.5 242v3M272.5 290v3M272.5 297v3M275.5 123v3M275.5 232v3M278.5 276v3M281.5 290v7M281.5 300v3M281.5 324v3M281.5 344v4M284.5 75v3M284.5 235v4M284.5 269v4M284.5 320v4M287.5 187v4M287.5 259v7M287.5 317v3M290.5 198v3M290.5 283v3M290.5 297v3M293.5 215v3M293.5 262v7M293.5 283v3M293.5 297v3M298.5 68v3M298.5 279v4M298.5 290v3M298.5 372v3M303.5 331v3M308.5 208v3M308.5 235v4M308.5 259v3M308.5 307v3M315.5 174v3M315.5 307v3M324.5 249v3M339.5 140v3M339.5 262v4M339.5 293v4"/>
<path stroke="#cfff30" stroke-width="2" d="M231 68v3M231 256v3M231 266v7M231 283v3M231 293v4M231 303v4M246 146v4M246 153v4M246 170v4M246 177v4M246 184v3M246 198v3M246 204v4M246 256v3M246 269v4M246 276v7M246 286v4M246 300v3M251 126v7M251 225v3M251 249v3M251 300v3M256 198v3M256 232v7M256 249v3M256 283v3M256 290v3M260 146v4M260 222v3M260 232v3M260 239v10M260 252v4M260 269v4M264 201v3M264 232v7M264 249v3M264 259v3M264 279v4M264 297v3M271 242v7M271 293v4M271 300v7M274 136v4M274 187v4M274 198v3M274 208v3M274 215v3M274 239v3M274 273v6M274 300v3M274 307v3M277 252v4M277 273v3M277 279v14M280 239v3M280 269v4M280 283v3M280 290v3M280 310v4M286 269v4M286 279v4M289 191v7M292 146v4M292 218v4M292 235v4M292 361v4M297 140v3M297 194v4M297 286v4M297 297v3M300 78v4M300 109v3M300 140v3M300 191v3M300 208v3M300 215v3M300 245v4M300 266v3M300 290v7M300 300v3M302 273v3M302 279v4M302 290v3M305 279v4M305 293v4M307 331v3M312 184v3M312 208v3M314 160v4M314 245v4M314 314v6M314 361v4M317 71v4M317 187v4M317 307v3M319 88v4M319 116v3M319 239v3M319 279v4M319 290v7M319 331v3M321 286v4M321 310v4M323 279v4M323 286v7M328 68v3M328 273v3M328 290v3M328 331v3M330 85v3M330 116v3M330 133v3M330 164v3M330 232v7M330 310v4M330 358v3M330 365v3M332 259v7M332 283v3M332 293v4M332 307v3M334 269v4M336 106v3M336 283v3M336 303v4M336 317v3M336 341v3M338 239v3M341 310v4M343 119v4M343 262v4M345 109v3M345 129v4M347 317v3M349 297v3M349 303v7M349 372v3M351 279v4M351 290v3M356 293v4M356 314v3M358 344v4M360 303v4M362 303v7M362 324v3M364 106v3M364 123v3M364 181v3M364 208v3M364 235v4M364 279v4M364 297v3M364 303v4M364 310v4M364 368v4M366 310v4M370 157v3M370 232v3M375 334v7M377 133v3M377 303v4M379 314v3M384 78v4M384 143v3M384 164v6M384 194v4M384 249v3M388 307v3M393 106v3M393 235v4M393 266v3M393 276v3M398 88v4M398 177v4M398 276v3M398 368v4M400 303v4M400 310v4M405 293v4M405 320v4M405 344v7M410 75v3M410 123v3M410 157v3M446 235v4M460 290v3"/>
<path stroke="#cfff30" stroke-width="3" d="M353.5 368v4M372.5 129v4M372.5 235v4M372.5 273v3M372.5 290v3M372.5 310v10M372.5 368v4M390.5 88v4M390.5 181v3M390.5 239v3M402.5 337v4M412.5 191v3M417.5 351v4M417.5 361v4M432.5 235v4M440.5 92v3M440.5 126v3M440.5 273v3M440.5 331v3M448.5 232v3M451.5 85v3M451.5 317v3M471.5 351v4M474.5 157v3M474.5 361v4M477.5 82v3M480.5 112v4M480.5 310v4M483.5 92v3M483.5 102v4M483.5 153v4M483.5 297v3M489.5 140v3M492.5 136v4M492.5 143v3M498.5 109v3M498.5 136v4M498.5 146v4M498.5 167v3M498.5 177v4M498.5 198v3M498.5 293v4M504.5 78v4M504.5 348v7M504.5 358v3M504.5 365v3M507.5 314v3M517.5 232v3M527.5 119v4M527.5 239v3M527.5 344v4M530.5 361v4M579.5 170v4"/>
<path stroke="#cfff30" stroke-width="4" d="M511 372v3M606 266v3M613 177v4M621 85v3M621 355v3M625 71v4M625 78v4M625 99v3M625 235v4M625 273v3M625 283v3M633 187v4M662 140v3M666 75v3M675 123v3M675 337v4M675 351v4M692 365v3M762 337v4"/>
<path stroke="#cfff30" stroke-width="5" d="M670.5 82v3M670.5 126v3M670.5 327v4M683.5 123v3M683.5 129v4M696.5 341v3M705.5 129v4M705.5 256v3M714.5 75v3M714.5 222v3M714.5 324v3M714.5 365v3M719.5 204v4M719.5 222v3M757.5 164v3M766.5 259v3M781.5 68v3M791.5 239v3M796.5 170v4M796.5 348v3M812.5 170v4M833.5 344v4M860.5 71v4M860.5 82v3M860.5 119v4M860.5 150v3M860.5 208v3M860.5 235v4M860.5 300v3M860.5 331v3"/>
<path stroke="#cfff30" stroke-width="6" d="M855 123v3M872 174v3M872 279v4M912 157v3M912 184v3M912 324v3M918 225v3M918 355v3M924 116v3M924 225v3M924 307v3M945 164v3M945 184v3M945 341v3M945 368v4"/>
<path stroke="#cfff30" stroke-width="9" d="M931.5 112v4"/>
<path stroke="#dfff20" stroke-width="1" d="M157.5 204v4M157.5 344v4M167.5 283v3M168.5 116v3M168.5 204v4M170.5 314v3M171.5 95v4M171.5 106v3M171.5 177v4M171.5 218v4M178.5 368v4M182.5 211v4M182.5 341v10M184.5 95v4M186.5 95v4M186.5 361v4M188.5 228v4M188.5 341v3M191.5 191v3M192.5 256v3M193.5 88v4M193.5 351v4M194.5 170v4M195.5 368v4M197.5 314v3M197.5 337v4M198.5 78v4M198.5 273v3M199.5 331v3M199.5 341v3M199.5 355v3M199.5 361v4M200.5 88v4M200.5 133v3M200.5 337v4M200.5 358v3M200.5 368v7M201.5 68v3M201.5 123v6M201.5 157v3M201.5 191v3M201.5 259v3M201.5 327v4M201.5 341v3M201.5 348v7M202.5 331v6M203.5 310v4M203.5 344v4M204.5 78v4M204.5 191v3M204.5 259v3M204.5 269v4M204.5 310v4M205.5 123v3M205.5 310v4M205.5 358v3M205.5 368v4M206.5 136v4M206.5 290v7M206.5 307v7M206.5 317v10M206.5 355v3M206.5 372v3M207.5 181v3M207.5 218v4M207.5 303v4M208.5 269v4M208.5 324v3M208.5 337v4M209.5 310v4M210.5 259v3M210.5 266v3M210.5 300v7M210.5 310v4M211.5 249v3M211.5 266v3M211.5 300v3M212.5 331v3M212.5 348v3M213.5 184v3M214.5 239v3M215.5 170v4M215.5 245v4M215.5 252v4M215.5 259v3M215.5 273v3M215.5 283v7M215.5 303v7M216.5 273v3M216.5 286v11M217.5 290v3M217.5 297v3M217.5 320v4M218.5 320v4M219.5 290v3M219.5 297v6M219.5 307v3M220.5 269v4M220.5 286v4M220.5 297v3M221.5 78v4M221.5 112v4M221.5 276v3M223.5 157v3M223.5 215v3M223.5 245v11M223.5 259v3M223.5 307v3M223.5 317v3M224.5 235v4M224.5 262v4M224.5 273v3M225.5 273v3M225.5 310v4M226.5 208v3M226.5 286v4M226.5 293v4M227.5 252v4M227.5 262v4M227.5 297v3M227.5 317v3M228.5 71v4M228.5 235v4M228.5 269v7M228.5 303v7M229.5 317v3M229.5 324v3M232.5 116v3M232.5 157v3M232.5 170v11M232.5 208v7M232.5 222v3M232.5 266v3M232.5 273v3M232.5 293v4M232.5 300v3M233.5 140v3M233.5 184v3M233.5 252v4M233.5 269v4M233.5 300v3M234.5 181v3M234.5 256v10M235.5 239v3M235.5 259v3M235.5 266v3M235.5 314v3M236.5 157v3M236.5 249v3M236.5 297v3M237.5 71v4M237.5 102v4M237.5 225v3M237.5 242v3M237.5 252v4M237.5 273v3M237.5 283v7M240.5 303v4M241.5 85v7M241.5 235v7M241.5 297v3M241.5 303v7M242.5 68v3M242.5 102v4M242.5 249v3M242.5 269v4M242.5 290v3M242.5 300v3M243.5 119v4M243.5 266v3M243.5 273v6M243.5 286v4M244.5 106v3M244.5 153v4M244.5 201v3M244.5 279v7M244.5 293v4M244.5 303v4M247.5 256v3M247.5 314v3M248.5 140v6M248.5 157v3M248.5 249v3M248.5 273v3M248.5 300v3M249.5 126v3M249.5 201v3M249.5 273v6M249.5 286v4M249.5 300v3M252.5 140v3M252.5 167v3M252.5 222v3M252.5 228v4M252.5 249v3M252.5 256v3M252.5 324v3M253.5 198v3M253.5 204v4M253.5 259v3M254.5 146v4M254.5 164v3M254.5 273v6M254.5 293v4M254.5 314v3M257.5 99v3M257.5 273v6M257.5 283v3M258.5 279v4M258.5 286v4M258.5 293v4M261.5 177v4M262.5 256v3M262.5 262v4M265.5 194v4M268.5 85v3M268.5 201v3M268.5 242v3M268.5 266v3M268.5 273v3M269.5 256v3M269.5 276v3M269.5 297v3M269.5 310v4M272.5 160v4M272.5 225v3M272.5 327v4M275.5 208v3M275.5 228v4M275.5 290v3M275.5 337v4M278.5 191v3M281.5 198v3M281.5 228v4M281.5 303v4M281.5 341v3M284.5 109v3M284.5 273v3M284.5 283v3M287.5 310v4M287.5 337v4M290.5 177v4M290.5 266v3M290.5 293v4M293.5 290v3M293.5 320v4M293.5 368v4M303.5 194v4M303.5 334v3M308.5 252v7M308.5 269v4M308.5 293v4M315.5 276v3M315.5 297v6M324.5 95v4"/>
<path stroke="#dfff20" stroke-width="2" d="M231 150v3M231 273v3M231 279v4M231 290v3M246 201v3M246 249v7M246 266v3M246 290v3M251 181v3M251 256v3M251 276v3M256 126v3M256 252v4M256 286v4M260 92v3M260 150v3M260 208v3M260 256v3M260 266v3M260 273v6M260 310v4M264 239v6M264 286v7M267 140v3M271 290v3M274 129v4M274 177v4M274 211v4M274 232v7M274 242v3M274 279v4M274 372v3M277 106v3M277 249v3M277 262v4M280 242v3M280 276v3M280 314v3M283 198v3M286 262v4M286 334v3M289 259v10M289 365v3M292 150v3M292 273v3M295 262v7M295 283v3M297 119v4M297 283v3M297 337v4M300 174v3M300 235v4M300 269v4M300 297v3M302 123v3M302 249v7M302 266v3M305 273v3M307 269v7M307 283v3M307 290v3M307 297v3M310 215v3M310 286v4M310 293v7M310 334v3M310 351v4M312 262v7M314 242v3M317 191v3M317 276v3M317 303v4M317 348v7M319 191v3M319 276v3M319 283v3M319 300v7M319 341v3M319 365v3M321 191v3M321 273v6M323 218v7M323 283v3M323 297v3M326 88v4M326 286v4M328 262v4M328 276v3M328 293v7M330 82v3M330 119v4M330 150v3M330 218v4M330 269v4M330 276v3M330 293v4M330 320v4M332 266v3M332 273v10M332 310v4M332 324v3M332 368v4M334 297v3M336 225v3M336 290v3M338 211v4M338 245v4M338 256v3M343 269v4M345 293v4M345 300v3M349 320v7M351 269v4M351 293v4M351 303v4M351 310v4M356 290v3M356 310v4M356 317v3M360 273v3M360 310v4M360 324v3M362 314v3M364 273v3M364 283v3M364 361v4M368 112v4M370 297v3M370 303v7M370 361v4M375 297v3M375 341v3M375 355v3M377 177v4M384 157v3M384 235v4M386 300v3M393 99v3M393 164v3M398 109v7M398 372v3M405 368v4M410 303v4M410 317v3M410 334v3M410 348v3M438 252v4M446 99v3M446 143v3M446 211v4M446 290v3M460 327v4"/>
<path stroke="#dfff20" stroke-width="3" d="M353.5 112v4M353.5 208v3M353.5 279v4M353.5 290v3M353.5 320v7M353.5 334v3M372.5 324v3M372.5 341v3M395.5 303v4M402.5 317v3M422.5 252v4M432.5 160v4M432.5 303v4M440.5 177v4M440.5 211v4M440.5 232v3M440.5 269v4M440.5 327v4M448.5 177v4M448.5 327v4M454.5 88v4M480.5 143v3M480.5 242v3M492.5 133v3M492.5 157v3M492.5 177v4M498.5 297v3M498.5 310v4M498.5 334v7M501.5 129v4M501.5 174v3M504.5 68v3M504.5 75v3M504.5 82v3M504.5 327v4M504.5 334v3M504.5 344v4M504.5 355v3M568.5 123v3M590.5 68v3M609.5 126v3"/>
<path stroke="#dfff20" stroke-width="4" d="M511 150v3M511 157v3M511 222v3M511 310v4M511 358v3M534 88v4M544 116v7M598 129v4M606 249v3M613 218v4M613 283v3M613 351v4M621 211v4M625 112v4M625 184v3M625 290v3M633 102v4M654 222v3M662 262v4M666 228v4M688 153v4M688 320v4M710 153v4M762 157v3M762 358v3"/>
<path stroke="#dfff20" stroke-width="5" d="M649.5 68v3M649.5 160v4M649.5 191v3M683.5 273v3M705.5 164v3M705.5 194v4M705.5 204v4M714.5 177v4M719.5 116v3M719.5 181v3M719.5 215v3M719.5 225v3M719.5 279v4M719.5 314v3M742.5 133v3M766.5 348v3M771.5 95v4M771.5 273v3M771.5 361v4M791.5 365v3M796.5 337v4M812.5 157v3M833.5 256v3M860.5 198v3M860.5 245v4M860.5 273v3M877.5 102v4M877.5 143v3M877.5 153v4M877.5 266v3"/>
<path stroke="#dfff20" stroke-width="6" d="M883 181v3M918 191v3M924 146v4M924 355v3M945 194v4M945 351v4"/>
<path stroke="#efff10" stroke-width="1" d="M157.5 208v3M164.5 194v4M165.5 252v4M167.5 187v4M167.5 279v4M168.5 337v4M169.5 109v3M171.5 92v3M171.5 174v3M174.5 88v4M182.5 177v4M189.5 88v4M189.5 314v3M191.5 368v4M193.5 177v4M193.5 344v4M194.5 174v3M194.5 276v3M195.5 348v3M196.5 102v4M199.5 365v3M199.5 372v3M200.5 276v3M201.5 174v3M201.5 208v7M201.5 266v3M201.5 355v6M202.5 368v4M204.5 71v4M204.5 129v4M204.5 337v4M204.5 372v3M205.5 365v3M206.5 266v3M206.5 327v4M206.5 337v4M207.5 95v4M207.5 300v3M207.5 327v4M207.5 341v3M208.5 344v4M209.5 68v7M209.5 143v3M209.5 324v7M210.5 365v3M211.5 334v3M212.5 344v4M213.5 327v4M214.5 170v4M214.5 191v3M214.5 235v4M214.5 320v7M214.5 334v3M214.5 344v4M215.5 88v4M215.5 310v4M216.5 283v3M216.5 331v3M217.5 310v4M217.5 324v3M218.5 303v4M218.5 314v3M218.5 324v3M219.5 317v3M221.5 317v3M221.5 324v3M222.5 310v4M223.5 303v4M224.5 300v3M224.5 310v4M225.5 368v4M226.5 297v3M226.5 307v3M227.5 300v3M227.5 310v4M228.5 123v3M228.5 310v7M229.5 327v4M229.5 337v4M232.5 99v3M232.5 204v4M232.5 297v3M232.5 310v4M234.5 133v3M234.5 303v4M235.5 191v3M235.5 317v3M235.5 337v4M237.5 88v4M237.5 310v4M241.5 242v3M242.5 266v3M242.5 279v4M242.5 310v4M243.5 174v3M243.5 290v7M247.5 320v4M247.5 372v3M248.5 303v4M249.5 310v4M252.5 293v4M252.5 317v3M252.5 331v3M252.5 372v3M253.5 170v4M253.5 283v3M253.5 297v6M253.5 317v3M254.5 215v3M265.5 300v3M265.5 307v7M265.5 317v3M268.5 92v3M268.5 146v4M268.5 300v3M269.5 307v3M272.5 164v6M272.5 303v4M275.5 358v3M278.5 279v4M278.5 324v3M281.5 310v4M281.5 320v4M284.5 344v4M287.5 314v3M290.5 136v4M290.5 365v3M298.5 324v3M308.5 331v3M315.5 310v4M315.5 317v3M324.5 92v3M324.5 327v4M324.5 341v3M339.5 245v4"/>
<path stroke="#efff10" stroke-width="2" d="M231 297v6M239 300v3M246 75v3M246 174v3M246 194v4M251 71v4M251 85v3M256 276v3M256 293v4M256 310v4M260 249v3M260 320v4M264 307v3M271 249v3M271 307v3M271 314v3M274 204v4M274 225v3M274 310v4M274 317v3M277 170v4M280 123v3M280 303v4M280 324v3M286 293v7M292 307v3M292 314v3M295 300v3M302 320v4M314 365v3M319 157v3M319 286v4M319 337v4M321 297v10M321 324v3M328 283v3M330 123v3M330 228v4M330 259v3M330 303v4M332 317v3M332 355v3M334 211v4M336 320v4M338 187v4M338 235v4M341 293v4M343 276v3M349 208v3M351 317v3M351 324v3M356 300v3M360 361v4M362 320v4M364 201v3M366 303v4M370 372v3M375 365v3M375 372v3M377 297v3M379 368v4M384 211v4M388 320v4M393 116v3M398 222v3M398 331v3M410 320v4M410 351v4M420 317v3M446 191v3"/>
<path stroke="#efff10" stroke-width="3" d="M372.5 174v3M372.5 307v3M395.5 307v3M402.5 327v4M407.5 324v3M412.5 307v3M412.5 344v4M417.5 344v4M427.5 300v3M468.5 310v4M474.5 204v4M483.5 256v3M489.5 355v6M489.5 365v3M498.5 119v4M498.5 259v3M498.5 320v4M504.5 129v4M504.5 140v3M504.5 153v4M504.5 160v4M504.5 310v4M504.5 320v7M504.5 341v3M568.5 109v3M568.5 273v3"/>
<path stroke="#efff10" stroke-width="4" d="M511 88v7M511 99v7M511 116v3M511 126v3M511 140v6M511 160v7M511 174v10M511 191v3M511 198v3M511 208v3M511 225v3M511 239v13M511 259v3M511 297v3M511 307v3M511 314v3M511 337v4M534 310v4M544 215v3M606 273v3M621 106v3M621 341v3M625 303v4M625 351v4M662 331v3M666 140v3M666 170v4M666 211v4M666 293v4"/>
<path stroke="#efff10" stroke-width="5" d="M649.5 71v4M649.5 310v4M649.5 358v3M670.5 184v3M705.5 153v4M714.5 153v4M714.5 276v3M833.5 140v3M833.5 331v3M860.5 85v3M877.5 211v4M894.5 191v3"/>
<path stroke="#efff10" stroke-width="6" d="M912 170v4M939 88v4M945 82v3"/>
<path stroke="#efff10" stroke-width="9" d="M931.5 116v3M931.5 123v3"/>
<path stroke="#ffff00" stroke-width="1" d="M157.5 88v4M171.5 99v3M171.5 303v4M171.5 331v3M171.5 372v3M172.5 68v3M175.5 68v3M182.5 252v4M189.5 204v4M189.5 327v4M190.5 68v3M193.5 92v3M193.5 368v4M194.5 78v4M194.5 252v4M194.5 320v4M195.5 358v3M196.5 68v3M196.5 109v3M196.5 123v3M198.5 269v4M199.5 368v4M200.5 355v3M200.5 361v4M201.5 283v3M201.5 361v4M201.5 368v7M202.5 351v4M205.5 355v3M205.5 361v4M206.5 75v3M206.5 187v4M206.5 242v3M206.5 262v4M206.5 341v3M207.5 119v4M207.5 225v3M207.5 334v3M208.5 348v3M209.5 146v4M209.5 177v4M209.5 320v4M209.5 331v6M211.5 157v3M211.5 327v4M212.5 99v3M212.5 372v3M214.5 252v4M214.5 310v4M214.5 327v7M215.5 317v3M215.5 324v3M216.5 320v4M216.5 327v4M217.5 317v3M218.5 317v3M220.5 310v4M220.5 317v3M223.5 314v3M225.5 334v3M225.5 355v3M228.5 317v3M229.5 310v4M229.5 320v4M232.5 95v4M232.5 303v4M233.5 167v3M233.5 307v3M233.5 324v3M235.5 341v7M236.5 85v3M237.5 78v4M237.5 95v7M237.5 146v4M237.5 164v3M237.5 303v7M241.5 300v3M241.5 310v4M242.5 75v7M242.5 293v7M243.5 297v3M243.5 303v7M244.5 146v4M244.5 324v3M247.5 112v4M248.5 307v3M248.5 324v3M249.5 150v3M249.5 372v3M252.5 327v4M252.5 334v7M253.5 293v4M253.5 372v3M254.5 75v3M254.5 160v4M258.5 300v3M258.5 310v4M262.5 307v3M265.5 157v3M265.5 372v3M268.5 307v3M268.5 320v4M272.5 198v3M272.5 310v4M278.5 314v3M281.5 307v3M284.5 317v3M284.5 324v3M293.5 300v3M303.5 310v4M315.5 181v3M315.5 187v4M324.5 85v3M339.5 235v4M339.5 266v3"/>
<path stroke="#ffff00" stroke-width="2" d="M231 198v3M246 187v7M246 307v3M251 290v3M251 303v4M251 317v3M256 300v3M260 85v3M260 314v6M260 324v3M274 181v3M286 310v4M286 337v4M289 368v4M300 95v4M300 194v4M300 256v3M310 303v4M314 198v3M317 75v3M319 153v4M319 167v3M319 198v3M319 232v3M321 307v3M323 317v3M323 331v3M326 249v3M326 351v4M326 368v4M328 92v7M330 102v4M330 266v3M330 300v3M330 307v3M330 314v3M330 324v3M334 310v4M336 327v4M338 337v4M341 78v4M349 310v4M356 337v4M362 327v4M362 334v3M362 341v3M366 317v3M366 324v3M366 365v3M370 337v4M375 324v3M384 71v4M384 215v3M384 239v6M388 317v3M388 324v3M405 324v3M446 136v4"/>
<path stroke="#ffff00" stroke-width="3" d="M353.5 119v4M353.5 314v3M353.5 331v3M372.5 327v4M372.5 348v3M390.5 184v3M402.5 320v4M407.5 331v3M417.5 348v3M427.5 276v3M432.5 146v4M480.5 126v7M480.5 140v3M480.5 266v3M480.5 341v3M498.5 102v4M498.5 116v3M498.5 126v3M498.5 204v4M501.5 215v3M504.5 112v7M504.5 123v3M504.5 136v4M504.5 143v3M504.5 157v3M504.5 164v3M504.5 314v6M504.5 337v4M568.5 269v4M568.5 355v3"/>
<path stroke="#ffff00" stroke-width="4" d="M511 112v4M511 119v4M511 286v4M511 303v4M511 320v4M544 129v4M576 75v3M576 136v4M606 88v4M613 300v3M621 143v3M621 191v3M621 276v3M625 160v4M625 276v3M666 269v4M692 170v4M738 75v3M738 150v3M762 198v3"/>
<path stroke="#ffff00" stroke-width="5" d="M649.5 133v3M649.5 297v3M670.5 259v3M683.5 293v4M696.5 119v4M705.5 324v3M714.5 235v4M860.5 262v4"/>
<path stroke="#ffff00" stroke-width="6" d="M855 228v4M912 181v3M918 222v3M945 273v3M945 324v3M945 358v3M945 365v3"/>
<path stroke="#ffef00" stroke-width="1" d="M195.5 361v4M195.5 372v3M202.5 355v6M204.5 351v7M204.5 368v4M206.5 351v4M207.5 344v4M209.5 368v4M210.5 341v3M210.5 348v7M210.5 372v3M211.5 337v4M211.5 344v4M213.5 324v3M215.5 320v4M215.5 327v4M216.5 368v7M218.5 372v3M221.5 320v4M224.5 372v3M225.5 341v3M225.5 351v4M225.5 361v4M226.5 300v3M226.5 314v3M227.5 303v4M228.5 331v3M229.5 314v3M229.5 368v4M234.5 297v3M235.5 351v4M236.5 303v4M237.5 300v3M237.5 314v6M244.5 310v4M244.5 317v3M247.5 331v3M247.5 358v3M247.5 365v3M248.5 334v3M253.5 320v4M254.5 317v3M262.5 303v4M262.5 314v3M262.5 320v4M268.5 324v3M269.5 303v4M278.5 317v3M278.5 344v4M281.5 317v3M281.5 327v4M284.5 314v3M284.5 331v3M287.5 307v3M290.5 320v4M303.5 317v7M308.5 327v4M315.5 303v4"/>
<path stroke="#ffef00" stroke-width="2" d="M251 314v3M251 372v3M267 310v4M267 341v3M271 310v4M274 303v4M277 358v3M280 307v3M280 351v4M280 361v4M286 307v3M286 314v3M286 341v3M292 317v3M310 307v3M314 351v4M323 327v4M323 341v3M326 327v4M328 337v4M328 358v3M330 153v4M330 286v4M336 307v3M336 314v3M349 314v6M351 314v3M351 327v4M351 337v4M362 331v3M362 372v3M364 365v3M366 361v4M370 368v4M405 334v3M415 351v4M420 355v3"/>
<path stroke="#ffef00" stroke-width="3" d="M353.5 341v3M407.5 317v3M407.5 327v4M417.5 368v4M504.5 119v4M504.5 126v3M504.5 133v3M504.5 146v7M504.5 170v4M504.5 331v3"/>
<path stroke="#ffdf00" stroke-width="1" d="M204.5 348v3M204.5 358v3M207.5 368v7M208.5 358v3M209.5 337v4M209.5 344v4M209.5 372v3M210.5 344v4M211.5 351v4M212.5 358v3M213.5 320v4M213.5 337v4M214.5 337v4M214.5 351v4M214.5 372v3M216.5 337v4M217.5 331v3M219.5 320v4M219.5 341v3M219.5 372v3M220.5 324v3M220.5 331v3M220.5 351v4M221.5 314v3M222.5 307v3M222.5 314v3M223.5 300v3M223.5 310v4M223.5 320v7M223.5 331v3M223.5 372v3M224.5 314v10M226.5 317v3M228.5 337v4M229.5 341v3M229.5 361v4M232.5 314v3M233.5 314v3M233.5 320v4M233.5 372v3M235.5 355v3M235.5 365v3M237.5 320v4M241.5 314v3M241.5 324v3M241.5 372v3M242.5 317v3M244.5 307v3M247.5 334v3M247.5 341v3M247.5 361v4M247.5 368v4M248.5 314v3M248.5 320v4M248.5 327v4M248.5 365v3M249.5 327v4M252.5 344v4M252.5 368v4M253.5 314v3M254.5 307v7M254.5 368v7M268.5 327v4M269.5 317v3M272.5 320v7M278.5 320v4M278.5 361v4M284.5 310v4M287.5 324v3M293.5 317v3M298.5 334v3M303.5 324v3M315.5 314v3M324.5 334v3"/>
<path stroke="#ffdf00" stroke-width="2" d="M231 310v4M239 303v4M246 297v3M251 310v4M251 320v4M251 327v4M260 327v4M260 344v4M260 365v7M264 303v4M264 310v4M271 317v3M271 324v3M274 314v3M280 334v3M286 320v4M292 372v3M317 358v3M319 320v4M321 320v4M326 355v3M326 365v3M328 320v4M328 344v4M328 355v3M330 99v3M330 126v3M330 136v4M330 252v4M330 327v4M330 368v4M332 344v4M334 314v3M349 355v3M351 320v4M351 365v3M362 337v4M366 320v4M377 174v3M377 184v3M405 331v3M405 355v3M405 372v3"/>
<path stroke="#ffdf00" stroke-width="3" d="M402.5 341v3M412.5 351v4M504.5 167v3M504.5 187v7M504.5 300v3"/>
<path stroke="#ffcf00" stroke-width="1" d="M202.5 361v4M206.5 368v4M208.5 361v4M208.5 368v4M209.5 341v3M209.5 348v3M210.5 355v3M210.5 361v4M210.5 368v4M211.5 341v3M211.5 358v3M212.5 355v3M212.5 361v4M212.5 368v4M213.5 334v3M216.5 355v3M218.5 331v3M219.5 314v3M219.5 324v3M219.5 348v3M220.5 327v4M220.5 344v4M221.5 327v4M221.5 372v3M222.5 320v4M224.5 324v3M225.5 344v7M225.5 365v3M227.5 314v3M227.5 320v4M228.5 320v4M228.5 327v4M229.5 334v3M229.5 344v4M229.5 358v3M235.5 331v3M235.5 348v3M236.5 307v10M237.5 372v3M240.5 307v3M241.5 317v3M244.5 314v3M244.5 331v6M244.5 372v3M247.5 344v4M248.5 337v4M248.5 368v4M252.5 341v3M252.5 358v10M253.5 307v7M254.5 320v4M254.5 331v3M258.5 317v3M262.5 310v4M262.5 324v3M262.5 372v3M268.5 314v3M268.5 351v4M275.5 341v3M278.5 351v4M287.5 365v3M290.5 358v3M324.5 331v3"/>
<path stroke="#ffcf00" stroke-width="2" d="M231 307v3M246 368v4M251 334v3M256 303v4M260 351v4M267 372v3M274 368v4M280 317v3M280 327v4M280 355v3M307 327v4M310 314v3M321 317v3M323 324v3M323 344v4M326 334v7M326 372v3M328 372v3M330 331v3M336 310v4M351 341v3M360 327v4M360 334v3M362 368v4M370 320v4M377 331v3"/>
<path stroke="#ffcf00" stroke-width="3" d="M353.5 348v3M402.5 331v3M407.5 365v3M504.5 174v13M504.5 194v10M504.5 208v3M504.5 228v4M504.5 290v3M504.5 297v3M504.5 303v7"/>
<path stroke="#ffbf00" stroke-width="1" d="M206.5 348v3M206.5 361v7M207.5 351v4M209.5 351v4M210.5 358v3M211.5 355v3M211.5 372v3M213.5 331v3M213.5 368v4M214.5 348v3M214.5 355v3M215.5 334v3M216.5 344v4M217.5 327v4M218.5 334v7M219.5 331v3M219.5 337v4M220.5 337v7M221.5 337v4M222.5 317v3M223.5 334v3M225.5 337v4M227.5 307v3M228.5 334v3M228.5 344v4M229.5 348v3M229.5 365v3M232.5 307v3M232.5 317v3M232.5 324v3M234.5 300v3M234.5 307v3M235.5 334v3M236.5 317v3M236.5 372v3M237.5 324v7M237.5 337v4M241.5 368v4M244.5 337v4M247.5 327v4M247.5 348v7M248.5 331v3M249.5 320v4M249.5 334v3M252.5 351v4M254.5 324v7M254.5 334v3M257.5 361v7M258.5 331v3M265.5 327v4M269.5 314v3M269.5 320v4M272.5 314v6M272.5 368v4M275.5 344v4M284.5 334v7M284.5 351v4M284.5 368v4M287.5 351v4M324.5 348v3"/>
<path stroke="#ffbf00" stroke-width="2" d="M231 368v4M246 303v4M251 368v4M256 307v3M256 324v3M260 334v3M260 358v3M264 314v3M267 320v7M271 320v4M271 331v3M274 358v3M280 337v4M280 368v4M286 327v4M310 310v4M310 317v3M319 334v3M321 331v3M328 334v3M330 334v3M336 324v3M336 331v3M351 331v3M356 344v4M362 365v3M375 331v3M375 358v3M375 368v4M388 327v4M388 365v3M398 361v4"/>
<path stroke="#ffbf00" stroke-width="3" d="M353.5 344v4M353.5 365v3M402.5 372v3M407.5 372v3M504.5 204v4M504.5 225v3M504.5 239v3M504.5 252v4M504.5 279v4M504.5 286v4M504.5 293v4"/>
<path stroke="#ffaf00" stroke-width="1" d="M204.5 365v3M209.5 361v4M211.5 361v4M211.5 368v4M212.5 365v3M216.5 341v3M219.5 355v3M220.5 334v3M220.5 368v4M221.5 331v6M221.5 341v3M223.5 337v4M224.5 307v3M227.5 372v3M232.5 327v4M233.5 317v3M233.5 331v6M234.5 310v4M236.5 327v4M237.5 331v3M240.5 320v4M241.5 320v4M242.5 303v7M242.5 372v3M243.5 310v4M244.5 368v4M248.5 317v3M248.5 348v3M248.5 355v3M249.5 324v3M249.5 365v7M252.5 348v3M252.5 355v3M253.5 331v3M253.5 368v4M258.5 314v3M258.5 327v4M261.5 341v3M261.5 348v3M262.5 331v3M265.5 320v7M265.5 361v4M269.5 327v7M272.5 355v3M278.5 327v7M278.5 337v4M287.5 348v3M287.5 372v3M303.5 314v3"/>
<path stroke="#ffaf00" stroke-width="2" d="M231 337v4M246 320v4M256 314v3M260 331v3M260 337v7M260 348v3M264 317v7M264 372v3M267 314v3M267 355v3M271 355v6M280 320v4M280 341v3M280 348v3M286 303v4M314 324v3M317 327v4M321 372v3M356 341v3M360 341v3M375 327v4M388 334v3M388 348v3"/>
<path stroke="#ffaf00" stroke-width="3" d="M353.5 337v4M353.5 355v3M417.5 365v3M504.5 211v4M504.5 222v3M504.5 232v7M504.5 249v3M504.5 259v3M504.5 273v3M504.5 283v3"/>
<path stroke="#ff9f00" stroke-width="1" d="M207.5 348v3M209.5 355v3M211.5 348v3M213.5 344v4M213.5 355v3M214.5 358v14M217.5 372v3M218.5 341v3M218.5 358v3M219.5 368v4M220.5 365v3M221.5 344v4M222.5 71v4M222.5 146v4M222.5 279v4M222.5 324v3M223.5 365v3M226.5 327v7M227.5 324v3M227.5 341v3M228.5 341v3M232.5 368v7M234.5 320v4M235.5 361v4M236.5 320v4M237.5 334v3M240.5 317v3M240.5 324v3M240.5 331v3M242.5 320v4M242.5 327v4M244.5 344v4M248.5 351v4M249.5 331v3M249.5 337v7M253.5 327v4M253.5 334v3M254.5 355v3M254.5 365v3M262.5 341v3M269.5 348v3M272.5 331v6M284.5 341v3M284.5 372v3M287.5 368v4M290.5 361v4M315.5 341v3M324.5 351v4"/>
<path stroke="#ff9f00" stroke-width="2" d="M246 317v3M246 327v4M251 324v3M251 331v3M251 337v4M256 334v3M267 358v3M271 327v4M271 361v4M274 351v4M292 368v4M310 320v4M314 348v3M321 334v3M328 327v4M351 344v4M362 351v4M362 361v4M377 355v3"/>
<path stroke="#ff9f00" stroke-width="3" d="M402.5 368v4M504.5 215v7M504.5 245v4M504.5 262v11M504.5 276v3"/>
<path stroke="#ff8f00" stroke-width="1" d="M202.5 365v3M207.5 361v7M209.5 358v3M211.5 365v3M213.5 348v3M215.5 337v4M215.5 372v3M216.5 348v7M216.5 365v3M217.5 337v4M218.5 344v7M219.5 344v4M222.5 85v3M222.5 140v3M222.5 153v4M222.5 228v4M222.5 245v4M222.5 334v3M223.5 327v4M223.5 341v3M223.5 368v4M225.5 358v3M226.5 320v4M226.5 334v3M226.5 368v4M229.5 351v4M234.5 314v3M236.5 324v3M236.5 334v3M237.5 341v3M240.5 310v7M241.5 327v4M242.5 331v3M244.5 327v4M244.5 341v3M248.5 358v3M249.5 344v4M253.5 324v3M253.5 341v3M253.5 355v3M258.5 320v7M258.5 372v3M262.5 327v4M265.5 331v6M265.5 341v7M268.5 334v3M269.5 324v3M269.5 341v3M278.5 341v3M278.5 348v3M278.5 358v3M284.5 355v3M287.5 355v3M290.5 341v3M293.5 355v3M315.5 327v7M324.5 344v4"/>
<path stroke="#ff8f00" stroke-width="2" d="M231 317v3M231 324v3M239 324v3M246 310v4M251 341v3M251 348v3M251 355v3M256 372v3M260 361v4M264 327v4M267 337v4M267 368v4M271 337v4M280 331v3M286 372v3M317 361v4M319 361v4M323 361v4M330 337v4M332 348v3M360 337v4M362 344v4M377 358v3M405 351v4"/>
<path stroke="#ff8f00" stroke-width="3" d="M353.5 361v4M407.5 368v4M504.5 242v3M504.5 256v3"/>
<path stroke="#ff8000" stroke-width="1" d="M213.5 341v3M215.5 368v4M216.5 358v3M219.5 351v4M219.5 361v7M220.5 355v3M221.5 348v10M221.5 361v4M222.5 150v3M222.5 341v3M224.5 327v7M226.5 324v3M226.5 337v4M226.5 344v4M227.5 334v7M227.5 365v7M228.5 358v3M233.5 341v7M233.5 365v7M237.5 368v4M241.5 331v3M242.5 334v3M242.5 368v4M243.5 314v3M243.5 320v7M243.5 372v3M244.5 348v7M244.5 361v4M248.5 344v4M249.5 351v4M253.5 337v4M253.5 358v3M254.5 337v7M254.5 351v4M258.5 344v4M258.5 365v3M262.5 334v3M265.5 355v3M269.5 351v4M272.5 372v3M315.5 320v4M315.5 355v3M324.5 337v4"/>
<path stroke="#ff8000" stroke-width="2" d="M231 372v3M246 331v3M246 372v3M251 351v4M256 317v7M256 368v4M264 324v3M264 344v4M267 348v3M271 334v3M280 358v3M286 331v3M314 358v3M328 324v3M328 341v3M332 334v7M356 348v3M356 355v6M362 348v3M370 365v3M375 361v4M388 331v3M388 337v4"/>
<path stroke="#ff8000" stroke-width="3" d="M372.5 337v4M372.5 372v3M402.5 344v4"/>
<path stroke="#ff7000" stroke-width="1" d="M213.5 358v7M215.5 348v3M217.5 334v3M217.5 351v4M218.5 361v7M220.5 372v3M221.5 365v7M222.5 78v4M222.5 215v3M222.5 372v3M223.5 348v7M224.5 368v4M226.5 341v3M226.5 365v3M232.5 320v4M232.5 348v3M233.5 337v4M234.5 324v3M234.5 331v3M234.5 368v4M236.5 337v4M240.5 327v4M241.5 344v4M241.5 351v4M241.5 365v3M243.5 317v3M248.5 361v4M249.5 348v3M249.5 358v7M253.5 365v3M254.5 344v7M254.5 361v4M258.5 334v7M262.5 337v4M262.5 344v4M262.5 368v4M284.5 348v3M290.5 344v4M298.5 331v3M315.5 324v3M315.5 334v3M315.5 348v3"/>
<path stroke="#ff7000" stroke-width="2" d="M231 320v4M231 327v10M231 341v7M246 314v3M246 324v3M246 334v3M251 361v7M264 331v3M271 341v3M277 334v7M280 365v3M310 324v3M317 334v3M321 341v3M332 327v4M351 348v3M360 344v4M362 355v3M388 355v3M398 348v3"/>
<path stroke="#ff7000" stroke-width="3" d="M353.5 358v3M407.5 361v4"/>
<path stroke="#ff6000" stroke-width="1" d="M209.5 365v3M213.5 351v4M215.5 341v3M217.5 344v4M217.5 355v3M220.5 358v3M222.5 109v3M222.5 119v4M222.5 211v4M223.5 344v4M223.5 358v3M224.5 334v3M228.5 355v3M228.5 361v4M232.5 341v3M232.5 365v3M233.5 348v3M233.5 358v3M234.5 337v4M236.5 331v3M236.5 341v3M237.5 344v7M237.5 365v3M241.5 334v10M241.5 355v3M242.5 344v4M243.5 331v3M243.5 337v4M244.5 365v3M253.5 348v7M257.5 358v3M265.5 337v4M265.5 358v3M269.5 334v3M278.5 334v3M284.5 361v4"/>
<path stroke="#ff6000" stroke-width="2" d="M231 361v4M246 341v3M246 348v3M246 365v3M256 331v3M267 331v3M271 344v4M271 351v4M274 365v3M310 327v4M314 355v3M317 344v4M321 368v4M323 355v3M332 361v4M356 351v4M360 348v3M362 358v3M370 341v3"/>
<path stroke="#ff6000" stroke-width="3" d="M353.5 351v4M372.5 344v4M407.5 351v4"/>
<path stroke="#ff5000" stroke-width="1" d="M215.5 351v4M216.5 361v4M217.5 341v3M219.5 358v3M220.5 361v4M223.5 355v3M223.5 361v4M224.5 341v3M227.5 348v3M233.5 351v7M234.5 327v4M236.5 344v4M236.5 365v7M242.5 337v4M242.5 361v4M244.5 355v3M258.5 341v3M269.5 337v4M284.5 358v3M284.5 365v3M287.5 361v4M315.5 361v4"/>
<path stroke="#ff5000" stroke-width="2" d="M246 337v4M251 358v3M256 337v4M264 365v7M267 327v4M267 351v4M267 361v4M274 334v3M280 344v4M286 368v4M310 355v3M326 331v3M326 348v3M328 351v4M360 355v6M370 344v4M388 344v4"/>
<path stroke="#ff5000" stroke-width="3" d="M402.5 358v3"/>
<path stroke="#ff4000" stroke-width="1" d="M213.5 365v3M217.5 348v3M217.5 368v4M218.5 351v4M226.5 348v3M227.5 344v4M227.5 361v4M232.5 344v4M232.5 358v7M234.5 372v3M237.5 355v3M241.5 361v4M244.5 358v3M253.5 344v4M253.5 361v4M254.5 358v3M262.5 351v4M269.5 344v4M272.5 348v3"/>
<path stroke="#ff4000" stroke-width="2" d="M231 355v3M256 327v4M256 365v3M264 348v3M264 355v3M267 334v3M271 348v3M286 344v4M310 331v3M351 355v3"/>
<path stroke="#ff3000" stroke-width="1" d="M215.5 355v3M217.5 358v3M218.5 355v3M222.5 344v4M224.5 351v7M226.5 351v4M227.5 351v4M232.5 337v4M234.5 334v3M234.5 344v4M240.5 337v4M240.5 368v4M241.5 348v3M242.5 348v3M243.5 334v3M249.5 355v3M258.5 351v4M262.5 348v3M262.5 355v3M275.5 348v3M287.5 358v3M315.5 337v4"/>
<path stroke="#ff3000" stroke-width="2" d="M246 344v4M246 361v4M256 361v4M267 344v4M277 331v3M277 348v3M310 348v3M332 331v3M336 334v3M351 358v3M360 351v4M388 351v4M398 351v4M398 365v3"/>
<path stroke="#ff3000" stroke-width="3" d="M372.5 365v3"/>
<path stroke="#ff2000" stroke-width="1" d="M215.5 365v3M222.5 331v3M224.5 365v3M226.5 355v6M227.5 355v6M234.5 341v3M234.5 365v3M236.5 361v4M237.5 351v4M237.5 358v7M240.5 334v3M242.5 358v3M243.5 344v4M243.5 368v4M272.5 344v4"/>
<path stroke="#ff2000" stroke-width="2" d="M231 351v4M246 355v3M256 341v14M264 351v4M274 337v4M274 344v4M319 358v3M321 344v4M323 358v3M326 344v4M388 341v3"/>
<path stroke="#ff2000" stroke-width="3" d="M402.5 361v4"/>
<path stroke="#ff1000" stroke-width="1" d="M215.5 361v4M217.5 361v7M222.5 355v3M222.5 368v4M224.5 358v7M232.5 351v4M236.5 351v7M240.5 344v4M242.5 341v3M242.5 351v7M242.5 365v3M269.5 355v3M269.5 361v4M272.5 358v3"/>
<path stroke="#ff1000" stroke-width="2" d="M231 358v3M267 365v3M274 341v3M274 361v4M317 341v3M332 341v3M349 361v4M370 348v3"/>
<path stroke="#ff0000" stroke-width="1" d="M234.5 348v3M236.5 348v3M243.5 341v3M243.5 348v7M258.5 361v4M315.5 358v3"/>
<path stroke="#ff0000" stroke-width="2" d="M256 355v3M274 348v3M286 351v4M321 365v3M326 341v3M326 358v3M332 358v3"/>
<path stroke="#ff0000" stroke-width="3" d="M372.5 358v3"/>
<path stroke="#ef0000" stroke-width="1" d="M222.5 348v3M232.5 355v3M236.5 358v3M240.5 355v3M243.5 361v7M258.5 358v3M315.5 351v4"/>
<path stroke="#ef0000" stroke-width="2" d="M264 361v4M274 355v3M286 355v6M317 337v4M321 348v7"/>
<path stroke="#df0000" stroke-width="1" d="M215.5 358v3M222.5 358v10M234.5 351v4M240.5 341v3M315.5 344v4"/>
<path stroke="#cf0000" stroke-width="1" d="M234.5 361v4M240.5 348v7M240.5 361v4M243.5 355v3M269.5 358v3"/>
<path stroke="#cf0000" stroke-width="2" d="M256 358v3M264 358v3M321 358v3M332 351v4"/>
<path stroke="#bf0000" stroke-width="1" d="M234.5 355v6"/>
<path stroke="#bf0000" stroke-width="2" d="M286 348v3"/>
<path stroke="#af0000" stroke-width="1" d="M240.5 358v3"/>
<path stroke="#af0000" stroke-width="2" d="M286 361v4M398 355v3"/>
<path stroke="#9f0000" stroke-width="1" d="M243.5 358v3"/>
<path stroke="#9f0000" stroke-width="3" d="M372.5 361v4"/>
<path stroke="#8f0000" stroke-width="2" d="M286 365v3"/>
<path stroke="#800000" stroke-width="2" d="M321 355v3M321 361v4"/></g>
<g stroke="#000" stroke-width="1.2" fill="none" shape-rendering="crispEdges"><path d="M156.5 68V375.5H948"/><path d="M156.5 375v-7"/><path d="M156.5 68v7"/><path d="M197.5 375v-7"/><path d="M197.5 68v7"/><path d="M280.5 375v-7"/><path d="M280.5 68v7"/><path d="M364.5 375v-7"/><path d="M364.5 68v7"/><path d="M447.5 375v-7"/><path d="M447.5 68v7"/><path d="M530.5 375v-7"/><path d="M530.5 68v7"/><path d="M612.5 375v-7"/><path d="M612.5 68v7"/><path d="M697.5 375v-7"/><path d="M697.5 68v7"/><path d="M780.5 375v-7"/><path d="M780.5 68v7"/><path d="M863.5 375v-7"/><path d="M863.5 68v7"/><path d="M947.5 375v-7"/><path d="M947.5 68v7"/><path d="M156 68.5h8"/><path d="M948 68.5h-9"/><path d="M156 153.5h8"/><path d="M948 153.5h-9"/><path d="M156 238.5h8"/><path d="M948 238.5h-9"/><path d="M156 323.5h8"/><path d="M948 323.5h-9"/></g>
<g shape-rendering="crispEdges"><rect x="980" y="371" width="42" height="5" fill="#00008f"/><rect x="980" y="366" width="42" height="5" fill="#00009f"/><rect x="980" y="362" width="42" height="4" fill="#0000af"/><rect x="980" y="357" width="42" height="5" fill="#0000bf"/><rect x="980" y="352" width="42" height="5" fill="#0000cf"/><rect x="980" y="347" width="42" height="5" fill="#0000df"/><rect x="980" y="342" width="42" height="5" fill="#0000ef"/><rect x="980" y="338" width="42" height="4" fill="#0000ff"/><rect x="980" y="333" width="42" height="5" fill="#0010ff"/><rect x="980" y="328" width="42" height="5" fill="#0020ff"/><rect x="980" y="323" width="42" height="5" fill="#0030ff"/><rect x="980" y="318" width="42" height="5" fill="#0040ff"/><rect x="980" y="313" width="42" height="5" fill="#0050ff"/><rect x="980" y="309" width="42" height="4" fill="#0060ff"/><rect x="980" y="304" width="42" height="5" fill="#0070ff"/><rect x="980" y="299" width="42" height="5" fill="#0080ff"/><rect x="980" y="294" width="42" height="5" fill="#008fff"/><rect x="980" y="289" width="42" height="5" fill="#009fff"/><rect x="980" y="285" width="42" height="4" fill="#00afff"/><rect x="980" y="280" width="42" height="5" fill="#00bfff"/><rect x="980" y="275" width="42" height="5" fill="#00cfff"/><rect x="980" y="270" width="42" height="5" fill="#00dfff"/><rect x="980" y="265" width="42" height="5" fill="#00efff"/><rect x="980" y="260" width="42" height="5" fill="#00ffff"/><rect x="980" y="256" width="42" height="4" fill="#10ffef"/><rect x="980" y="251" width="42" height="5" fill="#20ffdf"/><rect x="980" y="246" width="42" height="5" fill="#30ffcf"/><rect x="980" y="241" width="42" height="5" fill="#40ffbf"/><rect x="980" y="236" width="42" height="5" fill="#50ffaf"/><rect x="980" y="232" width="42" height="4" fill="#60ff9f"/><rect x="980" y="227" width="42" height="5" fill="#70ff8f"/><rect x="980" y="222" width="42" height="5" fill="#80ff80"/><rect x="980" y="217" width="42" height="5" fill="#8fff70"/><rect x="980" y="212" width="42" height="5" fill="#9fff60"/><rect x="980" y="208" width="42" height="4" fill="#afff50"/><rect x="980" y="203" width="42" height="5" fill="#bfff40"/><rect x="980" y="198" width="42" height="5" fill="#cfff30"/><rect x="980" y="193" width="42" height="5" fill="#dfff20"/><rect x="980" y="188" width="42" height="5" fill="#efff10"/><rect x="980" y="184" width="42" height="4" fill="#ffff00"/><rect x="980" y="179" width="42" height="5" fill="#ffef00"/><rect x="980" y="174" width="42" height="5" fill="#ffdf00"/><rect x="980" y="169" width="42" height="5" fill="#ffcf00"/><rect x="980" y="164" width="42" height="5" fill="#ffbf00"/><rect x="980" y="159" width="42" height="5" fill="#ffaf00"/><rect x="980" y="155" width="42" height="4" fill="#ff9f00"/><rect x="980" y="150" width="42" height="5" fill="#ff8f00"/><rect x="980" y="145" width="42" height="5" fill="#ff8000"/><rect x="980" y="140" width="42" height="5" fill="#ff7000"/><rect x="980" y="135" width="42" height="5" fill="#ff6000"/><rect x="980" y="131" width="42" height="4" fill="#ff5000"/><rect x="980" y="126" width="42" height="5" fill="#ff4000"/><rect x="980" y="121" width="42" height="5" fill="#ff3000"/><rect x="980" y="116" width="42" height="5" fill="#ff2000"/><rect x="980" y="111" width="42" height="5" fill="#ff1000"/><rect x="980" y="106" width="42" height="5" fill="#ff0000"/><rect x="980" y="102" width="42" height="4" fill="#ef0000"/><rect x="980" y="97" width="42" height="5" fill="#df0000"/><rect x="980" y="92" width="42" height="5" fill="#cf0000"/><rect x="980" y="87" width="42" height="5" fill="#bf0000"/><rect x="980" y="82" width="42" height="5" fill="#af0000"/><rect x="980" y="78" width="42" height="4" fill="#9f0000"/><rect x="980" y="73" width="42" height="5" fill="#8f0000"/><rect x="980" y="68" width="42" height="5" fill="#800000"/><path d="M979.5 68V376.5H1022" stroke="#000" stroke-width="1.4" fill="none"/><path d="M979 222.5h4M1022 222.5h-4M979 68.5h4M1022 68.5h-5" stroke="#000" stroke-width="1" fill="none"/></g>
<g><text x="149.4" y="80.0" text-anchor="end">800</text><text x="149.4" y="165.0" text-anchor="end">600</text><text x="149.4" y="250.0" text-anchor="end">400</text><text x="149.4" y="335.0" text-anchor="end">200</text><text x="156.2" y="411.0" text-anchor="middle">1</text><text x="197.2" y="411.0" text-anchor="middle">2</text><text x="280.2" y="411.0" text-anchor="middle">4</text><text x="364.2" y="411.0" text-anchor="middle">6</text><text x="447.2" y="411.0" text-anchor="middle">8</text><text x="530.2" y="411.0" text-anchor="middle">10</text><text x="612.2" y="411.0" text-anchor="middle">12</text><text x="697.2" y="411.0" text-anchor="middle">14</text><text x="780.2" y="411.0" text-anchor="middle">16</text><text x="863.2" y="411.0" text-anchor="middle">18</text><text x="947.2" y="411.0" text-anchor="middle">20</text><text x="1026.3" y="80.1">50</text><text x="1026.3" y="234.1">0</text><text x="1026.3" y="388.1">-50</text></g>
<g stroke="#000" stroke-width="1" stroke-dasharray="2.1 5.9" fill="none"><path stroke-dashoffset="-4.2" d="M197.5 494V801M280.5 494V801M364.5 494V801M447.5 494V801M530.5 494V801M612.5 494V801M697.5 494V801M780.5 494V801M863.5 494V801M947.5 494V801"/><path stroke-dashoffset="-6.2" d="M156 494.5H948M156 579.5H948M156 664.5H948M156 749.5H948"/></g>
<g fill="none" shape-rendering="crispEdges"><path stroke="#00008f" stroke-width="1" d="M222.5 600v3M222.5 617v3M222.5 736v4M235.5 607v3M235.5 665v3M241.5 682v3M261.5 665v6M261.5 678v4M261.5 705v4M269.5 767v3M272.5 692v3M272.5 716v7M272.5 767v3M278.5 736v7M284.5 712v4M287.5 740v3M290.5 736v4M298.5 610v3M298.5 712v7M324.5 699v3M324.5 763v7"/>
<path stroke="#00008f" stroke-width="2" d="M246 726v3M260 705v4M271 767v3M274 729v4M277 740v3M283 750v3M283 770v4M300 757v3M302 729v4M310 743v3M317 750v3M317 757v13M319 746v21M319 770v4M321 743v3M321 763v4M321 774v3M326 763v4M328 736v10M328 750v3M328 763v7M330 743v10M330 757v3M330 763v4M330 770v14M332 746v4M332 760v7M332 770v4M336 753v4M336 760v3M338 763v7M351 760v3M358 726v3M358 743v14M360 746v4M368 777v4"/>
<path stroke="#00009f" stroke-width="1" d="M233.5 723v3M324.5 757v3"/>
<path stroke="#00009f" stroke-width="2" d="M256 736v4M297 726v3"/>
<path stroke="#0000af" stroke-width="1" d="M261.5 661v4M261.5 675v3M298.5 695v4"/>
<path stroke="#0000af" stroke-width="2" d="M267 746v4M274 709v3M319 767v3M323 753v4"/>
<path stroke="#0000bf" stroke-width="1" d="M272.5 770v4M284.5 770v4M298.5 726v3"/>
<path stroke="#0000bf" stroke-width="2" d="M286 705v4M317 774v3M332 740v3M338 753v4"/>
<path stroke="#0000cf" stroke-width="1" d="M261.5 682v3M261.5 726v3M272.5 651v7M272.5 699v3M308.5 723v3"/>
<path stroke="#0000cf" stroke-width="2" d="M271 770v4M312 770v4M314 733v7M332 781v3M336 763v4M351 757v3M358 774v3M364 644v4"/>
<path stroke="#0000cf" stroke-width="3" d="M353.5 746v4"/>
<path stroke="#0000df" stroke-width="1" d="M261.5 760v3M272.5 668v3M272.5 723v3M290.5 740v3"/>
<path stroke="#0000df" stroke-width="2" d="M300 624v3M314 709v3M332 757v3"/>
<path stroke="#0000ef" stroke-width="1" d="M269.5 763v4M339.5 753v4"/>
<path stroke="#0000ef" stroke-width="2" d="M246 511v3M274 712v4M283 774v3M319 774v3M323 763v4M330 753v4M341 729v4"/>
<path stroke="#0000ef" stroke-width="3" d="M372.5 757v3"/>
<path stroke="#0000ff" stroke-width="1" d="M261.5 688v4M290.5 746v4M339.5 760v3"/>
<path stroke="#0000ff" stroke-width="2" d="M277 733v3M364 763v4"/>
<path stroke="#0000ff" stroke-width="3" d="M402.5 777v4M402.5 798v3"/>
<path stroke="#0010ff" stroke-width="1" d="M265.5 777v4M268.5 757v3M269.5 729v4"/>
<path stroke="#0010ff" stroke-width="2" d="M274 671v4M277 736v4M297 770v4M314 760v3M332 777v4"/>
<path stroke="#0010ff" stroke-width="3" d="M402.5 770v4"/>
<path stroke="#0020ff" stroke-width="1" d="M220.5 695v4M269.5 770v4"/>
<path stroke="#0020ff" stroke-width="2" d="M283 641v3M319 777v4M347 767v3M351 736v4M351 743v3M351 770v4M358 709v3M388 798v3"/>
<path stroke="#0020ff" stroke-width="3" d="M372.5 760v3M372.5 767v3"/>
<path stroke="#0030ff" stroke-width="1" d="M185.5 685v7M222.5 661v4M226.5 763v4M240.5 716v3M324.5 702v3"/>
<path stroke="#0030ff" stroke-width="2" d="M297 740v3M326 777v4M351 777v4M370 777v7M379 763v4"/>
<path stroke="#0030ff" stroke-width="3" d="M402.5 774v3M448.5 781v3"/>
<path stroke="#0040ff" stroke-width="1" d="M217.5 733v3M261.5 671v4M272.5 671v4"/>
<path stroke="#0040ff" stroke-width="2" d="M246 723v3M267 767v3M274 634v3M338 777v4M375 767v3M386 784v3M393 798v3M415 798v3"/>
<path stroke="#0040ff" stroke-width="3" d="M448.5 791v3M457.5 559v3M462.5 781v3"/>
<path stroke="#0050ff" stroke-width="1" d="M272.5 675v3M272.5 695v4M275.5 736v4M287.5 736v4M290.5 760v3M303.5 651v3"/>
<path stroke="#0050ff" stroke-width="2" d="M264 719v4M267 781v3M289 743v3M297 767v3M319 743v3M323 770v4M334 750v3M336 743v3M358 757v3M375 787v4M377 753v4M377 777v4M386 760v3M446 777v4"/>
<path stroke="#0060ff" stroke-width="1" d="M208.5 787v4M272.5 641v3M272.5 709v3M278.5 760v3"/>
<path stroke="#0060ff" stroke-width="2" d="M297 763v4M300 777v4M310 746v4M321 740v3M341 777v4M351 733v3M375 750v3M375 784v3M377 750v3M377 784v7M379 784v3M386 770v4M393 794v4"/>
<path stroke="#0060ff" stroke-width="3" d="M372.5 770v4M372.5 781v3M417.5 794v4M504.5 569v3"/>
<path stroke="#0070ff" stroke-width="1" d="M253.5 740v3M268.5 777v4M272.5 661v4M272.5 712v4M275.5 726v3"/>
<path stroke="#0070ff" stroke-width="2" d="M267 736v4M314 699v3M338 750v3M351 729v4M368 791v3M370 767v3M384 784v3M388 794v4M398 781v3M400 777v4M405 763v4M415 791v7M446 770v4"/>
<path stroke="#0070ff" stroke-width="3" d="M372.5 763v4M381.5 791v3M390.5 798v3M395.5 784v3M448.5 774v3M504.5 620v4M504.5 627v3"/>
<path stroke="#0080ff" stroke-width="1" d="M222.5 699v3M284.5 726v3"/>
<path stroke="#0080ff" stroke-width="2" d="M267 743v3M317 746v4M336 767v3M356 753v4M375 774v3M375 781v3M377 791v3M379 767v7M379 794v4M386 763v7M388 767v3M405 774v3M446 774v3"/>
<path stroke="#0080ff" stroke-width="3" d="M390.5 794v4M407.5 798v3M412.5 794v4M448.5 777v4M454.5 777v4"/>
<path stroke="#008fff" stroke-width="1" d="M222.5 572v4M261.5 699v3M265.5 781v3M272.5 705v4M308.5 743v3"/>
<path stroke="#008fff" stroke-width="2" d="M314 763v4M323 743v3M362 774v3M370 770v4M375 770v4M379 791v3M386 774v3M446 798v3"/>
<path stroke="#008fff" stroke-width="3" d="M372.5 774v3M381.5 798v3M412.5 753v4M412.5 787v4M504.5 566v3M504.5 624v3"/>
<path stroke="#009fff" stroke-width="1" d="M209.5 781v3M275.5 729v4M298.5 757v3M308.5 729v4"/>
<path stroke="#009fff" stroke-width="2" d="M231 760v3M312 774v3M351 781v6M356 763v4M358 777v4M368 787v4M370 757v3M370 794v4M375 777v4M377 770v4M398 777v4"/>
<path stroke="#009fff" stroke-width="3" d="M353.5 774v3M390.5 750v3M402.5 767v3M407.5 763v4M407.5 791v3M417.5 798v3"/>
<path stroke="#00afff" stroke-width="1" d="M209.5 774v3M209.5 787v4M212.5 753v4M290.5 743v3M298.5 740v3"/>
<path stroke="#00afff" stroke-width="2" d="M267 760v3M310 753v4M314 757v3M326 781v3M360 750v3M368 794v4M375 763v4M375 791v3M377 794v4M386 740v3M388 757v3M393 743v3M446 784v3"/>
<path stroke="#00afff" stroke-width="3" d="M381.5 794v4M390.5 743v3M390.5 760v3M402.5 794v4M412.5 757v3"/>
<path stroke="#00bfff" stroke-width="1" d="M208.5 791v3M226.5 760v3M272.5 740v3M272.5 757v3M284.5 709v3"/>
<path stroke="#00bfff" stroke-width="2" d="M286 709v3M289 736v4M312 794v4M328 787v4M330 794v4M338 746v4M341 784v3M356 774v3M358 767v3M384 798v3M388 736v4M388 791v3M393 763v4M393 791v3M400 770v4M415 787v4M446 781v3"/>
<path stroke="#00bfff" stroke-width="3" d="M353.5 750v3M390.5 791v3M395.5 777v4M451.5 781v3M504.5 572v4M504.5 736v4"/>
<path stroke="#00cfff" stroke-width="1" d="M208.5 794v4M226.5 767v3M261.5 685v3M261.5 753v4M265.5 733v3M272.5 726v3"/>
<path stroke="#00cfff" stroke-width="2" d="M271 736v4M332 767v3M332 784v7M349 770v4M370 760v7M388 760v3M405 767v3"/>
<path stroke="#00cfff" stroke-width="3" d="M372.5 733v3M390.5 746v4M407.5 777v4M412.5 746v4M412.5 760v3M451.5 784v3M465.5 791v3M504.5 665v3"/>
<path stroke="#00dfff" stroke-width="1" d="M234.5 798v3M241.5 729v4M272.5 746v4M339.5 770v4"/>
<path stroke="#00dfff" stroke-width="2" d="M260 729v4M271 777v4M319 781v3M332 794v4M341 740v3M368 770v4M370 791v3M384 733v3M384 781v3M384 787v4M388 753v4M388 763v4M398 750v3M405 770v4"/>
<path stroke="#00dfff" stroke-width="3" d="M372.5 736v4M372.5 743v3M372.5 787v4M372.5 798v3M381.5 740v3M402.5 760v3M412.5 791v3M435.5 781v3M465.5 784v3M504.5 576v3M504.5 661v4"/>
<path stroke="#00efff" stroke-width="1" d="M207.5 791v3M226.5 770v4M241.5 767v3M284.5 763v4M284.5 777v4M298.5 702v3M315.5 767v3"/>
<path stroke="#00efff" stroke-width="2" d="M277 729v4M297 760v3M314 743v3M332 743v3M341 743v3M351 746v4M379 781v3M384 777v4M384 794v4M398 784v3"/>
<path stroke="#00efff" stroke-width="3" d="M372.5 740v3M381.5 781v3M412.5 798v3M504.5 668v3"/>
<path stroke="#00ffff" stroke-width="1" d="M195.5 794v4M196.5 794v4M232.5 798v3M237.5 787v4M272.5 702v3M290.5 750v3M324.5 760v3M339.5 767v3"/>
<path stroke="#00ffff" stroke-width="2" d="M280 757v3M314 770v4M319 740v3M323 750v3M336 770v4M345 743v3M345 787v4M377 767v3M379 774v3M379 798v3M386 757v3M393 760v3M393 787v4M430 770v4"/>
<path stroke="#00ffff" stroke-width="3" d="M381.5 750v3M390.5 787v4M395.5 767v3M395.5 774v3M402.5 763v4M412.5 784v3M477.5 787v4M483.5 787v4M504.5 702v3"/>
<path stroke="#10ffef" stroke-width="1" d="M198.5 794v4M234.5 794v4M235.5 791v3M241.5 787v7M339.5 763v4"/>
<path stroke="#10ffef" stroke-width="2" d="M267 777v4M302 777v4M328 784v3M330 767v3M345 740v3M358 760v3M360 770v4M368 798v3M375 740v3M377 760v3M379 743v3M379 757v3M379 787v4M384 736v4M384 763v4M386 729v4M388 787v4M393 750v3M393 757v3M393 767v7M400 774v3M405 791v3M446 767v3"/>
<path stroke="#10ffef" stroke-width="3" d="M353.5 777v4M372.5 791v3M390.5 784v3M395.5 760v3M402.5 757v3M402.5 784v7M407.5 770v4M432.5 784v3M443.5 794v4M480.5 794v4M504.5 579v4"/>
<path stroke="#20ffdf" stroke-width="1" d="M194.5 794v4M200.5 798v3M206.5 791v3M209.5 784v3M211.5 794v4M269.5 774v3M272.5 798v3M339.5 757v3"/>
<path stroke="#20ffdf" stroke-width="2" d="M260 798v3M267 763v4M271 750v3M300 774v3M310 781v3M323 767v3M336 774v3M347 791v3M360 774v3M362 777v4M370 774v3M379 753v4M384 774v3M386 736v4M386 746v4M398 753v4M398 770v4M398 798v3M400 767v3M425 791v3"/>
<path stroke="#20ffdf" stroke-width="3" d="M381.5 784v3M390.5 770v4M395.5 746v4M407.5 753v4M407.5 774v3M432.5 777v4M435.5 763v4M451.5 787v4M454.5 774v3M483.5 791v7"/>
<path stroke="#30ffcf" stroke-width="1" d="M197.5 794v4M202.5 774v3M222.5 630v4M228.5 746v4M233.5 794v4M254.5 798v3M275.5 733v3M287.5 746v4M298.5 736v4M298.5 743v3"/>
<path stroke="#30ffcf" stroke-width="2" d="M330 791v3M347 763v4M356 757v3M375 746v4M375 753v4M398 787v4M415 784v3M425 798v3M430 781v3M430 787v4M438 774v3M438 798v3M460 781v3"/>
<path stroke="#30ffcf" stroke-width="3" d="M381.5 774v3M390.5 763v4M395.5 750v3M395.5 770v4M427.5 787v4M462.5 787v4M462.5 794v4"/>
<path stroke="#40ffbf" stroke-width="1" d="M195.5 791v3M197.5 791v3M222.5 562v4M240.5 726v3M249.5 791v3M254.5 794v4M261.5 750v3M268.5 781v3"/>
<path stroke="#40ffbf" stroke-width="2" d="M271 743v3M283 777v4M307 746v4M310 794v4M314 740v3M314 791v3M332 753v4M334 763v4M349 760v7M351 767v3M351 794v4M360 781v3M364 774v3M377 733v3M377 763v4M384 740v3M393 753v4M400 791v3M405 781v3M405 794v4M410 757v3M415 774v3M420 798v3"/>
<path stroke="#40ffbf" stroke-width="3" d="M353.5 767v3M381.5 743v3M395.5 794v4M440.5 774v3M443.5 784v3M448.5 767v3M451.5 794v4"/>
<path stroke="#50ffaf" stroke-width="1" d="M195.5 798v3M200.5 791v3M207.5 794v4M209.5 791v3M211.5 791v3M235.5 787v4M241.5 794v4M249.5 794v4M257.5 791v3M269.5 781v3M284.5 774v3M287.5 753v4"/>
<path stroke="#50ffaf" stroke-width="2" d="M239 787v4M307 753v4M332 750v3M338 787v4M341 767v3M349 791v3M356 760v3M358 763v4M364 781v3M364 787v4M384 729v4M384 770v4M388 746v4M388 770v4M388 781v3M398 757v3M425 787v4M446 763v4"/>
<path stroke="#50ffaf" stroke-width="3" d="M390.5 767v3M427.5 794v4M432.5 763v4M432.5 781v3M448.5 794v4M504.5 658v3"/>
<path stroke="#60ff9f" stroke-width="1" d="M196.5 791v3M204.5 794v4M222.5 566v3M236.5 791v3M241.5 726v3M261.5 695v4M269.5 791v3M275.5 794v4M298.5 760v3"/>
<path stroke="#60ff9f" stroke-width="2" d="M283 746v4M283 753v4M283 787v4M314 794v4M345 791v3M347 750v3M347 770v4M347 787v4M358 770v4M366 784v3M375 743v3M379 760v3M393 774v3M398 794v4M400 798v3M425 794v4M430 763v4M430 794v4M460 791v3"/>
<path stroke="#60ff9f" stroke-width="3" d="M372.5 784v3M381.5 753v4M381.5 760v3M395.5 791v3M412.5 763v4M432.5 757v3M440.5 787v4M443.5 770v14M457.5 787v4M465.5 787v4M468.5 784v3M468.5 798v3M474.5 784v3M504.5 630v4"/>
<path stroke="#70ff8f" stroke-width="1" d="M192.5 798v3M198.5 791v3M199.5 794v4M201.5 777v4M202.5 777v4M203.5 787v4M205.5 787v4M206.5 787v4M208.5 784v3M210.5 777v4M237.5 791v3M242.5 791v3M249.5 787v4M249.5 798v3M254.5 784v3M258.5 794v4M269.5 777v4M272.5 733v3M278.5 733v3M284.5 781v3M287.5 743v3M290.5 757v3M290.5 763v4M308.5 770v4M324.5 781v3"/>
<path stroke="#70ff8f" stroke-width="2" d="M231 794v4M251 794v4M264 774v3M271 746v4M286 791v3M307 743v3M330 787v4M343 791v3M345 750v3M364 777v4M364 784v3M366 791v3M370 787v4M400 794v4M430 777v4M438 777v4"/>
<path stroke="#70ff8f" stroke-width="3" d="M372.5 794v4M440.5 781v3M457.5 798v3M462.5 784v3M468.5 791v3M471.5 791v3M504.5 583v3"/>
<path stroke="#80ff80" stroke-width="1" d="M193.5 794v4M204.5 787v4M220.5 787v4M222.5 685v3M242.5 794v7M244.5 791v3M247.5 791v3M257.5 798v3M261.5 794v4M269.5 794v4M287.5 791v3M339.5 743v3"/>
<path stroke="#80ff80" stroke-width="2" d="M231 791v3M251 787v4M267 740v3M267 794v4M274 774v3M274 784v3M310 791v3M317 770v4M332 774v3M345 794v4M349 794v4M351 791v3M362 798v3M364 794v4M384 743v3M386 750v7M460 777v4"/>
<path stroke="#80ff80" stroke-width="3" d="M353.5 781v3M395.5 787v4M412.5 781v3M427.5 784v3M451.5 767v3M457.5 770v4M468.5 787v4M483.5 798v3"/>
<path stroke="#8fff70" stroke-width="1" d="M191.5 794v4M210.5 794v4M212.5 787v4M221.5 787v4M225.5 791v3M229.5 760v3M229.5 767v3M244.5 787v4M248.5 794v4M253.5 733v3M254.5 791v3M261.5 791v3M261.5 798v3M268.5 791v3M269.5 733v3M284.5 791v3M298.5 794v4M324.5 784v3"/>
<path stroke="#8fff70" stroke-width="2" d="M271 757v3M274 787v4M274 794v4M277 753v4M283 781v6M292 777v4M295 753v4M297 753v4M300 781v3M302 784v3M312 763v4M323 760v3M334 787v4M336 784v7M349 787v4M360 794v4M362 787v4M362 794v4M364 767v3M366 781v3M370 798v3M384 791v3M398 791v3M405 757v6M460 784v3"/>
<path stroke="#8fff70" stroke-width="3" d="M353.5 753v4M432.5 760v3M465.5 777v7"/>
<path stroke="#9fff60" stroke-width="1" d="M194.5 791v3M200.5 794v4M209.5 767v7M221.5 777v7M221.5 794v4M223.5 787v4M224.5 787v4M235.5 784v3M240.5 794v4M242.5 787v4M244.5 794v4M252.5 791v3M253.5 787v4M257.5 794v4M258.5 784v3M258.5 798v3M272.5 774v3M275.5 740v3M293.5 774v3M315.5 760v3"/>
<path stroke="#9fff60" stroke-width="2" d="M256 787v4M280 763v4M295 763v4M300 770v4M310 787v4M312 787v4M328 791v3M341 774v3M341 794v4M347 794v4M349 798v3M356 770v4M360 787v4M366 774v3M384 723v3M384 757v3M393 777v4M405 753v4M415 767v3M430 791v3"/>
<path stroke="#9fff60" stroke-width="3" d="M372.5 746v4M381.5 757v3M390.5 753v4M454.5 770v4M504.5 654v4M504.5 723v3"/>
<path stroke="#9fff60" stroke-width="4" d="M511 586v4"/>
<path stroke="#afff50" stroke-width="1" d="M199.5 791v3M202.5 794v4M203.5 791v3M205.5 791v3M207.5 781v3M210.5 781v3M215.5 791v3M216.5 787v7M218.5 787v4M222.5 665v3M224.5 743v3M225.5 794v4M226.5 787v11M227.5 794v4M228.5 781v3M229.5 784v3M247.5 787v4M252.5 794v4M253.5 746v4M253.5 760v3M254.5 781v3M261.5 746v4M268.5 763v4M268.5 794v4M272.5 791v3M278.5 784v3M281.5 798v3M284.5 794v4M287.5 733v3M287.5 794v4"/>
<path stroke="#afff50" stroke-width="2" d="M239 791v3M251 791v3M271 753v4M297 791v3M300 760v3M300 784v3M310 777v4M312 781v6M319 784v3M326 774v3M332 791v3M336 757v3M338 774v3M345 767v3M360 767v3M366 787v4M379 746v7M393 781v3M400 753v7M400 763v4M400 781v3M430 784v3M460 794v4"/>
<path stroke="#afff50" stroke-width="3" d="M381.5 746v4M390.5 781v3M422.5 791v3M427.5 791v3M435.5 760v3M443.5 767v3M465.5 794v4M477.5 794v4M492.5 798v3"/>
<path stroke="#bfff40" stroke-width="1" d="M195.5 787v4M202.5 798v3M203.5 767v3M204.5 791v3M210.5 784v3M214.5 787v4M215.5 787v4M215.5 794v4M217.5 791v3M219.5 794v4M222.5 719v4M227.5 787v4M232.5 791v3M233.5 787v4M236.5 794v4M240.5 729v4M254.5 787v4M257.5 787v4M261.5 757v3M268.5 770v4M275.5 791v3M278.5 791v3M290.5 784v3M293.5 777v4M315.5 791v3M324.5 774v3M324.5 791v3"/>
<path stroke="#bfff40" stroke-width="2" d="M264 794v4M271 787v4M274 791v3M280 791v3M286 798v3M289 781v3M300 794v7M305 521v4M305 787v4M307 763v4M310 763v4M314 784v3M317 753v4M341 781v3M345 784v3M360 784v3M362 791v3M364 791v3M384 753v4M405 750v3M405 784v3M405 798v3M410 787v4M425 781v3M438 791v3"/>
<path stroke="#bfff40" stroke-width="3" d="M372.5 750v3M395.5 757v3M412.5 777v4M427.5 798v3M440.5 784v3M440.5 794v4M457.5 794v4M462.5 770v4M471.5 794v7M477.5 798v3M504.5 651v3"/>
<path stroke="#bfff40" stroke-width="4" d="M534 733v3"/>
<path stroke="#cfff30" stroke-width="1" d="M210.5 791v3M213.5 787v7M214.5 774v3M215.5 777v4M217.5 798v3M221.5 784v3M221.5 791v3M227.5 763v4M229.5 794v4M243.5 787v4M243.5 794v4M248.5 791v3M262.5 753v4M262.5 760v3M262.5 787v4M272.5 753v4M272.5 760v3M275.5 787v4M290.5 781v3M293.5 784v3M308.5 794v4M339.5 787v4"/>
<path stroke="#cfff30" stroke-width="2" d="M239 794v4M271 784v3M280 787v4M292 736v4M300 767v3M307 774v3M310 750v3M310 770v4M323 787v4M336 750v3M341 760v7M341 791v3M343 794v4M347 760v3M349 743v3M360 763v4M360 791v3M366 794v4M370 784v3M384 760v3M388 750v3M400 787v4M425 784v3M430 798v3"/>
<path stroke="#cfff30" stroke-width="3" d="M390.5 774v3M395.5 798v3M427.5 767v3M432.5 798v3M457.5 767v3M457.5 784v3M468.5 794v4M474.5 787v4M504.5 613v4"/>
<path stroke="#dfff20" stroke-width="1" d="M192.5 794v4M204.5 798v3M211.5 787v4M216.5 770v4M216.5 784v3M217.5 794v4M219.5 781v3M220.5 767v7M222.5 791v7M223.5 791v3M224.5 794v4M227.5 784v3M229.5 770v4M233.5 767v3M235.5 746v7M237.5 794v4M242.5 726v3M258.5 787v4M261.5 767v3M261.5 787v4M262.5 794v4M265.5 760v3M275.5 767v3M278.5 757v3M281.5 791v3M315.5 784v3M324.5 746v4"/>
<path stroke="#dfff20" stroke-width="2" d="M231 787v4M239 784v3M264 787v7M264 798v3M280 777v4M280 784v3M295 798v3M300 787v4M314 753v4M317 777v4M317 791v3M323 784v3M323 791v3M336 781v3M341 770v4M345 798v3M347 743v3M351 740v3M384 767v3M430 767v3M430 774v3M438 767v7"/>
<path stroke="#dfff20" stroke-width="3" d="M390.5 777v4M412.5 767v3M432.5 794v4M451.5 791v3M486.5 791v7"/>
<path stroke="#efff10" stroke-width="1" d="M196.5 787v4M199.5 784v3M200.5 787v4M214.5 777v7M216.5 760v3M219.5 791v3M224.5 760v3M227.5 791v3M227.5 798v3M243.5 791v3M247.5 794v4M249.5 784v3M253.5 784v3M257.5 767v3M258.5 791v3M261.5 763v4M262.5 763v4M269.5 753v4M269.5 787v4M281.5 784v3M281.5 794v4M284.5 784v3M284.5 798v3M324.5 743v3"/>
<path stroke="#efff10" stroke-width="2" d="M251 746v4M260 791v7M271 781v3M286 794v4M289 794v4M300 763v4M300 791v3M302 787v4M307 740v3M307 750v3M312 753v4M314 787v4M317 784v3M317 794v4M319 787v4M319 794v4M321 736v4M323 794v4M336 777v4M341 746v4M347 784v3M349 781v3M356 767v3M356 781v3M360 760v3M375 736v4M384 746v4M415 777v4"/>
<path stroke="#efff10" stroke-width="3" d="M395.5 763v4M435.5 767v3M440.5 791v3M443.5 787v4M454.5 763v4M462.5 777v4M474.5 791v3M504.5 586v4M504.5 637v4M504.5 648v3"/>
<path stroke="#ffff00" stroke-width="1" d="M194.5 787v4M211.5 781v3M214.5 784v3M222.5 651v3M222.5 784v3M226.5 784v3M233.5 763v4M233.5 784v3M234.5 784v3M257.5 784v3M281.5 787v4M284.5 787v4M290.5 753v4M298.5 791v3M308.5 774v3M308.5 787v4M324.5 750v3M324.5 777v4M339.5 794v4"/>
<path stroke="#ffff00" stroke-width="2" d="M271 729v4M280 760v3M280 794v4M289 791v3M302 736v4M307 794v4M310 774v3M334 794v4M338 794v4M341 787v4M349 736v4M356 777v4M364 770v4M405 787v4M410 791v3M415 781v3M460 787v4"/>
<path stroke="#ffff00" stroke-width="3" d="M353.5 760v3M353.5 784v3M427.5 770v4M448.5 798v3M454.5 791v7M465.5 774v3M477.5 791v3M504.5 644v4"/>
<path stroke="#ffef00" stroke-width="1" d="M199.5 787v4M202.5 781v3M202.5 791v3M214.5 791v3M223.5 794v4M226.5 781v3M228.5 784v3M234.5 740v3M241.5 784v3M242.5 757v3M262.5 784v3M268.5 787v4M275.5 750v3M287.5 784v3M290.5 791v3M315.5 712v4M339.5 774v3"/>
<path stroke="#ffef00" stroke-width="2" d="M239 763v4M256 784v3M264 740v3M264 767v3M295 784v3M302 770v4M307 791v3M312 743v3M317 781v3M349 705v4M358 791v3M377 781v3M384 750v3M425 774v7"/>
<path stroke="#ffef00" stroke-width="3" d="M381.5 770v4M381.5 777v4M381.5 787v4M390.5 757v3M440.5 770v4M443.5 791v3M504.5 705v4"/>
<path stroke="#ffdf00" stroke-width="1" d="M193.5 791v3M197.5 787v4M203.5 774v3M204.5 784v3M216.5 781v3M217.5 787v4M224.5 729v4M224.5 763v4M225.5 777v4M228.5 774v3M237.5 784v3M243.5 784v3M247.5 798v3M248.5 784v3M252.5 781v3M253.5 781v3M262.5 791v3M272.5 784v3M284.5 733v3M293.5 787v4M298.5 763v4M324.5 787v4M339.5 784v3"/>
<path stroke="#ffdf00" stroke-width="2" d="M239 798v3M264 784v3M277 767v3M289 763v4M292 757v3M295 781v3M297 787v4M302 781v3M305 784v3M310 784v3M312 760v3M323 781v3M349 712v4M356 794v4M366 763v4M379 777v4M384 726v3M425 770v4"/>
<path stroke="#ffdf00" stroke-width="3" d="M395.5 753v4M465.5 798v3M474.5 794v4M477.5 784v3M480.5 798v3M486.5 798v3"/>
<path stroke="#ffcf00" stroke-width="1" d="M216.5 794v4M219.5 787v4M220.5 791v3M222.5 760v3M223.5 784v3M228.5 791v3M242.5 784v3M243.5 746v4M244.5 781v3M247.5 784v3M248.5 746v4M254.5 774v3M268.5 784v3M269.5 784v3M284.5 740v3M293.5 794v4M303.5 607v3M303.5 791v3M308.5 763v4M339.5 777v4"/>
<path stroke="#ffcf00" stroke-width="2" d="M283 757v3M295 787v4M307 777v4M312 777v4M334 746v4M347 781v3M377 774v3M400 760v3M410 777v4M415 770v4"/>
<path stroke="#ffcf00" stroke-width="3" d="M353.5 757v3M353.5 794v4M381.5 767v3M427.5 781v3M448.5 787v4M457.5 566v3M462.5 791v3M504.5 641v3"/>
<path stroke="#ffbf00" stroke-width="1" d="M219.5 777v4M221.5 774v3M222.5 532v3M222.5 654v4M223.5 777v4M228.5 750v3M228.5 777v4M229.5 781v3M232.5 787v4M241.5 746v4M262.5 746v4M269.5 750v3M287.5 757v3M287.5 774v3M290.5 787v4M293.5 791v3M308.5 753v4"/>
<path stroke="#ffbf00" stroke-width="2" d="M267 757v3M283 760v3M307 736v4M307 784v3M314 777v4M345 757v3M377 798v3M460 774v3"/>
<path stroke="#ffbf00" stroke-width="3" d="M353.5 770v4M353.5 791v3M474.5 798v3M504.5 593v3M504.5 600v3"/>
<path stroke="#ffaf00" stroke-width="1" d="M202.5 787v4M203.5 777v7M228.5 787v4M228.5 798v3M229.5 774v3M244.5 774v3M253.5 743v3M257.5 763v4M258.5 781v3M268.5 746v4M269.5 736v4M278.5 787v4M281.5 767v3M308.5 784v3"/>
<path stroke="#ffaf00" stroke-width="2" d="M251 760v7M260 784v7M274 781v3M286 781v3M289 798v3M292 791v3M302 791v3M310 757v3M312 750v3M312 767v3M345 746v4M356 784v3M398 774v3M460 770v4"/>
<path stroke="#ffaf00" stroke-width="3" d="M395.5 781v3M402.5 781v3M412.5 770v4M448.5 770v4M504.5 596v4"/>
<path stroke="#ff9f00" stroke-width="1" d="M206.5 784v3M213.5 777v4M213.5 784v3M222.5 511v3M228.5 757v3M258.5 774v3M293.5 763v4M339.5 781v3"/>
<path stroke="#ff9f00" stroke-width="2" d="M231 784v3M277 746v4M277 794v4M289 750v3M292 753v4M297 750v3M307 787v4M345 774v3M349 740v3M356 798v3M375 757v3M405 777v4"/>
<path stroke="#ff9f00" stroke-width="3" d="M412.5 774v3M504.5 603v10M504.5 634v3"/>
<path stroke="#ff8f00" stroke-width="1" d="M213.5 781v3M222.5 648v3M223.5 774v3M228.5 743v3M228.5 770v4M228.5 794v4M234.5 729v4M234.5 770v4M235.5 740v3M244.5 770v4M253.5 763v4M293.5 767v3M315.5 781v3"/>
<path stroke="#ff8f00" stroke-width="2" d="M239 781v3M256 781v3M280 781v3M286 777v4M289 767v3M307 781v3M314 767v3M314 774v3M334 791v3"/>
<path stroke="#ff8f00" stroke-width="3" d="M353.5 763v4M407.5 767v3M412.5 750v3M427.5 774v3M454.5 787v4M504.5 590v3"/>
<path stroke="#ff8000" stroke-width="1" d="M212.5 757v3M220.5 760v3M226.5 740v3M228.5 760v3M234.5 750v3M241.5 763v4M253.5 750v3M261.5 743v3M268.5 760v3M269.5 757v6M272.5 763v4M303.5 794v4"/>
<path stroke="#ff8000" stroke-width="2" d="M231 770v4M231 781v3M264 781v3M280 774v3M302 757v3M307 757v3M349 726v3M356 791v3"/>
<path stroke="#ff8000" stroke-width="3" d="M353.5 787v4M372.5 753v4"/>
<path stroke="#ff7000" stroke-width="1" d="M212.5 777v4M216.5 777v4M223.5 753v4M223.5 781v3M226.5 757v3M229.5 712v7M241.5 743v3M243.5 777v4M248.5 726v3M262.5 781v3M272.5 743v3M281.5 763v4M293.5 770v4M339.5 740v3M339.5 750v3"/>
<path stroke="#ff7000" stroke-width="2" d="M260 774v3M264 760v3M271 733v3M286 743v3M289 757v3M289 787v4M292 760v3M297 743v3M297 781v3M341 750v3"/>
<path stroke="#ff7000" stroke-width="3" d="M448.5 784v3"/>
<path stroke="#ff6000" stroke-width="1" d="M210.5 770v4M216.5 763v4M217.5 784v3M222.5 750v3M227.5 760v3M236.5 740v3M241.5 733v3M261.5 777v4M262.5 767v3M265.5 729v4M290.5 794v4"/>
<path stroke="#ff6000" stroke-width="2" d="M264 770v4M271 763v4M271 774v3M274 770v4M280 770v4M323 757v3M460 798v3"/>
<path stroke="#ff6000" stroke-width="3" d="M372.5 777v4M454.5 798v3"/>
<path stroke="#ff5000" stroke-width="1" d="M221.5 757v3M226.5 777v4M229.5 740v3M235.5 760v3M241.5 777v4M257.5 781v3M268.5 767v3M272.5 729v4M272.5 781v3M284.5 729v4M284.5 767v3M287.5 781v3M290.5 777v4M324.5 794v4"/>
<path stroke="#ff5000" stroke-width="2" d="M260 781v3M264 757v3M277 750v3M289 753v4M310 767v3M334 767v3M345 781v3M347 753v4M356 787v4"/>
<path stroke="#ff4000" stroke-width="1" d="M199.5 781v3M206.5 770v4M219.5 763v4M225.5 757v3M232.5 784v3M235.5 757v3M242.5 729v4M242.5 760v3M247.5 774v3M252.5 777v4M257.5 760v3M257.5 774v3M262.5 743v3M298.5 777v4M303.5 781v3"/>
<path stroke="#ff4000" stroke-width="2" d="M286 733v3M347 777v4M349 692v3M349 699v3M349 750v7"/>
<path stroke="#ff4000" stroke-width="3" d="M353.5 740v3"/>
<path stroke="#ff3000" stroke-width="1" d="M200.5 774v3M219.5 784v3M223.5 740v3M224.5 757v3M226.5 753v4M227.5 743v3M228.5 753v4M229.5 777v4M236.5 743v3M241.5 750v3M248.5 750v3M249.5 712v4M252.5 750v3M257.5 770v4M258.5 777v4M262.5 750v3M262.5 777v4"/>
<path stroke="#ff3000" stroke-width="2" d="M260 757v6M280 767v3M289 777v4M305 750v3M334 733v3M345 763v4M347 774v3M375 760v3"/>
<path stroke="#ff2000" stroke-width="1" d="M206.5 774v3M241.5 736v4M324.5 753v4"/>
<path stroke="#ff2000" stroke-width="2" d="M283 736v4M343 767v3M349 709v3M349 719v4"/>
<path stroke="#ff1000" stroke-width="1" d="M200.5 784v3M213.5 767v3M222.5 613v4M227.5 757v3M229.5 733v3M237.5 781v3M252.5 746v4M253.5 757v3M258.5 763v4M262.5 770v4M265.5 736v4M298.5 774v3M308.5 740v3"/>
<path stroke="#ff1000" stroke-width="2" d="M264 723v3M267 699v3M297 733v3M334 777v4M343 781v3M349 716v3"/>
<path stroke="#ff1000" stroke-width="3" d="M353.5 743v3"/>
<path stroke="#ff0000" stroke-width="1" d="M213.5 753v4M214.5 743v3M219.5 750v3M232.5 774v3M235.5 743v3M249.5 781v3M272.5 750v3M275.5 763v4"/>
<path stroke="#ff0000" stroke-width="2" d="M264 736v4M264 763v4M283 729v4M283 767v3M292 767v3M292 794v4M297 736v4"/>
<path stroke="#ff0000" stroke-width="3" d="M427.5 777v4"/>
<path stroke="#ef0000" stroke-width="1" d="M200.5 777v4M226.5 746v4M242.5 767v3M249.5 726v3M253.5 770v4M272.5 736v4M275.5 774v3M308.5 760v3"/>
<path stroke="#ef0000" stroke-width="2" d="M231 753v4M251 781v3M292 743v3M292 774v3M295 777v4M300 746v4M307 760v3M307 770v4M347 746v4"/>
<path stroke="#df0000" stroke-width="1" d="M210.5 763v4M214.5 763v4M229.5 719v4M232.5 740v3M233.5 777v7M293.5 753v4"/>
<path stroke="#df0000" stroke-width="2" d="M274 777v4M295 770v4M300 753v4M302 712v4M343 770v4"/>
<path stroke="#cf0000" stroke-width="1" d="M214.5 767v3M222.5 757v3M226.5 729v4M234.5 753v4M242.5 750v3M242.5 781v3M249.5 723v3M268.5 743v3M284.5 736v4M308.5 736v4"/>
<path stroke="#cf0000" stroke-width="2" d="M231 767v3M271 760v3M286 729v4M317 743v3M334 770v4M345 760v3"/>
<path stroke="#bf0000" stroke-width="1" d="M204.5 777v4M210.5 658v3M211.5 774v3M219.5 760v3M232.5 767v3M236.5 736v4M236.5 753v4M252.5 740v3M257.5 709v3M268.5 699v3M268.5 753v4M315.5 757v3"/>
<path stroke="#bf0000" stroke-width="2" d="M256 777v4M264 750v3M286 736v4M292 781v3M349 733v3"/>
<path stroke="#af0000" stroke-width="1" d="M217.5 685v3M223.5 750v3M227.5 753v4M229.5 753v4M232.5 770v4M234.5 746v4M237.5 729v4M257.5 777v4M262.5 757v3M272.5 777v4M287.5 760v3M290.5 770v4"/>
<path stroke="#af0000" stroke-width="2" d="M251 743v3M289 774v3M334 740v3M345 702v3"/>
<path stroke="#9f0000" stroke-width="1" d="M200.5 781v3M211.5 705v4M215.5 648v3M218.5 784v3M229.5 726v3M234.5 774v3M252.5 753v4M315.5 753v4"/>
<path stroke="#9f0000" stroke-width="2" d="M231 777v4M251 757v3M251 777v4M283 740v3M286 774v3M295 767v3M307 733v3M310 760v3M345 753v4M349 746v4M362 767v3"/>
<path stroke="#8f0000" stroke-width="1" d="M207.5 770v4M214.5 746v4M216.5 774v3M219.5 753v4M221.5 746v4M226.5 719v4M241.5 685v3M244.5 746v4M249.5 709v3"/>
<path stroke="#8f0000" stroke-width="2" d="M246 757v3M260 770v4M277 757v3M312 746v4M332 736v4"/>
<path stroke="#800000" stroke-width="1" d="M171.5 784v3M204.5 774v3M209.5 613v4M209.5 763v4M211.5 770v4M212.5 760v3M212.5 767v10M213.5 757v3M214.5 750v7M214.5 760v3M215.5 750v10M216.5 723v3M216.5 733v7M216.5 750v10M217.5 750v7M217.5 760v10M217.5 774v10M218.5 740v3M218.5 750v13M218.5 774v10M219.5 637v4M219.5 746v4M219.5 757v3M220.5 736v4M220.5 757v3M221.5 750v3M221.5 770v4M222.5 508v3M222.5 514v18M222.5 535v10M222.5 552v10M222.5 569v3M222.5 576v24M222.5 603v10M222.5 620v10M222.5 634v14M222.5 658v3M222.5 668v7M222.5 682v3M222.5 688v11M222.5 702v17M222.5 723v13M222.5 740v10M222.5 763v4M223.5 757v3M223.5 770v4M224.5 705v4M225.5 651v3M226.5 712v4M226.5 750v3M226.5 774v3M227.5 729v4M227.5 746v7M229.5 723v3M229.5 750v3M229.5 757v3M232.5 743v7M232.5 760v7M234.5 716v3M234.5 743v3M236.5 733v3M236.5 746v7M236.5 757v10M237.5 723v6M237.5 733v3M237.5 740v17M237.5 774v7M240.5 723v3M240.5 746v4M240.5 774v3M241.5 740v3M241.5 770v7M242.5 712v11M242.5 736v4M242.5 746v4M242.5 763v4M242.5 770v4M243.5 637v4M243.5 729v17M243.5 753v14M243.5 774v3M244.5 620v4M244.5 705v4M244.5 726v7M244.5 736v4M244.5 757v6M244.5 767v3M247.5 736v10M247.5 770v4M248.5 709v3M248.5 729v4M248.5 753v17M249.5 705v4M249.5 716v3M249.5 729v7M249.5 743v10M249.5 760v10M249.5 774v7M252.5 733v7M252.5 743v3M252.5 757v3M252.5 774v3M253.5 767v3M254.5 736v4M254.5 743v7M254.5 757v17M257.5 671v4M257.5 733v13M257.5 750v10M258.5 733v13M258.5 750v13M258.5 767v3M261.5 733v7M261.5 770v4M262.5 668v3M262.5 733v10M265.5 709v3M265.5 726v3M268.5 712v4M268.5 729v14M268.5 750v3M269.5 740v3M269.5 746v4M275.5 746v4M275.5 753v10M275.5 777v4M281.5 709v3M281.5 726v17M281.5 753v4M287.5 699v3M287.5 750v3M287.5 763v11M287.5 777v4M290.5 767v3M290.5 774v3M293.5 729v4M293.5 743v3M303.5 726v3M303.5 736v4M303.5 750v17M308.5 658v3M308.5 709v3M308.5 733v3M308.5 767v3M315.5 770v4M315.5 777v4M324.5 723v3M324.5 740v3M339.5 702v3M339.5 746v4"/>
<path stroke="#800000" stroke-width="2" d="M231 729v4M231 740v3M231 750v3M239 726v7M246 685v3M246 733v3M246 750v7M251 733v10M251 753v4M251 767v10M256 740v3M256 746v17M256 767v10M260 733v3M260 753v4M264 726v3M264 743v7M264 753v4M277 712v4M277 719v4M277 726v3M277 760v7M280 729v11M280 743v14M283 733v3M283 743v3M286 770v4M289 746v4M289 760v3M289 770v4M292 740v3M292 746v7M292 763v4M292 770v4M295 746v7M297 729v4M297 746v4M300 736v7M300 750v3M302 733v3M302 750v7M302 767v3M302 774v3M305 729v4M305 743v7M305 767v10M307 729v4M307 767v3M312 726v3M314 729v4M314 746v7M317 726v3M323 746v4M326 723v3M336 746v4M341 733v3M341 753v7M343 746v11M343 763v4M345 770v4M345 777v4M349 723v3M349 729v4M360 740v6M362 620v4"/></g>
<g stroke="#000" stroke-width="1.2" fill="none" shape-rendering="crispEdges"><path d="M156.5 494V801.5H948"/><path d="M156.5 801v-7"/><path d="M156.5 494v7"/><path d="M197.5 801v-7"/><path d="M197.5 494v7"/><path d="M280.5 801v-7"/><path d="M280.5 494v7"/><path d="M364.5 801v-7"/><path d="M364.5 494v7"/><path d="M447.5 801v-7"/><path d="M447.5 494v7"/><path d="M530.5 801v-7"/><path d="M530.5 494v7"/><path d="M612.5 801v-7"/><path d="M612.5 494v7"/><path d="M697.5 801v-7"/><path d="M697.5 494v7"/><path d="M780.5 801v-7"/><path d="M780.5 494v7"/><path d="M863.5 801v-7"/><path d="M863.5 494v7"/><path d="M947.5 801v-7"/><path d="M947.5 494v7"/><path d="M156 494.5h8"/><path d="M948 494.5h-9"/><path d="M156 579.5h8"/><path d="M948 579.5h-9"/><path d="M156 664.5h8"/><path d="M948 664.5h-9"/><path d="M156 749.5h8"/><path d="M948 749.5h-9"/></g>
<g shape-rendering="crispEdges"><rect x="980" y="798" width="42" height="5" fill="#00008f"/><rect x="980" y="793" width="42" height="5" fill="#00009f"/><rect x="980" y="789" width="42" height="4" fill="#0000af"/><rect x="980" y="784" width="42" height="5" fill="#0000bf"/><rect x="980" y="779" width="42" height="5" fill="#0000cf"/><rect x="980" y="774" width="42" height="5" fill="#0000df"/><rect x="980" y="769" width="42" height="5" fill="#0000ef"/><rect x="980" y="764" width="42" height="5" fill="#0000ff"/><rect x="980" y="760" width="42" height="4" fill="#0010ff"/><rect x="980" y="755" width="42" height="5" fill="#0020ff"/><rect x="980" y="750" width="42" height="5" fill="#0030ff"/><rect x="980" y="745" width="42" height="5" fill="#0040ff"/><rect x="980" y="740" width="42" height="5" fill="#0050ff"/><rect x="980" y="735" width="42" height="5" fill="#0060ff"/><rect x="980" y="731" width="42" height="4" fill="#0070ff"/><rect x="980" y="726" width="42" height="5" fill="#0080ff"/><rect x="980" y="721" width="42" height="5" fill="#008fff"/><rect x="980" y="716" width="42" height="5" fill="#009fff"/><rect x="980" y="711" width="42" height="5" fill="#00afff"/><rect x="980" y="706" width="42" height="5" fill="#00bfff"/><rect x="980" y="702" width="42" height="4" fill="#00cfff"/><rect x="980" y="697" width="42" height="5" fill="#00dfff"/><rect x="980" y="692" width="42" height="5" fill="#00efff"/><rect x="980" y="687" width="42" height="5" fill="#00ffff"/><rect x="980" y="682" width="42" height="5" fill="#10ffef"/><rect x="980" y="677" width="42" height="5" fill="#20ffdf"/><rect x="980" y="673" width="42" height="4" fill="#30ffcf"/><rect x="980" y="668" width="42" height="5" fill="#40ffbf"/><rect x="980" y="663" width="42" height="5" fill="#50ffaf"/><rect x="980" y="658" width="42" height="5" fill="#60ff9f"/><rect x="980" y="653" width="42" height="5" fill="#70ff8f"/><rect x="980" y="648" width="42" height="5" fill="#80ff80"/><rect x="980" y="644" width="42" height="4" fill="#8fff70"/><rect x="980" y="639" width="42" height="5" fill="#9fff60"/><rect x="980" y="634" width="42" height="5" fill="#afff50"/><rect x="980" y="629" width="42" height="5" fill="#bfff40"/><rect x="980" y="624" width="42" height="5" fill="#cfff30"/><rect x="980" y="620" width="42" height="4" fill="#dfff20"/><rect x="980" y="615" width="42" height="5" fill="#efff10"/><rect x="980" y="610" width="42" height="5" fill="#ffff00"/><rect x="980" y="605" width="42" height="5" fill="#ffef00"/><rect x="980" y="600" width="42" height="5" fill="#ffdf00"/><rect x="980" y="595" width="42" height="5" fill="#ffcf00"/><rect x="980" y="591" width="42" height="4" fill="#ffbf00"/><rect x="980" y="586" width="42" height="5" fill="#ffaf00"/><rect x="980" y="581" width="42" height="5" fill="#ff9f00"/><rect x="980" y="576" width="42" height="5" fill="#ff8f00"/><rect x="980" y="571" width="42" height="5" fill="#ff8000"/><rect x="980" y="566" width="42" height="5" fill="#ff7000"/><rect x="980" y="562" width="42" height="4" fill="#ff6000"/><rect x="980" y="557" width="42" height="5" fill="#ff5000"/><rect x="980" y="552" width="42" height="5" fill="#ff4000"/><rect x="980" y="547" width="42" height="5" fill="#ff3000"/><rect x="980" y="542" width="42" height="5" fill="#ff2000"/><rect x="980" y="537" width="42" height="5" fill="#ff1000"/><rect x="980" y="533" width="42" height="4" fill="#ff0000"/><rect x="980" y="528" width="42" height="5" fill="#ef0000"/><rect x="980" y="523" width="42" height="5" fill="#df0000"/><rect x="980" y="518" width="42" height="5" fill="#cf0000"/><rect x="980" y="513" width="42" height="5" fill="#bf0000"/><rect x="980" y="508" width="42" height="5" fill="#af0000"/><rect x="980" y="504" width="42" height="4" fill="#9f0000"/><rect x="980" y="499" width="42" height="5" fill="#8f0000"/><rect x="980" y="494" width="42" height="5" fill="#800000"/><path d="M979.5 494V803.5H1022" stroke="#000" stroke-width="1.4" fill="none"/><path d="M979 648.5h4M1022 648.5h-4M979 494.5h4M1022 494.5h-5" stroke="#000" stroke-width="1" fill="none"/></g>
<g><text x="149.4" y="506.0" text-anchor="end">800</text><text x="149.4" y="591.0" text-anchor="end">600</text><text x="149.4" y="676.0" text-anchor="end">400</text><text x="149.4" y="761.0" text-anchor="end">200</text><text x="156.2" y="837.0" text-anchor="middle">1</text><text x="197.2" y="837.0" text-anchor="middle">2</text><text x="280.2" y="837.0" text-anchor="middle">4</text><text x="364.2" y="837.0" text-anchor="middle">6</text><text x="447.2" y="837.0" text-anchor="middle">8</text><text x="530.2" y="837.0" text-anchor="middle">10</text><text x="612.2" y="837.0" text-anchor="middle">12</text><text x="697.2" y="837.0" text-anchor="middle">14</text><text x="780.2" y="837.0" text-anchor="middle">16</text><text x="863.2" y="837.0" text-anchor="middle">18</text><text x="947.2" y="837.0" text-anchor="middle">20</text><text x="1026.3" y="506.1">5</text><text x="1026.3" y="660.6">0</text><text x="1026.3" y="815.1">-5</text></g>
</svg>
</body></html>
